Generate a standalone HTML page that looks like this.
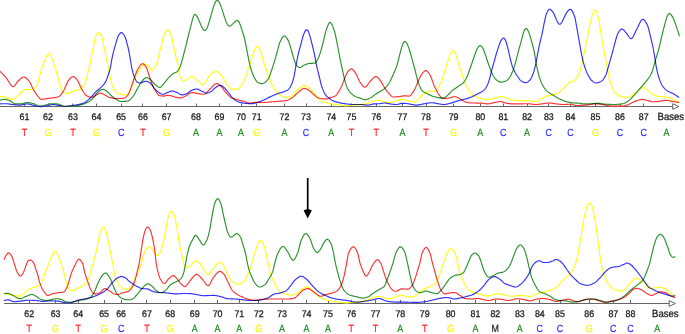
<!DOCTYPE html>
<html><head><meta charset="utf-8"><style>
html,body{margin:0;padding:0;background:#fff;overflow:hidden;}
svg{display:block;}
.c{filter:blur(0.35px);}
.c path{mix-blend-mode:multiply;fill:none;stroke-width:1.15;stroke-linejoin:round;stroke-linecap:round;}
.ax line,.ax path{stroke:#666;stroke-width:1;}
.ax .ah{fill:#fff;}
.t{filter:blur(0.2px);}
text{font-family:"Liberation Sans",sans-serif;text-anchor:middle;text-rendering:geometricPrecision;}
.num{font-size:9.6px;fill:#1c1c1c;stroke:#1c1c1c;stroke-width:0.3px;}
.base{font-size:10.4px;stroke-width:0.2px;}
.bl{font-size:10.4px;fill:#1c1c1c;stroke:#1c1c1c;stroke-width:0.3px;text-anchor:start;}
</style></head><body>
<svg width="685" height="334" viewBox="0 0 685 334">
<g class="ax">
<line x1="0" y1="106.5" x2="673" y2="106.5"/>
<path class="ah" d="M672.7,103.7 L679,106.5 L672.7,109.3 Z"/>
<line x1="24.5" y1="106.5" x2="24.5" y2="103.5"/>
<line x1="48.5" y1="106.5" x2="48.5" y2="103.5"/>
<line x1="72.5" y1="106.5" x2="72.5" y2="103.5"/>
<line x1="96.5" y1="106.5" x2="96.5" y2="103.5"/>
<line x1="121.5" y1="106.5" x2="121.5" y2="103.5"/>
<line x1="142.5" y1="106.5" x2="142.5" y2="103.5"/>
<line x1="166.5" y1="106.5" x2="166.5" y2="103.5"/>
<line x1="196.5" y1="106.5" x2="196.5" y2="103.5"/>
<line x1="219.5" y1="106.5" x2="219.5" y2="103.5"/>
<line x1="241.5" y1="106.5" x2="241.5" y2="103.5"/>
<line x1="256.5" y1="106.5" x2="256.5" y2="103.5"/>
<line x1="284.5" y1="106.5" x2="284.5" y2="103.5"/>
<line x1="306.5" y1="106.5" x2="306.5" y2="103.5"/>
<line x1="331.5" y1="106.5" x2="331.5" y2="103.5"/>
<line x1="351.5" y1="106.5" x2="351.5" y2="103.5"/>
<line x1="376.5" y1="106.5" x2="376.5" y2="103.5"/>
<line x1="402.5" y1="106.5" x2="402.5" y2="103.5"/>
<line x1="426.5" y1="106.5" x2="426.5" y2="103.5"/>
<line x1="453.5" y1="106.5" x2="453.5" y2="103.5"/>
<line x1="480.5" y1="106.5" x2="480.5" y2="103.5"/>
<line x1="503.5" y1="106.5" x2="503.5" y2="103.5"/>
<line x1="527.5" y1="106.5" x2="527.5" y2="103.5"/>
<line x1="548.5" y1="106.5" x2="548.5" y2="103.5"/>
<line x1="570.5" y1="106.5" x2="570.5" y2="103.5"/>
<line x1="595.5" y1="106.5" x2="595.5" y2="103.5"/>
<line x1="620.5" y1="106.5" x2="620.5" y2="103.5"/>
<line x1="643.5" y1="106.5" x2="643.5" y2="103.5"/>
<line x1="4" y1="303.5" x2="669.5" y2="303.5"/>
<path class="ah" d="M669.2,300.7 L675.5,303.5 L669.2,306.3 Z"/>
<line x1="29.5" y1="303.5" x2="29.5" y2="299.9"/>
<line x1="55.5" y1="303.5" x2="55.5" y2="299.9"/>
<line x1="78.5" y1="303.5" x2="78.5" y2="299.9"/>
<line x1="104.5" y1="303.5" x2="104.5" y2="299.9"/>
<line x1="121.5" y1="303.5" x2="121.5" y2="299.9"/>
<line x1="146.5" y1="303.5" x2="146.5" y2="299.9"/>
<line x1="170.5" y1="303.5" x2="170.5" y2="299.9"/>
<line x1="194.5" y1="303.5" x2="194.5" y2="299.9"/>
<line x1="217.5" y1="303.5" x2="217.5" y2="299.9"/>
<line x1="239.5" y1="303.5" x2="239.5" y2="299.9"/>
<line x1="258.5" y1="303.5" x2="258.5" y2="299.9"/>
<line x1="282.5" y1="303.5" x2="282.5" y2="299.9"/>
<line x1="306.5" y1="303.5" x2="306.5" y2="299.9"/>
<line x1="328.5" y1="303.5" x2="328.5" y2="299.9"/>
<line x1="351.5" y1="303.5" x2="351.5" y2="299.9"/>
<line x1="375.5" y1="303.5" x2="375.5" y2="299.9"/>
<line x1="400.5" y1="303.5" x2="400.5" y2="299.9"/>
<line x1="424.5" y1="303.5" x2="424.5" y2="299.9"/>
<line x1="450.5" y1="303.5" x2="450.5" y2="299.9"/>
<line x1="475.5" y1="303.5" x2="475.5" y2="299.9"/>
<line x1="495.5" y1="303.5" x2="495.5" y2="299.9"/>
<line x1="519.5" y1="303.5" x2="519.5" y2="299.9"/>
<line x1="539.5" y1="303.5" x2="539.5" y2="299.9"/>
<line x1="560.5" y1="303.5" x2="560.5" y2="299.9"/>
<line x1="589.5" y1="303.5" x2="589.5" y2="299.9"/>
<line x1="613.5" y1="303.5" x2="613.5" y2="299.9"/>
<line x1="630.5" y1="303.5" x2="630.5" y2="299.9"/>
</g>
<g class="c">
<path d="M0.0,96.40 0.5,96.43 1.0,96.47 1.5,96.52 2.0,96.58 2.5,96.65 3.0,96.73 3.5,96.81 4.0,96.90 4.5,97.00 5.0,97.09 5.5,97.20 6.0,97.30 6.5,97.43 7.0,97.60 7.5,97.81 8.0,98.03 8.5,98.27 9.0,98.51 9.5,98.74 10.0,98.95 10.5,99.13 11.0,99.27 11.5,99.37 12.0,99.40 12.5,99.35 13.0,99.22 13.5,99.00 14.0,98.73 14.5,98.41 15.0,98.06 15.5,97.68 16.0,97.30 16.5,96.92 17.0,96.55 17.5,96.13 18.0,95.65 18.5,95.12 19.0,94.58 19.5,94.02 20.0,93.48 20.5,92.96 21.0,92.49 21.5,92.07 22.0,91.70 22.5,91.32 23.0,90.92 23.5,90.55 24.0,90.19 24.5,89.88 25.0,89.62 25.5,89.43 26.0,89.32 26.5,89.30 27.0,89.32 27.5,89.35 28.0,89.39 28.5,89.43 29.0,89.48 29.5,89.52 30.0,89.56 30.5,89.59 31.0,89.60 31.5,89.58 32.0,89.51 32.5,89.39 33.0,89.22 33.5,89.02 34.0,88.78 34.5,88.51 35.0,88.17 35.5,87.57 36.0,86.73 36.5,85.71 37.0,84.54 37.5,83.28 38.0,81.98 38.5,80.65 39.0,79.01 39.5,77.11 40.0,75.05 40.5,72.97 41.0,70.97 41.5,69.19 42.0,67.73 42.5,66.38 43.0,65.00 43.5,63.62 44.0,62.25 44.5,60.92 45.0,59.65 45.5,58.45 46.0,57.34 46.5,56.35 47.0,55.48 47.5,54.77 48.0,54.22 48.5,53.86 49.0,53.70 49.5,53.81 50.0,54.25 50.5,54.97 51.0,55.93 51.5,57.11 52.0,58.45 52.5,59.92 53.0,61.47 53.5,63.07 54.0,64.67 54.5,66.23 55.0,67.72 55.5,69.18 56.0,70.77 56.5,72.46 57.0,74.20 57.5,75.96 58.0,77.69 58.5,79.36 59.0,80.98 59.5,82.73 60.0,84.52 60.5,86.28 61.0,87.90 61.5,89.29 62.0,90.36 62.5,91.04 63.0,91.58 63.5,92.07 64.0,92.47 64.5,92.79 65.0,93.02 65.5,93.14 66.0,93.24 66.5,93.32 67.0,93.37 67.5,93.40 68.0,93.37 68.5,93.27 69.0,93.11 69.5,92.90 70.0,92.64 70.5,92.36 71.0,92.07 71.5,91.78 72.0,91.49 72.5,91.23 73.0,91.01 73.5,90.83 74.0,90.70 74.5,90.59 75.0,90.50 75.5,90.42 76.0,90.34 76.5,90.27 77.0,90.20 77.5,90.12 78.0,90.03 78.5,89.92 79.0,89.79 79.5,89.63 80.0,89.42 80.5,89.09 81.0,88.65 81.5,88.14 82.0,87.56 82.5,86.93 83.0,86.27 83.5,85.58 84.0,84.80 84.5,83.92 85.0,82.93 85.5,81.81 86.0,80.55 86.5,79.05 87.0,77.06 87.5,74.75 88.0,72.34 88.5,70.06 89.0,67.86 89.5,65.65 90.0,63.42 90.5,61.15 91.0,58.84 91.5,56.46 92.0,53.97 92.5,51.44 93.0,48.92 93.5,46.47 94.0,43.99 94.5,41.29 95.0,38.71 95.5,36.57 96.0,35.20 96.5,34.36 97.0,33.63 97.5,33.05 98.0,32.70 98.5,32.60 99.0,32.73 99.5,33.01 100.0,33.44 100.5,33.98 101.0,34.63 101.5,35.37 102.0,36.86 102.5,39.12 103.0,41.79 103.5,44.50 104.0,46.96 104.5,49.45 105.0,52.00 105.5,54.54 106.0,56.97 106.5,59.22 107.0,61.27 107.5,63.25 108.0,65.29 108.5,67.52 109.0,70.17 109.5,73.22 110.0,76.13 110.5,78.46 111.0,80.54 111.5,82.46 112.0,84.20 112.5,85.72 113.0,86.98 113.5,88.03 114.0,89.00 114.5,89.90 115.0,90.71 115.5,91.41 116.0,92.00 116.5,92.45 117.0,92.80 117.5,93.11 118.0,93.40 118.5,93.66 119.0,93.89 119.5,94.10 120.0,94.28 120.5,94.42 121.0,94.53 121.5,94.60 122.0,94.65 122.5,94.70 123.0,94.75 123.5,94.79 124.0,94.82 124.5,94.85 125.0,94.87 125.5,94.89 126.0,94.90 126.5,94.88 127.0,94.67 127.5,94.26 128.0,93.72 128.5,93.08 129.0,92.41 129.5,91.71 130.0,90.86 130.5,89.83 131.0,88.70 131.5,87.50 132.0,86.14 132.5,84.58 133.0,82.94 133.5,81.37 134.0,80.00 134.5,78.79 135.0,77.63 135.5,76.51 136.0,75.43 136.5,74.41 137.0,73.43 137.5,72.52 138.0,71.65 138.5,70.85 139.0,70.11 139.5,69.46 140.0,68.87 140.5,68.31 141.0,67.74 141.5,67.11 142.0,66.35 142.5,65.56 143.0,64.82 143.5,64.25 144.0,63.93 144.5,63.92 145.0,64.03 145.5,64.23 146.0,64.51 146.5,64.83 147.0,65.20 147.5,65.59 148.0,65.99 148.5,66.38 149.0,66.92 149.5,67.62 150.0,68.39 150.5,69.14 151.0,69.78 151.5,70.23 152.0,70.40 152.5,70.28 153.0,69.94 153.5,69.42 154.0,68.76 154.5,68.00 155.0,67.16 155.5,66.30 156.0,65.24 156.5,63.86 157.0,62.22 157.5,60.41 158.0,58.49 158.5,56.55 159.0,54.66 159.5,52.78 160.0,50.71 160.5,48.53 161.0,46.31 161.5,44.11 162.0,42.02 162.5,40.11 163.0,38.45 163.5,37.07 164.0,35.72 164.5,34.38 165.0,33.10 165.5,31.95 166.0,30.99 166.5,30.28 167.0,29.87 167.5,29.82 168.0,30.05 168.5,30.51 169.0,31.16 169.5,31.96 170.0,32.89 170.5,33.91 171.0,34.98 171.5,36.29 172.0,38.16 172.5,40.48 173.0,43.07 173.5,45.80 174.0,48.51 174.5,51.06 175.0,53.34 175.5,55.50 176.0,57.60 176.5,59.69 177.0,61.83 177.5,64.08 178.0,66.47 178.5,69.19 179.0,72.70 179.5,75.20 180.0,76.40 180.5,77.47 181.0,78.42 181.5,79.22 182.0,79.88 182.5,80.38 183.0,80.72 183.5,80.89 184.0,80.88 184.5,80.77 185.0,80.57 185.5,80.32 186.0,80.01 186.5,79.69 187.0,79.35 187.5,79.03 188.0,78.74 188.5,78.41 189.0,78.03 189.5,77.63 190.0,77.23 190.5,76.87 191.0,76.57 191.5,76.37 192.0,76.30 192.5,76.38 193.0,76.60 193.5,76.92 194.0,77.34 194.5,77.81 195.0,78.32 195.5,78.83 196.0,79.32 196.5,79.77 197.0,80.15 197.5,80.55 198.0,80.98 198.5,81.42 199.0,81.88 199.5,82.33 200.0,82.76 200.5,83.18 201.0,83.55 201.5,83.88 202.0,84.15 202.5,84.35 203.0,84.47 203.5,84.49 204.0,84.32 204.5,83.94 205.0,83.37 205.5,82.65 206.0,81.81 206.5,80.90 207.0,79.95 207.5,78.98 208.0,78.04 208.5,77.15 209.0,76.36 209.5,75.70 210.0,75.20 210.5,74.79 211.0,74.38 211.5,73.97 212.0,73.57 212.5,73.19 213.0,72.83 213.5,72.50 214.0,72.20 214.5,71.94 215.0,71.72 215.5,71.56 216.0,71.45 216.5,71.40 217.0,71.45 217.5,71.62 218.0,71.92 218.5,72.31 219.0,72.79 219.5,73.33 220.0,73.92 220.5,74.54 221.0,75.17 221.5,75.80 222.0,76.40 222.5,77.05 223.0,77.81 223.5,78.66 224.0,79.56 224.5,80.50 225.0,81.46 225.5,82.40 226.0,83.31 226.5,84.16 227.0,84.92 227.5,85.57 228.0,86.10 228.5,86.58 229.0,87.06 229.5,87.53 230.0,87.98 230.5,88.38 231.0,88.72 231.5,89.00 232.0,89.19 232.5,89.29 233.0,89.30 233.5,89.30 234.0,89.30 234.5,89.30 235.0,89.30 235.5,89.30 236.0,89.30 236.5,89.30 237.0,89.30 237.5,89.30 238.0,89.20 238.5,88.91 239.0,88.46 239.5,87.89 240.0,87.21 240.5,86.46 241.0,85.67 241.5,84.86 242.0,84.06 242.5,83.29 243.0,82.47 243.5,81.58 244.0,80.62 244.5,79.59 245.0,78.51 245.5,77.36 246.0,76.15 246.5,74.76 247.0,73.21 247.5,71.58 248.0,69.98 248.5,68.50 249.0,67.06 249.5,65.53 250.0,63.94 250.5,62.31 251.0,60.65 251.5,58.99 252.0,57.35 252.5,55.74 253.0,54.20 253.5,52.74 254.0,51.38 254.5,50.14 255.0,49.04 255.5,48.10 256.0,47.35 256.5,46.80 257.0,46.48 257.5,46.41 258.0,46.62 258.5,47.12 259.0,47.88 259.5,48.86 260.0,50.04 260.5,51.39 261.0,52.88 261.5,54.48 262.0,56.16 262.5,57.89 263.0,59.65 263.5,61.39 264.0,63.10 264.5,64.75 265.0,66.30 265.5,67.73 266.0,69.07 266.5,70.43 267.0,71.80 267.5,73.16 268.0,74.51 268.5,75.83 269.0,77.11 269.5,78.34 270.0,79.60 270.5,80.86 271.0,82.12 271.5,83.34 272.0,84.52 272.5,85.63 273.0,86.66 273.5,87.59 274.0,88.40 274.5,89.13 275.0,89.83 275.5,90.50 276.0,91.14 276.5,91.75 277.0,92.32 277.5,92.86 278.0,93.35 278.5,93.81 279.0,94.22 279.5,94.58 280.0,94.90 280.5,95.19 281.0,95.48 281.5,95.77 282.0,96.04 282.5,96.30 283.0,96.54 283.5,96.75 284.0,96.94 284.5,97.09 285.0,97.20 285.5,97.28 286.0,97.30 286.5,97.29 287.0,97.27 287.5,97.23 288.0,97.17 288.5,97.11 289.0,97.03 289.5,96.94 290.0,96.85 290.5,96.74 291.0,96.61 291.5,96.37 292.0,96.02 292.5,95.59 293.0,95.09 293.5,94.53 294.0,93.94 294.5,93.32 295.0,92.71 295.5,92.10 296.0,91.52 296.5,91.00 297.0,90.51 297.5,90.00 298.0,89.49 298.5,88.98 299.0,88.49 299.5,88.03 300.0,87.63 300.5,87.30 301.0,87.00 301.5,86.71 302.0,86.42 302.5,86.16 303.0,85.93 303.5,85.76 304.0,85.64 304.5,85.60 305.0,85.64 305.5,85.75 306.0,85.91 306.5,86.14 307.0,86.40 307.5,86.71 308.0,87.04 308.5,87.39 309.0,87.75 309.5,88.11 310.0,88.47 310.5,88.87 311.0,89.33 311.5,89.83 312.0,90.37 312.5,90.95 313.0,91.55 313.5,92.18 314.0,92.81 314.5,93.45 315.0,94.10 315.5,94.83 316.0,95.59 316.5,96.33 317.0,97.00 317.5,97.62 318.0,98.23 318.5,98.82 319.0,99.36 319.5,99.84 320.0,100.23 320.5,100.55 321.0,100.84 321.5,101.10 322.0,101.35 322.5,101.57 323.0,101.77 323.5,101.96 324.0,102.13 324.5,102.30 325.0,102.46 325.5,102.61 326.0,102.76 326.5,102.90 327.0,103.03 327.5,103.16 328.0,103.28 328.5,103.40 329.0,103.50 329.5,103.60 330.0,103.70 330.5,103.78 331.0,103.86 331.5,103.94 332.0,104.00 332.5,104.07 333.0,104.13 333.5,104.19 334.0,104.24 334.5,104.29 335.0,104.35 335.5,104.40 336.0,104.45 336.5,104.50 337.0,104.55 337.5,104.60 338.0,104.66 338.5,104.71 339.0,104.77 339.5,104.84 340.0,104.92 340.5,105.00 341.0,105.09 341.5,105.18 342.0,105.28 342.5,105.37 343.0,105.46 343.5,105.54 344.0,105.62 344.5,105.68 345.0,105.74 345.5,105.77 346.0,105.80 346.5,105.80 347.0,105.78 347.5,105.75 348.0,105.71 348.5,105.66 349.0,105.59 349.5,105.53 350.0,105.45 350.5,105.38 351.0,105.30 351.5,105.23 352.0,105.16 352.5,105.10 353.0,105.04 353.5,105.00 354.0,104.96 354.5,104.93 355.0,104.90 355.5,104.88 356.0,104.85 356.5,104.83 357.0,104.81 357.5,104.79 358.0,104.76 358.5,104.74 359.0,104.71 359.5,104.68 360.0,104.64 360.5,104.60 361.0,104.55 361.5,104.50 362.0,104.44 362.5,104.38 363.0,104.30 363.5,104.23 364.0,104.14 364.5,104.05 365.0,103.96 365.5,103.86 366.0,103.75 366.5,103.64 367.0,103.52 367.5,103.40 368.0,103.27 368.5,103.11 369.0,102.91 369.5,102.69 370.0,102.44 370.5,102.19 371.0,101.95 371.5,101.72 372.0,101.52 372.5,101.35 373.0,101.23 373.5,101.11 374.0,100.99 374.5,100.87 375.0,100.76 375.5,100.66 376.0,100.56 376.5,100.48 377.0,100.41 377.5,100.36 378.0,100.32 378.5,100.30 379.0,100.31 379.5,100.36 380.0,100.46 380.5,100.58 381.0,100.73 381.5,100.89 382.0,101.05 382.5,101.22 383.0,101.37 383.5,101.50 384.0,101.63 384.5,101.77 385.0,101.92 385.5,102.07 386.0,102.22 386.5,102.35 387.0,102.47 387.5,102.58 388.0,102.65 388.5,102.69 389.0,102.70 389.5,102.67 390.0,102.61 390.5,102.52 391.0,102.41 391.5,102.28 392.0,102.14 392.5,101.98 393.0,101.82 393.5,101.65 394.0,101.49 394.5,101.33 395.0,101.17 395.5,101.03 396.0,100.90 396.5,100.77 397.0,100.64 397.5,100.49 398.0,100.34 398.5,100.19 399.0,100.04 399.5,99.90 400.0,99.77 400.5,99.65 401.0,99.55 401.5,99.47 402.0,99.42 402.5,99.40 403.0,99.42 403.5,99.48 404.0,99.59 404.5,99.72 405.0,99.89 405.5,100.06 406.0,100.25 406.5,100.43 407.0,100.61 407.5,100.77 408.0,100.90 408.5,101.02 409.0,101.15 409.5,101.29 410.0,101.43 410.5,101.56 411.0,101.69 411.5,101.80 412.0,101.90 412.5,101.99 413.0,102.05 413.5,102.09 414.0,102.10 414.5,102.02 415.0,101.85 415.5,101.59 416.0,101.27 416.5,100.91 417.0,100.50 417.5,100.08 418.0,99.66 418.5,99.26 419.0,98.86 419.5,98.40 420.0,97.88 420.5,97.33 421.0,96.74 421.5,96.15 422.0,95.56 422.5,94.99 423.0,94.46 423.5,93.97 424.0,93.55 424.5,93.21 425.0,92.95 425.5,92.69 426.0,92.44 426.5,92.20 427.0,91.98 427.5,91.79 428.0,91.63 428.5,91.51 429.0,91.43 429.5,91.40 430.0,91.40 430.5,91.40 431.0,91.40 431.5,91.40 432.0,91.40 432.5,91.40 433.0,91.40 433.5,91.40 434.0,91.40 434.5,91.40 435.0,91.40 435.5,91.40 436.0,91.26 436.5,90.86 437.0,90.25 437.5,89.46 438.0,88.53 438.5,87.50 439.0,86.42 439.5,85.31 440.0,84.23 440.5,83.18 441.0,82.05 441.5,80.82 442.0,79.50 442.5,78.12 443.0,76.67 443.5,75.20 444.0,73.69 444.5,72.03 445.0,70.27 445.5,68.60 446.0,67.12 446.5,65.61 447.0,64.04 447.5,62.44 448.0,60.85 448.5,59.28 449.0,57.76 449.5,56.32 450.0,54.98 450.5,53.76 451.0,52.70 451.5,51.82 452.0,51.15 452.5,50.70 453.0,50.51 453.5,50.61 454.0,51.03 454.5,51.74 455.0,52.69 455.5,53.86 456.0,55.21 456.5,56.69 457.0,58.28 457.5,59.94 458.0,61.63 458.5,63.32 459.0,64.97 459.5,66.54 460.0,68.00 460.5,69.43 461.0,70.93 461.5,72.45 462.0,73.99 462.5,75.50 463.0,77.06 463.5,78.65 464.0,80.20 464.5,81.63 465.0,82.88 465.5,84.04 466.0,85.15 466.5,86.19 467.0,87.17 467.5,88.10 468.0,88.96 468.5,89.76 469.0,90.53 469.5,91.30 470.0,92.05 470.5,92.76 471.0,93.43 471.5,94.04 472.0,94.59 472.5,95.06 473.0,95.44 473.5,95.74 474.0,96.02 474.5,96.27 475.0,96.51 475.5,96.72 476.0,96.92 476.5,97.10 477.0,97.27 477.5,97.43 478.0,97.59 478.5,97.73 479.0,97.87 479.5,98.01 480.0,98.16 480.5,98.30 481.0,98.44 481.5,98.58 482.0,98.72 482.5,98.85 483.0,98.97 483.5,99.08 484.0,99.18 484.5,99.26 485.0,99.32 485.5,99.37 486.0,99.40 486.5,99.40 487.0,99.39 487.5,99.36 488.0,99.32 488.5,99.28 489.0,99.22 489.5,99.15 490.0,99.08 490.5,99.00 491.0,98.92 491.5,98.84 492.0,98.75 492.5,98.67 493.0,98.58 493.5,98.50 494.0,98.41 494.5,98.30 495.0,98.17 495.5,98.03 496.0,97.87 496.5,97.72 497.0,97.55 497.5,97.39 498.0,97.24 498.5,97.08 499.0,96.94 499.5,96.82 500.0,96.71 500.5,96.62 501.0,96.55 501.5,96.51 502.0,96.50 502.5,96.54 503.0,96.62 503.5,96.75 504.0,96.90 504.5,97.09 505.0,97.29 505.5,97.51 506.0,97.73 506.5,97.95 507.0,98.16 507.5,98.36 508.0,98.53 508.5,98.71 509.0,98.91 509.5,99.11 510.0,99.31 510.5,99.50 511.0,99.68 511.5,99.84 512.0,99.97 512.5,100.07 513.0,100.14 513.5,100.20 514.0,100.26 514.5,100.32 515.0,100.37 515.5,100.42 516.0,100.46 516.5,100.50 517.0,100.53 517.5,100.56 518.0,100.58 518.5,100.59 519.0,100.60 519.5,100.60 520.0,100.60 520.5,100.60 521.0,100.60 521.5,100.60 522.0,100.60 522.5,100.60 523.0,100.60 523.5,100.60 524.0,100.60 524.5,100.60 525.0,100.60 525.5,100.60 526.0,100.60 526.5,100.60 527.0,100.61 527.5,100.63 528.0,100.67 528.5,100.71 529.0,100.76 529.5,100.82 530.0,100.88 530.5,100.95 531.0,101.02 531.5,101.09 532.0,101.16 532.5,101.23 533.0,101.29 533.5,101.35 534.0,101.40 534.5,101.44 535.0,101.47 535.5,101.49 536.0,101.50 536.5,101.45 537.0,101.30 537.5,101.09 538.0,100.81 538.5,100.50 539.0,100.16 539.5,99.83 540.0,99.50 540.5,99.21 541.0,98.95 541.5,98.68 542.0,98.40 542.5,98.11 543.0,97.83 543.5,97.55 544.0,97.27 544.5,97.01 545.0,96.76 545.5,96.53 546.0,96.33 546.5,96.16 547.0,96.02 547.5,95.89 548.0,95.79 548.5,95.69 549.0,95.60 549.5,95.52 550.0,95.43 550.5,95.35 551.0,95.27 551.5,95.17 552.0,95.07 552.5,94.95 553.0,94.82 553.5,94.68 554.0,94.53 554.5,94.38 555.0,94.21 555.5,94.03 556.0,93.84 556.5,93.64 557.0,93.43 557.5,93.20 558.0,92.96 558.5,92.71 559.0,92.43 559.5,92.09 560.0,91.71 560.5,91.28 561.0,90.83 561.5,90.35 562.0,89.86 562.5,89.37 563.0,88.88 563.5,88.40 564.0,87.91 564.5,87.38 565.0,86.83 565.5,86.26 566.0,85.68 566.5,85.10 567.0,84.55 567.5,84.02 568.0,83.53 568.5,83.09 569.0,82.71 569.5,82.40 570.0,82.16 570.5,81.96 571.0,81.80 571.5,81.65 572.0,81.52 572.5,81.37 573.0,81.21 573.5,81.01 574.0,80.77 574.5,80.46 575.0,80.01 575.5,79.41 576.0,78.70 576.5,77.91 577.0,77.07 577.5,76.20 578.0,75.33 578.5,74.43 579.0,73.44 579.5,72.32 580.0,71.02 580.5,69.41 581.0,67.50 581.5,65.38 582.0,63.17 582.5,60.94 583.0,58.71 583.5,56.37 584.0,53.94 584.5,51.46 585.0,48.96 585.5,46.48 586.0,44.03 586.5,41.59 587.0,39.13 587.5,36.67 588.0,34.20 588.5,31.64 589.0,28.92 589.5,26.19 590.0,23.62 590.5,21.35 591.0,19.49 591.5,17.67 592.0,15.87 592.5,14.15 593.0,12.60 593.5,11.30 594.0,10.34 594.5,9.80 595.0,9.74 595.5,10.13 596.0,10.90 596.5,12.00 597.0,13.38 597.5,14.99 598.0,16.76 598.5,18.64 599.0,20.62 599.5,23.47 600.0,27.12 600.5,30.93 601.0,34.33 601.5,37.41 602.0,40.40 602.5,43.28 603.0,46.04 603.5,48.65 604.0,51.15 604.5,53.59 605.0,56.01 605.5,58.47 606.0,61.02 606.5,63.71 607.0,66.49 607.5,69.27 608.0,71.95 608.5,74.43 609.0,76.74 609.5,78.96 610.0,81.03 610.5,82.86 611.0,84.42 611.5,85.90 612.0,87.32 612.5,88.63 613.0,89.81 613.5,90.81 614.0,91.62 614.5,92.22 615.0,92.74 615.5,93.22 616.0,93.66 616.5,94.07 617.0,94.44 617.5,94.78 618.0,95.09 618.5,95.36 619.0,95.60 619.5,95.82 620.0,96.00 620.5,96.16 621.0,96.31 621.5,96.46 622.0,96.60 622.5,96.74 623.0,96.86 623.5,96.98 624.0,97.07 624.5,97.16 625.0,97.22 625.5,97.27 626.0,97.30 626.5,97.30 627.0,97.27 627.5,97.20 628.0,97.11 628.5,96.99 629.0,96.85 629.5,96.69 630.0,96.52 630.5,96.33 631.0,96.14 631.5,95.90 632.0,95.56 632.5,95.14 633.0,94.68 633.5,94.20 634.0,93.73 634.5,93.30 635.0,92.91 635.5,92.52 636.0,92.13 636.5,91.75 637.0,91.37 637.5,91.00 638.0,90.63 638.5,90.27 639.0,89.89 639.5,89.46 640.0,89.01 640.5,88.56 641.0,88.15 641.5,87.80 642.0,87.55 642.5,87.41 643.0,87.42 643.5,87.53 644.0,87.72 644.5,87.98 645.0,88.29 645.5,88.63 646.0,88.98 646.5,89.33 647.0,89.67 647.5,90.03 648.0,90.45 648.5,90.90 649.0,91.37 649.5,91.85 650.0,92.33 650.5,92.78 651.0,93.20 651.5,93.57 652.0,93.89 652.5,94.21 653.0,94.52 653.5,94.83 654.0,95.12 654.5,95.39 655.0,95.63 655.5,95.83 656.0,95.99 656.5,96.10 657.0,96.18 657.5,96.25 658.0,96.31 658.5,96.36 659.0,96.40 659.5,96.44 660.0,96.48 660.5,96.52 661.0,96.56 661.5,96.60 662.0,96.65 662.5,96.70 663.0,96.75 663.5,96.81 664.0,96.86 664.5,96.91 665.0,96.97 665.5,97.03 666.0,97.09 666.5,97.16 667.0,97.25 667.5,97.34 668.0,97.46 668.5,97.61 669.0,97.79 669.5,97.98 670.0,98.19 670.5,98.41 671.0,98.65 671.5,98.88 672.0,99.12 672.5,99.35 673.0,99.57 673.5,99.78 674.0,100.00 674.5,100.21 675.0,100.43 675.5,100.65 676.0,100.87 676.5,101.09 677.0,101.32 677.5,101.55 678.0,101.78 678.5,102.01 678.7,102.10" stroke="#ffff10"/>
<path d="M0.0,71.40 0.5,71.87 1.0,72.35 1.5,72.84 2.0,73.34 2.5,73.84 3.0,74.36 3.5,74.88 4.0,75.41 4.5,75.94 5.0,76.49 5.5,77.04 6.0,77.60 6.5,78.21 7.0,78.91 7.5,79.67 8.0,80.47 8.5,81.30 9.0,82.14 9.5,82.96 10.0,83.74 10.5,84.47 11.0,85.12 11.5,85.68 12.0,86.12 12.5,86.43 13.0,86.59 13.5,86.55 14.0,86.30 14.5,85.85 15.0,85.26 15.5,84.57 16.0,83.82 16.5,83.07 17.0,82.35 17.5,81.71 18.0,81.20 18.5,80.75 19.0,80.28 19.5,79.81 20.0,79.34 20.5,78.88 21.0,78.45 21.5,78.05 22.0,77.70 22.5,77.41 23.0,77.19 23.5,77.05 24.0,77.00 24.5,77.06 25.0,77.24 25.5,77.51 26.0,77.87 26.5,78.30 27.0,78.78 27.5,79.29 28.0,79.83 28.5,80.38 29.0,80.96 29.5,81.69 30.0,82.55 30.5,83.51 31.0,84.55 31.5,85.62 32.0,86.69 32.5,87.73 33.0,88.71 33.5,89.60 34.0,90.43 34.5,91.25 35.0,92.07 35.5,92.86 36.0,93.64 36.5,94.38 37.0,95.08 37.5,95.75 38.0,96.36 38.5,96.93 39.0,97.52 39.5,98.12 40.0,98.67 40.5,99.10 41.0,99.35 41.5,99.40 42.0,99.38 42.5,99.35 43.0,99.30 43.5,99.23 44.0,99.16 44.5,99.08 45.0,98.99 45.5,98.90 46.0,98.81 46.5,98.72 47.0,98.64 47.5,98.56 48.0,98.49 48.5,98.42 49.0,98.36 49.5,98.29 50.0,98.23 50.5,98.17 51.0,98.11 51.5,98.05 52.0,97.98 52.5,97.91 53.0,97.84 53.5,97.76 54.0,97.68 54.5,97.61 55.0,97.53 55.5,97.45 56.0,97.37 56.5,97.28 57.0,97.18 57.5,97.06 58.0,96.93 58.5,96.77 59.0,96.57 59.5,96.23 60.0,95.78 60.5,95.23 61.0,94.59 61.5,93.89 62.0,93.14 62.5,92.36 63.0,91.57 63.5,90.80 64.0,89.95 64.5,88.95 65.0,87.85 65.5,86.67 66.0,85.47 66.5,84.28 67.0,83.13 67.5,82.07 68.0,81.14 68.5,80.37 69.0,79.78 69.5,79.24 70.0,78.70 70.5,78.19 71.0,77.73 71.5,77.33 72.0,77.00 72.5,76.76 73.0,76.62 73.5,76.61 74.0,76.77 74.5,77.06 75.0,77.47 75.5,77.98 76.0,78.54 76.5,79.15 77.0,79.76 77.5,80.40 78.0,81.20 78.5,82.16 79.0,83.22 79.5,84.35 80.0,85.50 80.5,86.65 81.0,87.74 81.5,88.74 82.0,89.60 82.5,90.39 83.0,91.19 83.5,91.99 84.0,92.75 84.5,93.48 85.0,94.14 85.5,94.73 86.0,95.23 86.5,95.62 87.0,95.90 87.5,96.15 88.0,96.38 88.5,96.60 89.0,96.80 89.5,96.97 90.0,97.11 90.5,97.21 91.0,97.28 91.5,97.30 92.0,97.25 92.5,97.11 93.0,96.89 93.5,96.62 94.0,96.31 94.5,95.98 95.0,95.65 95.5,95.33 96.0,95.05 96.5,94.80 97.0,94.54 97.5,94.26 98.0,93.98 98.5,93.71 99.0,93.47 99.5,93.27 100.0,93.15 100.5,93.10 101.0,93.15 101.5,93.27 102.0,93.47 102.5,93.71 103.0,93.98 103.5,94.26 104.0,94.54 104.5,94.80 105.0,95.04 105.5,95.30 106.0,95.58 106.5,95.86 107.0,96.15 107.5,96.42 108.0,96.69 108.5,96.92 109.0,97.13 109.5,97.30 110.0,97.45 110.5,97.59 111.0,97.73 111.5,97.87 112.0,98.00 112.5,98.12 113.0,98.23 113.5,98.32 114.0,98.39 114.5,98.45 115.0,98.49 115.5,98.50 116.0,98.50 116.5,98.50 117.0,98.50 117.5,98.50 118.0,98.50 118.5,98.50 119.0,98.50 119.5,98.50 120.0,98.50 120.5,98.50 121.0,98.50 121.5,98.50 122.0,98.47 122.5,98.40 123.0,98.28 123.5,98.11 124.0,97.92 124.5,97.69 125.0,97.44 125.5,97.17 126.0,96.88 126.5,96.57 127.0,96.13 127.5,95.57 128.0,94.90 128.5,94.07 129.0,93.03 129.5,91.82 130.0,90.49 130.5,89.09 131.0,87.67 131.5,86.27 132.0,84.87 132.5,83.36 133.0,81.78 133.5,80.18 134.0,78.61 134.5,77.10 135.0,75.71 135.5,74.45 136.0,73.22 136.5,72.01 137.0,70.86 137.5,69.79 138.0,68.81 138.5,67.95 139.0,67.21 139.5,66.48 140.0,65.76 140.5,65.09 141.0,64.51 141.5,64.06 142.0,63.77 142.5,63.70 143.0,63.82 143.5,64.09 144.0,64.49 144.5,65.00 145.0,65.58 145.5,66.23 146.0,66.90 146.5,67.80 147.0,69.04 147.5,70.52 148.0,72.11 148.5,73.71 149.0,75.20 149.5,76.62 150.0,78.09 150.5,79.55 151.0,80.98 151.5,82.34 152.0,83.60 152.5,84.78 153.0,85.92 153.5,87.01 154.0,88.06 154.5,89.04 155.0,89.96 155.5,90.80 156.0,91.63 156.5,92.47 157.0,93.30 157.5,94.05 158.0,94.70 158.5,95.19 159.0,95.47 159.5,95.59 160.0,95.70 160.5,95.79 161.0,95.87 161.5,95.94 162.0,96.00 162.5,96.05 163.0,96.08 163.5,96.10 164.0,96.10 164.5,96.04 165.0,95.92 165.5,95.77 166.0,95.60 166.5,95.45 167.0,95.34 167.5,95.30 168.0,95.31 168.5,95.36 169.0,95.42 169.5,95.50 170.0,95.59 170.5,95.68 171.0,95.78 171.5,95.89 172.0,96.03 172.5,96.19 173.0,96.37 173.5,96.56 174.0,96.74 174.5,96.92 175.0,97.08 175.5,97.22 176.0,97.32 176.5,97.41 177.0,97.50 177.5,97.58 178.0,97.66 178.5,97.73 179.0,97.80 179.5,97.85 180.0,97.88 180.5,97.90 181.0,97.89 181.5,97.82 182.0,97.70 182.5,97.53 183.0,97.33 183.5,97.10 184.0,96.85 184.5,96.60 185.0,96.34 185.5,96.10 186.0,95.84 186.5,95.53 187.0,95.19 187.5,94.84 188.0,94.47 188.5,94.12 189.0,93.78 189.5,93.48 190.0,93.23 190.5,93.02 191.0,92.82 191.5,92.67 192.0,92.60 192.5,92.62 193.0,92.67 193.5,92.74 194.0,92.83 194.5,92.93 195.0,93.05 195.5,93.16 196.0,93.26 196.5,93.35 197.0,93.43 197.5,93.51 198.0,93.59 198.5,93.67 199.0,93.75 199.5,93.84 200.0,93.92 200.5,93.99 201.0,94.07 201.5,94.13 202.0,94.19 202.5,94.23 203.0,94.27 203.5,94.29 204.0,94.30 204.5,94.23 205.0,94.03 205.5,93.71 206.0,93.30 206.5,92.82 207.0,92.29 207.5,91.72 208.0,91.13 208.5,90.55 209.0,89.98 209.5,89.46 210.0,89.00 210.5,88.55 211.0,88.05 211.5,87.53 212.0,86.99 212.5,86.44 213.0,85.91 213.5,85.40 214.0,84.93 214.5,84.50 215.0,84.15 215.5,83.87 216.0,83.68 216.5,83.60 217.0,83.64 217.5,83.77 218.0,84.00 218.5,84.30 219.0,84.64 219.5,85.03 220.0,85.43 220.5,85.84 221.0,86.26 221.5,86.76 222.0,87.34 222.5,87.99 223.0,88.67 223.5,89.37 224.0,90.08 224.5,90.76 225.0,91.41 225.5,92.00 226.0,92.56 226.5,93.14 227.0,93.73 227.5,94.31 228.0,94.88 228.5,95.43 229.0,95.96 229.5,96.45 230.0,96.90 230.5,97.30 231.0,97.63 231.5,97.90 232.0,98.12 232.5,98.31 233.0,98.49 233.5,98.65 234.0,98.80 234.5,98.93 235.0,99.06 235.5,99.19 236.0,99.31 236.5,99.43 237.0,99.56 237.5,99.70 238.0,99.84 238.5,99.98 239.0,100.11 239.5,100.24 240.0,100.38 240.5,100.51 241.0,100.64 241.5,100.77 242.0,100.90 242.5,101.03 243.0,101.16 243.5,101.30 244.0,101.45 244.5,101.62 245.0,101.80 245.5,101.98 246.0,102.17 246.5,102.36 247.0,102.53 247.5,102.68 248.0,102.81 248.5,102.91 249.0,102.98 249.5,103.00 250.0,102.99 250.5,102.96 251.0,102.91 251.5,102.84 252.0,102.77 252.5,102.69 253.0,102.61 253.5,102.53 254.0,102.46 254.5,102.39 255.0,102.34 255.5,102.31 256.0,102.30 256.5,102.30 257.0,102.31 257.5,102.32 258.0,102.34 258.5,102.36 259.0,102.38 259.5,102.40 260.0,102.42 260.5,102.44 261.0,102.46 261.5,102.47 262.0,102.49 262.5,102.49 263.0,102.50 263.5,102.50 264.0,102.49 264.5,102.47 265.0,102.44 265.5,102.41 266.0,102.37 266.5,102.32 267.0,102.27 267.5,102.22 268.0,102.16 268.5,102.11 269.0,102.05 269.5,102.00 270.0,101.95 270.5,101.90 271.0,101.85 271.5,101.81 272.0,101.77 272.5,101.73 273.0,101.70 273.5,101.67 274.0,101.63 274.5,101.60 275.0,101.57 275.5,101.54 276.0,101.50 276.5,101.47 277.0,101.43 277.5,101.40 278.0,101.36 278.5,101.32 279.0,101.28 279.5,101.25 280.0,101.21 280.5,101.17 281.0,101.13 281.5,101.10 282.0,101.06 282.5,101.02 283.0,100.97 283.5,100.92 284.0,100.87 284.5,100.81 285.0,100.75 285.5,100.68 286.0,100.60 286.5,100.50 287.0,100.37 287.5,100.20 288.0,100.01 288.5,99.79 289.0,99.55 289.5,99.29 290.0,99.02 290.5,98.73 291.0,98.44 291.5,98.14 292.0,97.84 292.5,97.50 293.0,97.11 293.5,96.68 294.0,96.23 294.5,95.75 295.0,95.26 295.5,94.76 296.0,94.27 296.5,93.79 297.0,93.34 297.5,92.91 298.0,92.53 298.5,92.13 299.0,91.72 299.5,91.30 300.0,90.87 300.5,90.45 301.0,90.04 301.5,89.66 302.0,89.32 302.5,89.01 303.0,88.76 303.5,88.56 304.0,88.44 304.5,88.40 305.0,88.44 305.5,88.55 306.0,88.73 306.5,88.95 307.0,89.21 307.5,89.50 308.0,89.79 308.5,90.09 309.0,90.38 309.5,90.73 310.0,91.13 310.5,91.56 311.0,92.02 311.5,92.49 312.0,92.97 312.5,93.43 313.0,93.88 313.5,94.30 314.0,94.71 314.5,95.15 315.0,95.60 315.5,96.05 316.0,96.48 316.5,96.88 317.0,97.24 317.5,97.55 318.0,97.79 318.5,97.96 319.0,98.11 319.5,98.25 320.0,98.38 320.5,98.49 321.0,98.59 321.5,98.68 322.0,98.74 322.5,98.78 323.0,98.81 323.5,98.83 324.0,98.84 324.5,98.86 325.0,98.87 325.5,98.88 326.0,98.89 326.5,98.90 327.0,98.90 327.5,98.87 328.0,98.72 328.5,98.48 329.0,98.20 329.5,97.93 330.0,97.70 330.5,97.53 331.0,97.38 331.5,97.24 332.0,97.12 332.5,96.99 333.0,96.86 333.5,96.71 334.0,96.54 334.5,96.34 335.0,96.10 335.5,95.77 336.0,95.33 336.5,94.78 337.0,94.14 337.5,93.42 338.0,92.65 338.5,91.84 339.0,91.01 339.5,90.17 340.0,89.33 340.5,88.43 341.0,87.44 341.5,86.38 342.0,85.27 342.5,84.05 343.0,82.74 343.5,81.40 344.0,80.10 344.5,78.85 345.0,77.56 345.5,76.25 346.0,75.00 346.5,73.87 347.0,72.94 347.5,72.24 348.0,71.60 348.5,70.98 349.0,70.40 349.5,69.89 350.0,69.46 350.5,69.14 351.0,68.95 351.5,68.90 352.0,69.04 352.5,69.34 353.0,69.78 353.5,70.33 354.0,70.95 354.5,71.63 355.0,72.32 355.5,73.00 356.0,73.77 356.5,74.72 357.0,75.79 357.5,76.93 358.0,78.11 358.5,79.26 359.0,80.35 359.5,81.31 360.0,82.10 360.5,82.81 361.0,83.53 361.5,84.24 362.0,84.92 362.5,85.56 363.0,86.12 363.5,86.58 364.0,86.93 364.5,87.14 365.0,87.20 365.5,87.05 366.0,86.72 366.5,86.24 367.0,85.65 367.5,84.97 368.0,84.25 368.5,83.50 369.0,82.78 369.5,82.10 370.0,81.50 370.5,81.01 371.0,80.50 371.5,79.97 372.0,79.43 372.5,78.90 373.0,78.38 373.5,77.90 374.0,77.48 374.5,77.12 375.0,76.84 375.5,76.66 376.0,76.60 376.5,76.69 377.0,76.94 377.5,77.31 378.0,77.79 378.5,78.34 379.0,78.93 379.5,79.53 380.0,80.12 380.5,80.79 381.0,81.58 381.5,82.45 382.0,83.37 382.5,84.28 383.0,85.18 383.5,86.00 384.0,86.79 384.5,87.59 385.0,88.39 385.5,89.17 386.0,89.92 386.5,90.64 387.0,91.30 387.5,91.89 388.0,92.44 388.5,93.01 389.0,93.58 389.5,94.15 390.0,94.69 390.5,95.21 391.0,95.69 391.5,96.11 392.0,96.46 392.5,96.74 393.0,96.92 393.5,97.00 394.0,97.00 394.5,96.98 395.0,96.96 395.5,96.93 396.0,96.89 396.5,96.84 397.0,96.79 397.5,96.74 398.0,96.68 398.5,96.62 399.0,96.57 399.5,96.51 400.0,96.45 400.5,96.37 401.0,96.28 401.5,96.18 402.0,96.09 402.5,95.99 403.0,95.91 403.5,95.85 404.0,95.81 404.5,95.80 405.0,95.81 405.5,95.84 406.0,95.88 406.5,95.93 407.0,95.97 407.5,96.02 408.0,96.06 408.5,96.09 409.0,96.10 409.5,96.04 410.0,95.81 410.5,95.44 411.0,94.94 411.5,94.34 412.0,93.66 412.5,92.93 413.0,92.17 413.5,91.40 414.0,90.65 414.5,89.79 415.0,88.78 415.5,87.66 416.0,86.46 416.5,85.22 417.0,83.95 417.5,82.71 418.0,81.52 418.5,80.41 419.0,79.39 419.5,78.35 420.0,77.30 420.5,76.29 421.0,75.34 421.5,74.48 422.0,73.76 422.5,73.18 423.0,72.63 423.5,72.09 424.0,71.60 424.5,71.18 425.0,70.85 425.5,70.65 426.0,70.60 426.5,70.74 427.0,71.05 427.5,71.51 428.0,72.09 428.5,72.76 429.0,73.50 429.5,74.27 430.0,75.05 430.5,75.90 431.0,77.00 431.5,78.28 432.0,79.69 432.5,81.16 433.0,82.62 433.5,84.03 434.0,85.31 434.5,86.43 435.0,87.51 435.5,88.56 436.0,89.59 436.5,90.59 437.0,91.55 437.5,92.45 438.0,93.29 438.5,94.07 439.0,94.77 439.5,95.43 440.0,96.11 440.5,96.78 441.0,97.39 441.5,97.91 442.0,98.29 442.5,98.48 443.0,98.50 443.5,98.49 444.0,98.48 444.5,98.45 445.0,98.43 445.5,98.40 446.0,98.36 446.5,98.33 447.0,98.28 447.5,98.24 448.0,98.20 448.5,98.14 449.0,98.06 449.5,97.95 450.0,97.83 450.5,97.69 451.0,97.55 451.5,97.40 452.0,97.26 452.5,97.12 453.0,96.99 453.5,96.88 454.0,96.80 454.5,96.73 455.0,96.70 455.5,96.72 456.0,96.81 456.5,96.97 457.0,97.19 457.5,97.45 458.0,97.74 458.5,98.04 459.0,98.35 459.5,98.64 460.0,98.90 460.5,99.16 461.0,99.45 461.5,99.75 462.0,100.06 462.5,100.38 463.0,100.69 463.5,101.00 464.0,101.28 464.5,101.54 465.0,101.77 465.5,101.96 466.0,102.10 466.5,102.22 467.0,102.33 467.5,102.43 468.0,102.53 468.5,102.62 469.0,102.71 469.5,102.78 470.0,102.85 470.5,102.91 471.0,102.95 471.5,102.98 472.0,103.00 472.5,103.01 473.0,103.02 473.5,103.03 474.0,103.03 474.5,103.04 475.0,103.04 475.5,103.05 476.0,103.05 476.5,103.05 477.0,103.06 477.5,103.06 478.0,103.07 478.5,103.07 479.0,103.08 479.5,103.08 480.0,103.09 480.5,103.11 481.0,103.13 481.5,103.18 482.0,103.23 482.5,103.30 483.0,103.38 483.5,103.46 484.0,103.54 484.5,103.62 485.0,103.69 485.5,103.76 486.0,103.82 486.5,103.86 487.0,103.89 487.5,103.90 488.0,103.89 488.5,103.85 489.0,103.79 489.5,103.71 490.0,103.61 490.5,103.50 491.0,103.39 491.5,103.26 492.0,103.13 492.5,103.00 493.0,102.87 493.5,102.75 494.0,102.64 494.5,102.54 495.0,102.44 495.5,102.34 496.0,102.24 496.5,102.13 497.0,102.02 497.5,101.91 498.0,101.81 498.5,101.71 499.0,101.63 499.5,101.57 500.0,101.52 500.5,101.50 501.0,101.51 501.5,101.57 502.0,101.68 502.5,101.83 503.0,102.01 503.5,102.21 504.0,102.41 504.5,102.62 505.0,102.82 505.5,103.00 506.0,103.15 506.5,103.27 507.0,103.34 507.5,103.42 508.0,103.49 508.5,103.56 509.0,103.63 509.5,103.69 510.0,103.75 510.5,103.79 511.0,103.83 511.5,103.87 512.0,103.89 512.5,103.90 513.0,103.90 513.5,103.90 514.0,103.90 514.5,103.90 515.0,103.90 515.5,103.90 516.0,103.90 516.5,103.90 517.0,103.90 517.5,103.90 518.0,103.90 518.5,103.90 519.0,103.90 519.5,103.90 520.0,103.89 520.5,103.89 521.0,103.88 521.5,103.86 522.0,103.85 522.5,103.83 523.0,103.81 523.5,103.80 524.0,103.78 524.5,103.76 525.0,103.75 525.5,103.73 526.0,103.72 526.5,103.71 527.0,103.70 527.5,103.70 528.0,103.71 528.5,103.73 529.0,103.76 529.5,103.80 530.0,103.86 530.5,103.92 531.0,103.99 531.5,104.06 532.0,104.13 532.5,104.20 533.0,104.27 533.5,104.33 534.0,104.39 534.5,104.43 535.0,104.47 535.5,104.49 536.0,104.50 536.5,104.49 537.0,104.47 537.5,104.44 538.0,104.39 538.5,104.34 539.0,104.28 539.5,104.21 540.0,104.14 540.5,104.06 541.0,103.99 541.5,103.91 542.0,103.84 542.5,103.77 543.0,103.71 543.5,103.65 544.0,103.58 544.5,103.51 545.0,103.43 545.5,103.35 546.0,103.28 546.5,103.21 547.0,103.14 547.5,103.09 548.0,103.04 548.5,103.01 549.0,103.00 549.5,103.01 550.0,103.03 550.5,103.07 551.0,103.12 551.5,103.18 552.0,103.25 552.5,103.33 553.0,103.41 553.5,103.49 554.0,103.58 554.5,103.66 555.0,103.74 555.5,103.81 556.0,103.87 556.5,103.92 557.0,103.97 557.5,104.03 558.0,104.08 558.5,104.14 559.0,104.20 559.5,104.25 560.0,104.30 560.5,104.35 561.0,104.39 561.5,104.43 562.0,104.46 562.5,104.48 563.0,104.49 563.5,104.50 564.0,104.50 564.5,104.48 565.0,104.47 565.5,104.44 566.0,104.42 566.5,104.39 567.0,104.36 567.5,104.33 568.0,104.29 568.5,104.27 569.0,104.24 569.5,104.22 570.0,104.21 570.5,104.20 571.0,104.21 571.5,104.28 572.0,104.40 572.5,104.55 573.0,104.72 573.5,104.91 574.0,105.08 574.5,105.25 575.0,105.38 575.5,105.47 576.0,105.50 576.5,105.50 577.0,105.49 577.5,105.49 578.0,105.48 578.5,105.46 579.0,105.45 579.5,105.43 580.0,105.41 580.5,105.39 581.0,105.37 581.5,105.34 582.0,105.31 582.5,105.29 583.0,105.26 583.5,105.23 584.0,105.20 584.5,105.17 585.0,105.14 585.5,105.11 586.0,105.07 586.5,105.02 587.0,104.97 587.5,104.90 588.0,104.83 588.5,104.75 589.0,104.67 589.5,104.58 590.0,104.49 590.5,104.41 591.0,104.32 591.5,104.24 592.0,104.17 592.5,104.10 593.0,104.04 593.5,103.98 594.0,103.94 594.5,103.92 595.0,103.90 595.5,103.90 596.0,103.91 596.5,103.93 597.0,103.96 597.5,103.99 598.0,104.03 598.5,104.08 599.0,104.13 599.5,104.18 600.0,104.24 600.5,104.29 601.0,104.35 601.5,104.41 602.0,104.47 602.5,104.52 603.0,104.59 603.5,104.67 604.0,104.76 604.5,104.86 605.0,104.96 605.5,105.07 606.0,105.18 606.5,105.30 607.0,105.41 607.5,105.52 608.0,105.63 608.5,105.73 609.0,105.82 609.5,105.90 610.0,105.97 610.5,106.03 611.0,106.07 611.5,106.09 612.0,106.10 612.5,106.10 613.0,106.10 613.5,106.10 614.0,106.10 614.5,106.10 615.0,106.10 615.5,106.10 616.0,106.10 616.5,106.10 617.0,106.10 617.5,106.10 618.0,106.10 618.5,106.10 619.0,106.10 619.5,106.10 620.0,106.10 620.5,106.10 621.0,106.10 621.5,106.10 622.0,106.09 622.5,106.06 623.0,106.01 623.5,105.96 624.0,105.90 624.5,105.82 625.0,105.72 625.5,105.58 626.0,105.43 626.5,105.26 627.0,105.08 627.5,104.89 628.0,104.69 628.5,104.50 629.0,104.30 629.5,104.07 630.0,103.82 630.5,103.56 631.0,103.29 631.5,103.02 632.0,102.75 632.5,102.48 633.0,102.23 633.5,102.00 634.0,101.78 634.5,101.55 635.0,101.32 635.5,101.10 636.0,100.89 636.5,100.69 637.0,100.51 637.5,100.34 638.0,100.20 638.5,100.07 639.0,99.93 639.5,99.80 640.0,99.68 640.5,99.57 641.0,99.49 641.5,99.43 642.0,99.40 642.5,99.41 643.0,99.45 643.5,99.51 644.0,99.59 644.5,99.69 645.0,99.81 645.5,99.93 646.0,100.06 646.5,100.20 647.0,100.33 647.5,100.46 648.0,100.58 648.5,100.70 649.0,100.84 649.5,101.00 650.0,101.17 650.5,101.33 651.0,101.49 651.5,101.62 652.0,101.72 652.5,101.78 653.0,101.80 653.5,101.79 654.0,101.77 654.5,101.74 655.0,101.71 655.5,101.67 656.0,101.62 656.5,101.57 657.0,101.51 657.5,101.45 658.0,101.40 658.5,101.34 659.0,101.29 659.5,101.23 660.0,101.16 660.5,101.07 661.0,100.99 661.5,100.89 662.0,100.80 662.5,100.71 663.0,100.62 663.5,100.54 664.0,100.46 664.5,100.40 665.0,100.35 665.5,100.31 666.0,100.30 666.5,100.31 667.0,100.34 667.5,100.39 668.0,100.47 668.5,100.55 669.0,100.65 669.5,100.75 670.0,100.86 670.5,100.98 671.0,101.08 671.5,101.19 672.0,101.28 672.5,101.37 673.0,101.46 673.5,101.55 674.0,101.63 674.5,101.72 675.0,101.81 675.5,101.91 676.0,102.00 676.5,102.09 677.0,102.18 677.5,102.27 678.0,102.37 678.5,102.46 678.7,102.50" stroke="#ff3030"/>
<path d="M0.0,100.30 0.5,100.11 1.0,99.94 1.5,99.80 2.0,99.68 2.5,99.59 3.0,99.51 3.5,99.46 4.0,99.42 4.5,99.40 5.0,99.40 5.5,99.44 6.0,99.51 6.5,99.61 7.0,99.74 7.5,99.89 8.0,100.05 8.5,100.22 9.0,100.39 9.5,100.57 10.0,100.76 10.5,101.02 11.0,101.33 11.5,101.68 12.0,102.05 12.5,102.43 13.0,102.79 13.5,103.13 14.0,103.43 14.5,103.66 15.0,103.83 15.5,103.90 16.0,103.90 16.5,103.89 17.0,103.89 17.5,103.88 18.0,103.86 18.5,103.85 19.0,103.83 19.5,103.81 20.0,103.78 20.5,103.76 21.0,103.73 21.5,103.71 22.0,103.66 22.5,103.59 23.0,103.48 23.5,103.36 24.0,103.22 24.5,103.07 25.0,102.93 25.5,102.79 26.0,102.68 26.5,102.58 27.0,102.52 27.5,102.50 28.0,102.51 28.5,102.55 29.0,102.61 29.5,102.69 30.0,102.79 30.5,102.90 31.0,103.02 31.5,103.15 32.0,103.29 32.5,103.43 33.0,103.56 33.5,103.70 34.0,103.86 34.5,104.06 35.0,104.30 35.5,104.56 36.0,104.83 36.5,105.10 37.0,105.36 37.5,105.60 38.0,105.80 38.5,105.96 39.0,106.06 39.5,106.10 40.0,106.09 40.5,106.06 41.0,106.00 41.5,105.94 42.0,105.85 42.5,105.76 43.0,105.66 43.5,105.55 44.0,105.44 44.5,105.32 45.0,105.21 45.5,105.10 46.0,104.97 46.5,104.81 47.0,104.62 47.5,104.43 48.0,104.23 48.5,104.05 49.0,103.90 49.5,103.78 50.0,103.71 50.5,103.70 51.0,103.70 51.5,103.70 52.0,103.70 52.5,103.70 53.0,103.70 53.5,103.70 54.0,103.70 54.5,103.70 55.0,103.70 55.5,103.71 56.0,103.75 56.5,103.81 57.0,103.90 57.5,104.00 58.0,104.13 58.5,104.27 59.0,104.41 59.5,104.57 60.0,104.74 60.5,104.90 61.0,105.07 61.5,105.27 62.0,105.56 62.5,105.89 63.0,106.19 63.5,106.41 64.0,106.50 64.5,106.50 65.0,106.49 65.5,106.49 66.0,106.48 66.5,106.47 67.0,106.45 67.5,106.44 68.0,106.42 68.5,106.40 69.0,106.37 69.5,106.35 70.0,106.32 70.5,106.30 71.0,106.27 71.5,106.24 72.0,106.21 72.5,106.17 73.0,106.14 73.5,106.11 74.0,106.07 74.5,106.02 75.0,105.97 75.5,105.90 76.0,105.83 76.5,105.75 77.0,105.66 77.5,105.56 78.0,105.46 78.5,105.36 79.0,105.25 79.5,105.13 80.0,105.01 80.5,104.89 81.0,104.76 81.5,104.63 82.0,104.50 82.5,104.36 83.0,104.21 83.5,104.05 84.0,103.88 84.5,103.70 85.0,103.51 85.5,103.30 86.0,103.08 86.5,102.85 87.0,102.61 87.5,102.36 88.0,102.10 88.5,101.82 89.0,101.50 89.5,101.16 90.0,100.79 90.5,100.40 91.0,99.99 91.5,99.56 92.0,99.11 92.5,98.65 93.0,98.18 93.5,97.69 94.0,97.20 94.5,96.64 95.0,96.00 95.5,95.32 96.0,94.61 96.5,93.90 97.0,93.21 97.5,92.58 98.0,92.01 98.5,91.55 99.0,91.19 99.5,90.83 100.0,90.48 100.5,90.16 101.0,89.87 101.5,89.63 102.0,89.44 102.5,89.33 103.0,89.30 103.5,89.37 104.0,89.52 104.5,89.73 105.0,90.00 105.5,90.31 106.0,90.65 106.5,90.99 107.0,91.33 107.5,91.69 108.0,92.11 108.5,92.58 109.0,93.10 109.5,93.63 110.0,94.18 110.5,94.73 111.0,95.25 111.5,95.74 112.0,96.19 112.5,96.61 113.0,97.04 113.5,97.46 114.0,97.87 114.5,98.27 115.0,98.64 115.5,98.99 116.0,99.31 116.5,99.60 117.0,99.85 117.5,100.11 118.0,100.37 118.5,100.62 119.0,100.86 119.5,101.07 120.0,101.24 120.5,101.38 121.0,101.47 121.5,101.50 122.0,101.50 122.5,101.49 123.0,101.48 123.5,101.46 124.0,101.44 124.5,101.42 125.0,101.39 125.5,101.36 126.0,101.32 126.5,101.28 127.0,101.19 127.5,101.06 128.0,100.90 128.5,100.69 129.0,100.41 129.5,100.06 130.0,99.65 130.5,99.20 131.0,98.70 131.5,98.17 132.0,97.62 132.5,97.05 133.0,96.46 133.5,95.77 134.0,95.00 134.5,94.14 135.0,93.23 135.5,92.29 136.0,91.33 136.5,90.38 137.0,89.45 137.5,88.57 138.0,87.71 138.5,86.82 139.0,85.90 139.5,84.99 140.0,84.09 140.5,83.22 141.0,82.41 141.5,81.67 142.0,81.03 142.5,80.50 143.0,80.00 143.5,79.50 144.0,79.02 144.5,78.58 145.0,78.20 145.5,77.90 146.0,77.69 146.5,77.60 147.0,77.64 147.5,77.77 148.0,78.00 148.5,78.29 149.0,78.63 149.5,79.00 150.0,79.39 150.5,79.78 151.0,80.15 151.5,80.59 152.0,81.09 152.5,81.63 153.0,82.20 153.5,82.78 154.0,83.35 154.5,83.89 155.0,84.38 155.5,84.80 156.0,85.20 156.5,85.62 157.0,86.03 157.5,86.43 158.0,86.78 158.5,87.07 159.0,87.28 159.5,87.39 160.0,87.37 160.5,87.17 161.0,86.82 161.5,86.37 162.0,85.83 162.5,85.24 163.0,84.63 163.5,84.04 164.0,83.49 164.5,82.93 165.0,82.32 165.5,81.67 166.0,81.00 166.5,80.32 167.0,79.65 167.5,79.00 168.0,78.38 168.5,77.81 169.0,77.29 169.5,76.79 170.0,76.29 170.5,75.81 171.0,75.35 171.5,74.91 172.0,74.49 172.5,74.09 173.0,73.73 173.5,73.40 174.0,73.12 174.5,72.89 175.0,72.69 175.5,72.49 176.0,72.27 176.5,72.00 177.0,71.68 177.5,71.23 178.0,70.61 178.5,69.84 179.0,68.96 179.5,68.00 180.0,66.89 180.5,65.56 181.0,64.06 181.5,62.41 182.0,60.64 182.5,58.79 183.0,56.90 183.5,54.99 184.0,53.11 184.5,51.26 185.0,49.36 185.5,47.39 186.0,45.36 186.5,43.32 187.0,41.26 187.5,39.21 188.0,37.20 188.5,35.14 189.0,33.06 189.5,31.02 190.0,29.08 190.5,27.28 191.0,25.37 191.5,23.36 192.0,21.35 192.5,19.42 193.0,17.68 193.5,16.22 194.0,15.13 194.5,14.51 195.0,14.42 195.5,14.63 196.0,15.04 196.5,15.64 197.0,16.39 197.5,17.29 198.0,18.29 198.5,19.38 199.0,20.53 199.5,21.73 200.0,22.93 200.5,24.13 201.0,25.29 201.5,26.40 202.0,27.42 202.5,28.34 203.0,29.12 203.5,29.75 204.0,30.21 204.5,30.46 205.0,30.48 205.5,30.22 206.0,29.71 206.5,28.96 207.0,27.99 207.5,26.84 208.0,25.52 208.5,24.06 209.0,22.48 209.5,20.81 210.0,19.06 210.5,17.27 211.0,15.45 211.5,13.63 212.0,11.84 212.5,10.09 213.0,8.42 213.5,6.84 214.0,5.38 214.5,4.06 215.0,2.91 215.5,1.94 216.0,1.19 216.5,0.68 217.0,0.42 217.5,0.45 218.0,0.72 218.5,1.23 219.0,1.94 219.5,2.83 220.0,3.89 220.5,5.09 221.0,6.41 221.5,7.83 222.0,9.32 222.5,10.87 223.0,12.45 223.5,14.05 224.0,15.63 224.5,17.18 225.0,18.67 225.5,20.09 226.0,21.41 226.5,22.61 227.0,23.67 227.5,24.56 228.0,25.27 228.5,25.78 229.0,26.05 229.5,26.09 230.0,25.98 230.5,25.76 231.0,25.45 231.5,25.06 232.0,24.62 232.5,24.13 233.0,23.61 233.5,23.09 234.0,22.57 234.5,22.08 235.0,21.62 235.5,21.22 236.0,20.90 236.5,20.66 237.0,20.52 237.5,20.53 238.0,20.80 238.5,21.34 239.0,22.12 239.5,23.11 240.0,24.28 240.5,25.59 241.0,27.02 241.5,28.52 242.0,30.07 242.5,31.64 243.0,33.19 243.5,34.72 244.0,36.48 244.5,38.48 245.0,40.68 245.5,43.06 246.0,45.56 246.5,48.16 247.0,50.80 247.5,53.45 248.0,56.07 248.5,58.62 249.0,61.06 249.5,63.35 250.0,65.45 250.5,67.32 251.0,68.97 251.5,70.55 252.0,72.05 252.5,73.47 253.0,74.79 253.5,75.98 254.0,77.04 254.5,77.95 255.0,78.83 255.5,79.66 256.0,80.44 256.5,81.12 257.0,81.70 257.5,82.15 258.0,82.45 258.5,82.68 259.0,82.90 259.5,83.10 260.0,83.27 260.5,83.41 261.0,83.51 261.5,83.58 262.0,83.60 262.5,83.56 263.0,83.45 263.5,83.27 264.0,83.03 264.5,82.73 265.0,82.38 265.5,81.97 266.0,81.53 266.5,81.04 267.0,80.52 267.5,79.97 268.0,79.40 268.5,78.63 269.0,77.54 269.5,76.24 270.0,74.80 270.5,73.32 271.0,71.90 271.5,70.51 272.0,69.07 272.5,67.58 273.0,66.06 273.5,64.49 274.0,62.90 274.5,61.25 275.0,59.55 275.5,57.80 276.0,56.03 276.5,54.26 277.0,52.50 277.5,50.66 278.0,48.69 278.5,46.72 279.0,44.87 279.5,43.26 280.0,42.00 280.5,40.96 281.0,39.94 281.5,38.96 282.0,38.07 282.5,37.30 283.0,36.68 283.5,36.24 284.0,36.02 284.5,36.04 285.0,36.25 285.5,36.64 286.0,37.17 286.5,37.81 287.0,38.54 287.5,39.34 288.0,40.17 288.5,41.07 289.0,42.30 289.5,43.78 290.0,45.42 290.5,47.14 291.0,48.85 291.5,50.50 292.0,52.27 292.5,54.11 293.0,55.95 293.5,57.71 294.0,59.32 294.5,60.76 295.0,62.19 295.5,63.52 296.0,64.60 296.5,65.31 297.0,65.87 297.5,66.37 298.0,66.81 298.5,67.16 299.0,67.39 299.5,67.50 300.0,67.46 300.5,67.33 301.0,67.12 301.5,66.85 302.0,66.53 302.5,66.19 303.0,65.85 303.5,65.52 304.0,65.23 304.5,65.00 305.0,64.80 305.5,64.59 306.0,64.38 306.5,64.18 307.0,64.00 307.5,63.83 308.0,63.69 308.5,63.58 309.0,63.50 309.5,63.45 310.0,63.41 310.5,63.38 311.0,63.36 311.5,63.34 312.0,63.32 312.5,63.31 313.0,63.28 313.5,63.25 314.0,63.22 314.5,63.17 315.0,63.10 315.5,62.82 316.0,62.22 316.5,61.41 317.0,60.52 317.5,59.65 318.0,58.67 318.5,57.56 319.0,56.35 319.5,55.04 320.0,53.65 320.5,52.09 321.0,50.40 321.5,48.61 322.0,46.76 322.5,44.88 323.0,43.00 323.5,41.01 324.0,38.86 324.5,36.63 325.0,34.46 325.5,32.44 326.0,30.68 326.5,29.26 327.0,27.87 327.5,26.50 328.0,25.22 328.5,24.09 329.0,23.20 329.5,22.61 330.0,22.40 330.5,22.57 331.0,23.04 331.5,23.77 332.0,24.73 332.5,25.86 333.0,27.14 333.5,28.52 334.0,29.95 334.5,31.40 335.0,33.11 335.5,35.25 336.0,37.70 336.5,40.31 337.0,42.95 337.5,45.50 338.0,48.10 338.5,50.80 339.0,53.52 339.5,56.17 340.0,58.69 340.5,61.08 341.0,63.39 341.5,65.65 342.0,67.90 342.5,70.16 343.0,72.50 343.5,74.87 344.0,77.16 344.5,79.27 345.0,81.11 345.5,82.83 346.0,84.44 346.5,85.90 347.0,87.16 347.5,88.19 348.0,89.11 348.5,89.96 349.0,90.74 349.5,91.45 350.0,92.10 350.5,92.69 351.0,93.22 351.5,93.69 352.0,94.13 352.5,94.54 353.0,94.93 353.5,95.29 354.0,95.63 354.5,95.94 355.0,96.23 355.5,96.49 356.0,96.73 356.5,96.94 357.0,97.13 357.5,97.29 358.0,97.43 358.5,97.57 359.0,97.71 359.5,97.85 360.0,98.00 360.5,98.18 361.0,98.39 361.5,98.61 362.0,98.85 362.5,99.07 363.0,99.28 363.5,99.46 364.0,99.59 364.5,99.68 365.0,99.70 365.5,99.66 366.0,99.59 366.5,99.47 367.0,99.32 367.5,99.14 368.0,98.94 368.5,98.73 369.0,98.50 369.5,98.27 370.0,98.04 370.5,97.81 371.0,97.54 371.5,97.24 372.0,96.91 372.5,96.55 373.0,96.17 373.5,95.78 374.0,95.39 374.5,95.00 375.0,94.61 375.5,94.24 376.0,93.90 376.5,93.57 377.0,93.27 377.5,92.97 378.0,92.69 378.5,92.40 379.0,92.13 379.5,91.85 380.0,91.57 380.5,91.29 381.0,91.00 381.5,90.70 382.0,90.39 382.5,90.07 383.0,89.74 383.5,89.39 384.0,89.00 384.5,88.57 385.0,88.11 385.5,87.62 386.0,87.11 386.5,86.56 387.0,85.98 387.5,85.37 388.0,84.72 388.5,84.03 389.0,83.30 389.5,82.46 390.0,81.53 390.5,80.52 391.0,79.46 391.5,78.37 392.0,77.27 392.5,76.18 393.0,75.10 393.5,73.99 394.0,72.85 394.5,71.69 395.0,70.50 395.5,69.27 396.0,68.00 396.5,66.60 397.0,65.02 397.5,63.29 398.0,61.43 398.5,59.49 399.0,57.49 399.5,55.48 400.0,53.48 400.5,51.52 401.0,49.65 401.5,47.89 402.0,46.27 402.5,44.84 403.0,43.62 403.5,42.64 404.0,41.95 404.5,41.56 405.0,41.52 405.5,41.74 406.0,42.17 406.5,42.82 407.0,43.66 407.5,44.68 408.0,45.85 408.5,47.16 409.0,48.60 409.5,50.15 410.0,51.79 410.5,53.51 411.0,55.29 411.5,57.11 412.0,58.95 412.5,60.81 413.0,62.66 413.5,64.48 414.0,66.27 414.5,68.00 415.0,69.87 415.5,71.94 416.0,74.03 416.5,75.96 417.0,77.87 417.5,79.75 418.0,81.50 418.5,83.06 419.0,84.37 419.5,85.63 420.0,86.83 420.5,87.94 421.0,88.94 421.5,89.79 422.0,90.48 422.5,90.99 423.0,91.41 423.5,91.80 424.0,92.15 424.5,92.46 425.0,92.74 425.5,93.01 426.0,93.25 426.5,93.48 427.0,93.71 427.5,93.93 428.0,94.16 428.5,94.39 429.0,94.63 429.5,94.86 430.0,95.09 430.5,95.31 431.0,95.53 431.5,95.74 432.0,95.94 432.5,96.13 433.0,96.30 433.5,96.47 434.0,96.62 434.5,96.75 435.0,96.89 435.5,97.03 436.0,97.17 436.5,97.30 437.0,97.43 437.5,97.55 438.0,97.65 438.5,97.74 439.0,97.81 439.5,97.87 440.0,97.90 440.5,97.90 441.0,97.90 441.5,97.90 442.0,97.90 442.5,97.90 443.0,97.90 443.5,97.90 444.0,97.90 444.5,97.79 445.0,97.55 445.5,97.20 446.0,96.78 446.5,96.31 447.0,95.83 447.5,95.34 448.0,94.90 448.5,94.46 449.0,93.99 449.5,93.48 450.0,92.96 450.5,92.44 451.0,91.91 451.5,91.40 452.0,90.91 452.5,90.45 453.0,90.04 453.5,89.65 454.0,89.27 454.5,88.91 455.0,88.57 455.5,88.23 456.0,87.90 456.5,87.57 457.0,87.24 457.5,86.90 458.0,86.56 458.5,86.22 459.0,85.86 459.5,85.51 460.0,85.19 460.5,84.86 461.0,84.53 461.5,84.19 462.0,83.82 462.5,83.43 463.0,82.99 463.5,82.50 464.0,81.94 464.5,81.28 465.0,80.53 465.5,79.70 466.0,78.80 466.5,77.83 467.0,76.82 467.5,75.72 468.0,74.42 468.5,72.97 469.0,71.45 469.5,69.94 470.0,68.52 470.5,67.22 471.0,65.87 471.5,64.46 472.0,63.01 472.5,61.53 473.0,60.03 473.5,58.53 474.0,57.05 474.5,55.59 475.0,54.18 475.5,52.82 476.0,51.54 476.5,50.34 477.0,49.24 477.5,48.27 478.0,47.42 478.5,46.71 479.0,46.17 479.5,45.80 480.0,45.62 480.5,45.64 481.0,45.89 481.5,46.33 482.0,46.97 482.5,47.77 483.0,48.73 483.5,49.82 484.0,51.03 484.5,52.33 485.0,53.72 485.5,55.18 486.0,56.67 486.5,58.20 487.0,59.74 487.5,61.28 488.0,62.79 488.5,64.25 489.0,65.66 489.5,67.00 490.0,68.25 490.5,69.54 491.0,70.89 491.5,72.20 492.0,73.38 492.5,74.38 493.0,75.31 493.5,76.19 494.0,77.02 494.5,77.78 495.0,78.45 495.5,79.03 496.0,79.48 496.5,79.90 497.0,80.31 497.5,80.69 498.0,81.05 498.5,81.38 499.0,81.65 499.5,81.87 500.0,82.02 500.5,82.09 501.0,82.10 501.5,82.07 502.0,82.02 502.5,81.95 503.0,81.86 503.5,81.75 504.0,81.63 504.5,81.50 505.0,81.35 505.5,81.20 506.0,81.00 506.5,80.70 507.0,80.33 507.5,79.88 508.0,79.37 508.5,78.80 509.0,78.18 509.5,77.52 510.0,76.83 510.5,76.09 511.0,75.11 511.5,73.97 512.0,72.80 512.5,71.64 513.0,70.42 513.5,69.12 514.0,67.71 514.5,66.13 515.0,64.41 515.5,62.58 516.0,60.66 516.5,58.69 517.0,56.70 517.5,54.71 518.0,52.77 518.5,50.89 519.0,49.11 519.5,47.43 520.0,45.66 520.5,43.79 521.0,41.85 521.5,39.90 522.0,37.96 522.5,36.10 523.0,34.34 523.5,32.74 524.0,31.33 524.5,30.15 525.0,29.26 525.5,28.70 526.0,28.50 526.5,28.64 527.0,29.05 527.5,29.70 528.0,30.57 528.5,31.64 529.0,32.88 529.5,34.29 530.0,35.82 530.5,37.47 531.0,39.21 531.5,41.02 532.0,42.87 532.5,44.74 533.0,46.61 533.5,48.48 534.0,50.68 534.5,53.29 535.0,56.16 535.5,59.16 536.0,62.15 536.5,64.99 537.0,67.54 537.5,69.81 538.0,72.00 538.5,74.07 539.0,75.96 539.5,77.60 540.0,79.05 540.5,80.41 541.0,81.67 541.5,82.84 542.0,83.93 542.5,84.92 543.0,85.83 543.5,86.66 544.0,87.45 544.5,88.19 545.0,88.88 545.5,89.51 546.0,90.09 546.5,90.61 547.0,91.07 547.5,91.50 548.0,91.90 548.5,92.27 549.0,92.61 549.5,92.95 550.0,93.26 550.5,93.57 551.0,93.87 551.5,94.17 552.0,94.47 552.5,94.77 553.0,95.09 553.5,95.41 554.0,95.72 554.5,96.04 555.0,96.36 555.5,96.67 556.0,96.97 556.5,97.28 557.0,97.57 557.5,97.86 558.0,98.14 558.5,98.41 559.0,98.67 559.5,98.91 560.0,99.15 560.5,99.37 561.0,99.60 561.5,99.82 562.0,100.04 562.5,100.25 563.0,100.45 563.5,100.65 564.0,100.84 564.5,101.03 565.0,101.20 565.5,101.36 566.0,101.51 566.5,101.65 567.0,101.78 567.5,101.89 568.0,102.00 568.5,102.11 569.0,102.22 569.5,102.32 570.0,102.41 570.5,102.50 571.0,102.59 571.5,102.67 572.0,102.74 572.5,102.81 573.0,102.87 573.5,102.93 574.0,102.98 574.5,103.02 575.0,103.05 575.5,103.08 576.0,103.10 576.5,103.12 577.0,103.14 577.5,103.16 578.0,103.18 578.5,103.20 579.0,103.23 579.5,103.26 580.0,103.30 580.5,103.37 581.0,103.48 581.5,103.61 582.0,103.73 582.5,103.84 583.0,103.89 583.5,103.90 584.0,103.90 584.5,103.89 585.0,103.89 585.5,103.88 586.0,103.87 586.5,103.86 587.0,103.85 587.5,103.84 588.0,103.82 588.5,103.81 589.0,103.79 589.5,103.77 590.0,103.76 590.5,103.74 591.0,103.72 591.5,103.70 592.0,103.68 592.5,103.65 593.0,103.62 593.5,103.57 594.0,103.53 594.5,103.48 595.0,103.44 595.5,103.40 596.0,103.36 596.5,103.33 597.0,103.31 597.5,103.30 598.0,103.31 598.5,103.32 599.0,103.36 599.5,103.40 600.0,103.46 600.5,103.52 601.0,103.59 601.5,103.66 602.0,103.73 602.5,103.81 603.0,103.88 603.5,103.95 604.0,104.02 604.5,104.08 605.0,104.13 605.5,104.17 606.0,104.21 606.5,104.23 607.0,104.26 607.5,104.28 608.0,104.31 608.5,104.34 609.0,104.36 609.5,104.38 610.0,104.40 610.5,104.42 611.0,104.44 611.5,104.46 612.0,104.47 612.5,104.48 613.0,104.49 613.5,104.50 614.0,104.50 614.5,104.50 615.0,104.49 615.5,104.48 616.0,104.47 616.5,104.44 617.0,104.41 617.5,104.38 618.0,104.34 618.5,104.30 619.0,104.26 619.5,104.20 620.0,104.15 620.5,104.09 621.0,104.03 621.5,103.97 622.0,103.90 622.5,103.81 623.0,103.69 623.5,103.54 624.0,103.35 624.5,103.14 625.0,102.91 625.5,102.66 626.0,102.39 626.5,102.10 627.0,101.81 627.5,101.51 628.0,101.20 628.5,100.86 629.0,100.48 629.5,100.05 630.0,99.59 630.5,99.10 631.0,98.58 631.5,98.04 632.0,97.49 632.5,96.94 633.0,96.38 633.5,95.83 634.0,95.30 634.5,94.77 635.0,94.22 635.5,93.67 636.0,93.11 636.5,92.54 637.0,91.97 637.5,91.39 638.0,90.81 638.5,90.23 639.0,89.65 639.5,89.07 640.0,88.50 640.5,87.93 641.0,87.36 641.5,86.79 642.0,86.22 642.5,85.65 643.0,85.07 643.5,84.49 644.0,83.90 644.5,83.30 645.0,82.70 645.5,82.11 646.0,81.51 646.5,80.91 647.0,80.28 647.5,79.63 648.0,78.94 648.5,78.23 649.0,77.51 649.5,76.78 650.0,76.00 650.5,75.16 651.0,74.25 651.5,73.24 652.0,72.08 652.5,70.67 653.0,69.06 653.5,67.30 654.0,65.45 654.5,63.58 655.0,61.74 655.5,60.00 656.0,58.35 656.5,56.74 657.0,55.14 657.5,53.50 658.0,51.80 658.5,50.00 659.0,48.06 659.5,45.99 660.0,43.84 660.5,41.66 661.0,39.50 661.5,37.40 662.0,35.34 662.5,33.26 663.0,31.20 663.5,29.19 664.0,27.25 664.5,25.40 665.0,23.55 665.5,21.66 666.0,19.83 666.5,18.15 667.0,16.74 667.5,15.70 668.0,14.88 668.5,14.14 669.0,13.64 669.5,13.51 670.0,13.68 670.5,14.08 671.0,14.64 671.5,15.33 672.0,16.09 672.5,16.89 673.0,17.71 673.5,18.76 674.0,19.98 674.5,21.33 675.0,22.74 675.5,24.15 676.0,25.53 676.5,26.94 677.0,28.39 677.5,29.88 678.0,31.41 678.5,32.98 679.0,34.59 679.4,35.90" stroke="#2a922a"/>
<path d="M0.0,103.90 0.5,103.85 1.0,103.82 1.5,103.78 2.0,103.76 2.5,103.74 3.0,103.72 3.5,103.71 4.0,103.71 4.5,103.70 5.0,103.70 5.5,103.70 6.0,103.70 6.5,103.71 7.0,103.74 7.5,103.80 8.0,103.86 8.5,103.94 9.0,104.02 9.5,104.11 10.0,104.20 10.5,104.29 11.0,104.37 11.5,104.44 12.0,104.50 12.5,104.55 13.0,104.61 13.5,104.66 14.0,104.72 14.5,104.78 15.0,104.83 15.5,104.88 16.0,104.93 16.5,104.98 17.0,105.01 17.5,105.05 18.0,105.07 18.5,105.09 19.0,105.10 19.5,105.10 20.0,105.07 20.5,105.02 21.0,104.96 21.5,104.87 22.0,104.78 22.5,104.68 23.0,104.58 23.5,104.47 24.0,104.36 24.5,104.26 25.0,104.16 25.5,104.08 26.0,104.00 26.5,103.95 27.0,103.91 27.5,103.90 28.0,103.92 28.5,103.98 29.0,104.08 29.5,104.20 30.0,104.34 30.5,104.50 31.0,104.66 31.5,104.83 32.0,105.00 32.5,105.15 33.0,105.29 33.5,105.40 34.0,105.50 34.5,105.61 35.0,105.72 35.5,105.84 36.0,105.95 36.5,106.06 37.0,106.16 37.5,106.26 38.0,106.35 38.5,106.43 39.0,106.49 39.5,106.54 40.0,106.58 40.5,106.60 41.0,106.60 41.5,106.58 42.0,106.56 42.5,106.52 43.0,106.47 43.5,106.41 44.0,106.35 44.5,106.27 45.0,106.20 45.5,106.12 46.0,106.03 46.5,105.94 47.0,105.86 47.5,105.77 48.0,105.68 48.5,105.57 49.0,105.43 49.5,105.27 50.0,105.10 50.5,104.93 51.0,104.78 51.5,104.65 52.0,104.55 52.5,104.50 53.0,104.50 53.5,104.53 54.0,104.57 54.5,104.64 55.0,104.71 55.5,104.80 56.0,104.90 56.5,105.00 57.0,105.11 57.5,105.22 58.0,105.33 58.5,105.44 59.0,105.54 59.5,105.63 60.0,105.72 60.5,105.80 61.0,105.90 61.5,105.99 62.0,106.09 62.5,106.17 63.0,106.24 63.5,106.28 64.0,106.30 64.5,106.30 65.0,106.28 65.5,106.26 66.0,106.23 66.5,106.20 67.0,106.16 67.5,106.11 68.0,106.06 68.5,106.01 69.0,105.95 69.5,105.89 70.0,105.84 70.5,105.78 71.0,105.72 71.5,105.67 72.0,105.61 72.5,105.54 73.0,105.47 73.5,105.40 74.0,105.32 74.5,105.24 75.0,105.16 75.5,105.07 76.0,104.98 76.5,104.89 77.0,104.79 77.5,104.69 78.0,104.59 78.5,104.48 79.0,104.37 79.5,104.25 80.0,104.14 80.5,104.01 81.0,103.88 81.5,103.74 82.0,103.59 82.5,103.43 83.0,103.26 83.5,103.07 84.0,102.87 84.5,102.66 85.0,102.40 85.5,102.10 86.0,101.75 86.5,101.37 87.0,100.96 87.5,100.53 88.0,100.07 88.5,99.61 89.0,99.13 89.5,98.65 90.0,98.18 90.5,97.71 91.0,97.22 91.5,96.70 92.0,96.16 92.5,95.60 93.0,95.03 93.5,94.46 94.0,93.89 94.5,93.32 95.0,92.76 95.5,92.22 96.0,91.70 96.5,91.21 97.0,90.74 97.5,90.29 98.0,89.86 98.5,89.44 99.0,89.03 99.5,88.62 100.0,88.19 100.5,87.76 101.0,87.31 101.5,86.83 102.0,86.32 102.5,85.78 103.0,85.23 103.5,84.66 104.0,84.06 104.5,83.41 105.0,82.69 105.5,81.90 106.0,81.01 106.5,79.90 107.0,78.57 107.5,77.09 108.0,75.55 108.5,74.00 109.0,72.49 109.5,70.93 110.0,69.19 110.5,67.09 111.0,64.30 111.5,61.22 112.0,58.39 112.5,56.06 113.0,53.90 113.5,51.86 114.0,49.94 114.5,48.10 115.0,46.34 115.5,44.60 116.0,42.82 116.5,41.05 117.0,39.37 117.5,37.84 118.0,36.54 118.5,35.51 119.0,34.77 119.5,34.09 120.0,33.47 120.5,32.99 121.0,32.68 121.5,32.61 122.0,32.78 122.5,33.17 123.0,33.73 123.5,34.43 124.0,35.22 124.5,36.06 125.0,36.98 125.5,38.20 126.0,39.71 126.5,41.42 127.0,43.28 127.5,45.22 128.0,47.23 128.5,49.51 129.0,52.01 129.5,54.65 130.0,57.36 130.5,60.27 131.0,63.48 131.5,66.50 132.0,68.88 132.5,70.96 133.0,72.88 133.5,74.60 134.0,76.10 134.5,77.38 135.0,78.47 135.5,79.52 136.0,80.49 136.5,81.31 137.0,81.95 137.5,82.35 138.0,82.56 138.5,82.74 139.0,82.88 139.5,82.97 140.0,83.00 140.5,82.96 141.0,82.87 141.5,82.72 142.0,82.53 142.5,82.32 143.0,82.10 143.5,81.88 144.0,81.67 144.5,81.48 145.0,81.33 145.5,81.24 146.0,81.20 146.5,81.24 147.0,81.34 147.5,81.50 148.0,81.71 148.5,81.96 149.0,82.25 149.5,82.55 150.0,82.87 150.5,83.23 151.0,83.74 151.5,84.38 152.0,85.11 152.5,85.88 153.0,86.66 153.5,87.40 154.0,88.06 154.5,88.61 155.0,89.13 155.5,89.63 156.0,90.12 156.5,90.59 157.0,91.04 157.5,91.46 158.0,91.85 158.5,92.21 159.0,92.54 159.5,92.85 160.0,93.17 160.5,93.49 161.0,93.78 161.5,94.02 162.0,94.20 162.5,94.29 163.0,94.29 163.5,94.21 164.0,94.08 164.5,93.91 165.0,93.70 165.5,93.47 166.0,93.24 166.5,93.01 167.0,92.79 167.5,92.60 168.0,92.41 168.5,92.21 169.0,91.99 169.5,91.76 170.0,91.55 170.5,91.36 171.0,91.20 171.5,91.08 172.0,91.01 172.5,91.00 173.0,91.06 173.5,91.16 174.0,91.31 174.5,91.49 175.0,91.69 175.5,91.91 176.0,92.13 176.5,92.35 177.0,92.56 177.5,92.78 178.0,93.05 178.5,93.35 179.0,93.67 179.5,93.99 180.0,94.28 180.5,94.54 181.0,94.74 181.5,94.87 182.0,94.90 182.5,94.87 183.0,94.81 183.5,94.72 184.0,94.60 184.5,94.46 185.0,94.30 185.5,94.14 186.0,93.96 186.5,93.77 187.0,93.57 187.5,93.29 188.0,92.95 188.5,92.56 189.0,92.14 189.5,91.72 190.0,91.32 190.5,90.95 191.0,90.64 191.5,90.40 192.0,90.21 192.5,90.02 193.0,89.83 193.5,89.65 194.0,89.49 194.5,89.34 195.0,89.22 195.5,89.12 196.0,89.05 196.5,89.01 197.0,89.01 197.5,89.08 198.0,89.22 198.5,89.41 199.0,89.64 199.5,89.90 200.0,90.18 200.5,90.45 201.0,90.72 201.5,90.96 202.0,91.18 202.5,91.45 203.0,91.73 203.5,92.02 204.0,92.31 204.5,92.57 205.0,92.79 205.5,92.96 206.0,93.07 206.5,93.10 207.0,93.06 207.5,92.97 208.0,92.84 208.5,92.67 209.0,92.47 209.5,92.25 210.0,92.01 210.5,91.76 211.0,91.50 211.5,91.23 212.0,90.87 212.5,90.44 213.0,89.96 213.5,89.45 214.0,88.93 214.5,88.42 215.0,87.95 215.5,87.54 216.0,87.20 216.5,86.90 217.0,86.60 217.5,86.30 218.0,86.03 218.5,85.79 219.0,85.59 219.5,85.46 220.0,85.40 220.5,85.43 221.0,85.57 221.5,85.78 222.0,86.06 222.5,86.40 223.0,86.77 223.5,87.17 224.0,87.56 224.5,87.96 225.0,88.44 225.5,88.98 226.0,89.59 226.5,90.22 227.0,90.87 227.5,91.51 228.0,92.12 228.5,92.74 229.0,93.39 229.5,94.05 230.0,94.71 230.5,95.37 231.0,96.01 231.5,96.62 232.0,97.19 232.5,97.71 233.0,98.18 233.5,98.64 234.0,99.09 234.5,99.53 235.0,99.95 235.5,100.33 236.0,100.69 236.5,101.01 237.0,101.28 237.5,101.50 238.0,101.69 238.5,101.87 239.0,102.04 239.5,102.21 240.0,102.36 240.5,102.51 241.0,102.64 241.5,102.77 242.0,102.88 242.5,102.98 243.0,103.08 243.5,103.16 244.0,103.22 244.5,103.28 245.0,103.33 245.5,103.37 246.0,103.41 246.5,103.45 247.0,103.49 247.5,103.53 248.0,103.56 248.5,103.59 249.0,103.62 249.5,103.64 250.0,103.66 250.5,103.68 251.0,103.69 251.5,103.70 252.0,103.70 252.5,103.67 253.0,103.61 253.5,103.52 254.0,103.40 254.5,103.27 255.0,103.13 255.5,102.98 256.0,102.84 256.5,102.70 257.0,102.56 257.5,102.42 258.0,102.26 258.5,102.10 259.0,101.93 259.5,101.75 260.0,101.57 260.5,101.38 261.0,101.19 261.5,100.99 262.0,100.79 262.5,100.59 263.0,100.38 263.5,100.17 264.0,99.95 264.5,99.71 265.0,99.47 265.5,99.22 266.0,98.96 266.5,98.69 267.0,98.43 267.5,98.16 268.0,97.90 268.5,97.63 269.0,97.38 269.5,97.13 270.0,96.89 270.5,96.65 271.0,96.43 271.5,96.20 272.0,95.98 272.5,95.76 273.0,95.55 273.5,95.33 274.0,95.12 274.5,94.91 275.0,94.71 275.5,94.50 276.0,94.31 276.5,94.11 277.0,93.92 277.5,93.74 278.0,93.56 278.5,93.39 279.0,93.23 279.5,93.07 280.0,92.92 280.5,92.77 281.0,92.63 281.5,92.48 282.0,92.33 282.5,92.18 283.0,92.02 283.5,91.85 284.0,91.67 284.5,91.48 285.0,91.28 285.5,91.08 286.0,90.88 286.5,90.67 287.0,90.42 287.5,90.14 288.0,89.82 288.5,89.43 289.0,88.91 289.5,88.25 290.0,87.47 290.5,86.57 291.0,85.58 291.5,84.51 292.0,83.36 292.5,82.01 293.0,80.40 293.5,78.56 294.0,76.52 294.5,74.21 295.0,71.22 295.5,68.15 296.0,65.47 296.5,62.83 297.0,60.24 297.5,57.75 298.0,55.37 298.5,53.15 299.0,51.12 299.5,49.28 300.0,47.43 300.5,45.55 301.0,43.66 301.5,41.79 302.0,39.96 302.5,38.20 303.0,36.53 303.5,34.99 304.0,33.59 304.5,32.37 305.0,31.34 305.5,30.54 306.0,30.00 306.5,29.72 307.0,29.77 307.5,30.16 308.0,30.87 308.5,31.87 309.0,33.12 309.5,34.59 310.0,36.24 310.5,38.04 311.0,39.95 311.5,41.94 312.0,43.98 312.5,46.02 313.0,48.04 313.5,50.00 314.0,52.11 314.5,54.52 315.0,57.13 315.5,59.84 316.0,62.56 316.5,65.16 317.0,67.56 317.5,69.69 318.0,71.67 318.5,73.58 319.0,75.50 319.5,77.50 320.0,79.70 320.5,81.97 321.0,84.00 321.5,85.75 322.0,87.31 322.5,88.65 323.0,89.87 323.5,91.04 324.0,92.14 324.5,93.15 325.0,94.06 325.5,94.85 326.0,95.50 326.5,96.04 327.0,96.51 327.5,96.92 328.0,97.30 328.5,97.65 329.0,98.00 329.5,98.37 330.0,98.76 330.5,99.19 331.0,99.61 331.5,100.00 332.0,100.30 332.5,100.54 333.0,100.77 333.5,100.98 334.0,101.19 334.5,101.37 335.0,101.55 335.5,101.72 336.0,101.87 336.5,102.02 337.0,102.16 337.5,102.29 338.0,102.42 338.5,102.54 339.0,102.65 339.5,102.77 340.0,102.87 340.5,102.98 341.0,103.08 341.5,103.18 342.0,103.27 342.5,103.36 343.0,103.44 343.5,103.52 344.0,103.60 344.5,103.67 345.0,103.74 345.5,103.81 346.0,103.87 346.5,103.92 347.0,103.98 347.5,104.04 348.0,104.10 348.5,104.15 349.0,104.21 349.5,104.26 350.0,104.31 350.5,104.36 351.0,104.40 351.5,104.43 352.0,104.46 352.5,104.48 353.0,104.50 353.5,104.50 354.0,104.50 354.5,104.50 355.0,104.50 355.5,104.50 356.0,104.50 356.5,104.50 357.0,104.50 357.5,104.50 358.0,104.50 358.5,104.50 359.0,104.50 359.5,104.50 360.0,104.50 360.5,104.50 361.0,104.50 361.5,104.52 362.0,104.55 362.5,104.59 363.0,104.64 363.5,104.70 364.0,104.76 364.5,104.82 365.0,104.89 365.5,104.94 366.0,105.00 366.5,105.04 367.0,105.07 367.5,105.09 368.0,105.10 368.5,105.07 369.0,105.00 369.5,104.91 370.0,104.79 370.5,104.66 371.0,104.51 371.5,104.37 372.0,104.24 372.5,104.11 373.0,104.01 373.5,103.94 374.0,103.89 374.5,103.87 375.0,103.85 375.5,103.83 376.0,103.82 376.5,103.81 377.0,103.80 377.5,103.79 378.0,103.78 378.5,103.76 379.0,103.74 379.5,103.72 380.0,103.69 380.5,103.63 381.0,103.54 381.5,103.43 382.0,103.31 382.5,103.19 383.0,103.09 383.5,103.03 384.0,103.00 384.5,103.01 385.0,103.05 385.5,103.11 386.0,103.18 386.5,103.27 387.0,103.36 387.5,103.46 388.0,103.56 388.5,103.66 389.0,103.75 389.5,103.83 390.0,103.90 390.5,103.96 391.0,104.03 391.5,104.09 392.0,104.16 392.5,104.23 393.0,104.29 393.5,104.35 394.0,104.40 394.5,104.44 395.0,104.47 395.5,104.49 396.0,104.50 396.5,104.48 397.0,104.43 397.5,104.34 398.0,104.24 398.5,104.11 399.0,103.98 399.5,103.85 400.0,103.71 400.5,103.59 401.0,103.48 401.5,103.39 402.0,103.33 402.5,103.30 403.0,103.30 403.5,103.32 404.0,103.34 404.5,103.38 405.0,103.42 405.5,103.47 406.0,103.52 406.5,103.58 407.0,103.64 407.5,103.70 408.0,103.76 408.5,103.83 409.0,103.89 409.5,103.95 410.0,104.03 410.5,104.13 411.0,104.23 411.5,104.34 412.0,104.45 412.5,104.56 413.0,104.67 413.5,104.78 414.0,104.87 414.5,104.95 415.0,105.02 415.5,105.07 416.0,105.10 416.5,105.10 417.0,105.08 417.5,105.04 418.0,104.98 418.5,104.90 419.0,104.82 419.5,104.72 420.0,104.62 420.5,104.51 421.0,104.40 421.5,104.29 422.0,104.18 422.5,104.08 423.0,103.98 423.5,103.90 424.0,103.82 424.5,103.73 425.0,103.64 425.5,103.55 426.0,103.45 426.5,103.36 427.0,103.27 427.5,103.17 428.0,103.09 428.5,103.00 429.0,102.93 429.5,102.86 430.0,102.81 430.5,102.76 431.0,102.73 431.5,102.71 432.0,102.70 432.5,102.72 433.0,102.76 433.5,102.81 434.0,102.89 434.5,102.97 435.0,103.07 435.5,103.17 436.0,103.28 436.5,103.39 437.0,103.50 437.5,103.61 438.0,103.71 438.5,103.81 439.0,103.89 439.5,103.96 440.0,104.04 440.5,104.12 441.0,104.21 441.5,104.28 442.0,104.36 442.5,104.42 443.0,104.46 443.5,104.49 444.0,104.50 444.5,104.48 445.0,104.44 445.5,104.37 446.0,104.29 446.5,104.20 447.0,104.10 447.5,104.00 448.0,103.90 448.5,103.80 449.0,103.67 449.5,103.54 450.0,103.40 450.5,103.24 451.0,103.08 451.5,102.92 452.0,102.75 452.5,102.58 453.0,102.41 453.5,102.25 454.0,102.10 454.5,101.95 455.0,101.79 455.5,101.64 456.0,101.48 456.5,101.33 457.0,101.17 457.5,101.02 458.0,100.87 458.5,100.72 459.0,100.57 459.5,100.43 460.0,100.30 460.5,100.17 461.0,100.05 461.5,99.94 462.0,99.83 462.5,99.72 463.0,99.62 463.5,99.51 464.0,99.40 464.5,99.29 465.0,99.17 465.5,99.04 466.0,98.90 466.5,98.75 467.0,98.60 467.5,98.44 468.0,98.27 468.5,98.09 469.0,97.91 469.5,97.72 470.0,97.52 470.5,97.32 471.0,97.12 471.5,96.91 472.0,96.70 472.5,96.48 473.0,96.25 473.5,96.02 474.0,95.77 474.5,95.52 475.0,95.26 475.5,95.00 476.0,94.73 476.5,94.46 477.0,94.19 477.5,93.92 478.0,93.65 478.5,93.39 479.0,93.14 479.5,92.89 480.0,92.65 480.5,92.40 481.0,92.14 481.5,91.87 482.0,91.58 482.5,91.26 483.0,90.92 483.5,90.53 484.0,90.11 484.5,89.61 485.0,89.01 485.5,88.33 486.0,87.56 486.5,86.71 487.0,85.79 487.5,84.80 488.0,83.63 488.5,82.23 489.0,80.65 489.5,78.97 490.0,77.25 490.5,75.32 491.0,73.20 491.5,71.06 492.0,69.06 492.5,67.33 493.0,65.63 493.5,63.89 494.0,62.12 494.5,60.33 495.0,58.54 495.5,56.76 496.0,54.99 496.5,53.26 497.0,51.56 497.5,49.91 498.0,48.32 498.5,46.81 499.0,45.38 499.5,44.04 500.0,42.81 500.5,41.70 501.0,40.72 501.5,39.87 502.0,39.18 502.5,38.65 503.0,38.29 503.5,38.12 504.0,38.17 504.5,38.58 505.0,39.33 505.5,40.38 506.0,41.70 506.5,43.24 507.0,44.98 507.5,46.88 508.0,48.91 508.5,51.01 509.0,53.17 509.5,55.35 510.0,57.51 510.5,59.60 511.0,61.61 511.5,63.49 512.0,65.20 512.5,66.72 513.0,68.00 513.5,69.12 514.0,70.19 514.5,71.20 515.0,72.16 515.5,73.07 516.0,73.93 516.5,74.74 517.0,75.51 517.5,76.28 518.0,77.05 518.5,77.80 519.0,78.52 519.5,79.20 520.0,79.81 520.5,80.35 521.0,80.80 521.5,81.15 522.0,81.41 522.5,81.65 523.0,81.89 523.5,82.10 524.0,82.28 524.5,82.43 525.0,82.53 525.5,82.59 526.0,82.59 526.5,82.50 527.0,82.32 527.5,82.07 528.0,81.74 528.5,81.36 529.0,80.94 529.5,80.48 530.0,80.00 530.5,79.39 531.0,78.58 531.5,77.59 532.0,76.47 532.5,75.26 533.0,74.00 533.5,72.59 534.0,70.96 534.5,69.15 535.0,67.20 535.5,65.02 536.0,62.62 536.5,60.06 537.0,57.40 537.5,54.70 538.0,52.01 538.5,49.38 539.0,46.88 539.5,44.55 540.0,42.41 540.5,40.36 541.0,38.36 541.5,36.31 542.0,34.15 542.5,31.79 543.0,29.22 543.5,26.57 544.0,23.97 544.5,21.53 545.0,19.35 545.5,17.19 546.0,15.17 546.5,13.52 547.0,12.40 547.5,11.43 548.0,10.56 548.5,9.85 549.0,9.37 549.5,9.20 550.0,9.30 550.5,9.57 551.0,9.97 551.5,10.45 552.0,10.98 552.5,11.50 553.0,12.12 553.5,12.94 554.0,13.92 554.5,15.03 555.0,16.21 555.5,17.45 556.0,18.68 556.5,19.89 557.0,21.02 557.5,22.05 558.0,22.93 558.5,23.62 559.0,24.09 559.5,24.29 560.0,24.23 560.5,23.94 561.0,23.45 561.5,22.80 562.0,22.01 562.5,21.11 563.0,20.11 563.5,19.06 564.0,17.96 564.5,16.86 565.0,15.78 565.5,14.73 566.0,13.76 566.5,12.87 567.0,12.11 567.5,11.50 568.0,10.94 568.5,10.37 569.0,9.84 569.5,9.44 570.0,9.22 570.5,9.25 571.0,9.52 571.5,10.02 572.0,10.71 572.5,11.58 573.0,12.58 573.5,13.71 574.0,14.92 574.5,16.20 575.0,17.97 575.5,20.45 576.0,23.25 576.5,26.00 577.0,28.68 577.5,31.46 578.0,34.31 578.5,37.17 579.0,40.00 579.5,42.87 580.0,45.81 580.5,48.73 581.0,51.54 581.5,54.14 582.0,56.48 582.5,58.71 583.0,60.82 583.5,62.79 584.0,64.59 584.5,66.21 585.0,67.70 585.5,69.11 586.0,70.44 586.5,71.68 587.0,72.83 587.5,73.91 588.0,74.90 588.5,75.85 589.0,76.76 589.5,77.64 590.0,78.44 590.5,79.17 591.0,79.79 591.5,80.30 592.0,80.74 592.5,81.17 593.0,81.59 593.5,81.97 594.0,82.31 594.5,82.59 595.0,82.81 595.5,82.95 596.0,83.00 596.5,82.98 597.0,82.92 597.5,82.83 598.0,82.70 598.5,82.54 599.0,82.36 599.5,82.15 600.0,81.92 600.5,81.68 601.0,81.42 601.5,81.14 602.0,80.79 602.5,80.32 603.0,79.76 603.5,79.10 604.0,78.36 604.5,77.54 605.0,76.65 605.5,75.70 606.0,74.69 606.5,73.38 607.0,71.75 607.5,69.94 608.0,68.06 608.5,66.25 609.0,64.53 609.5,62.82 610.0,61.09 610.5,59.36 611.0,57.60 611.5,55.82 612.0,54.03 612.5,52.19 613.0,50.28 613.5,48.35 614.0,46.45 614.5,44.64 615.0,42.79 615.5,40.88 616.0,39.00 616.5,37.22 617.0,35.62 617.5,34.31 618.0,33.33 618.5,32.49 619.0,31.69 619.5,30.94 620.0,30.28 620.5,29.73 621.0,29.31 621.5,29.06 622.0,29.00 622.5,29.14 623.0,29.44 623.5,29.86 624.0,30.38 624.5,30.95 625.0,31.53 625.5,32.09 626.0,32.61 626.5,33.22 627.0,33.91 627.5,34.67 628.0,35.45 628.5,36.22 629.0,36.94 629.5,37.58 630.0,38.11 630.5,38.49 631.0,38.68 631.5,38.64 632.0,38.32 632.5,37.74 633.0,36.97 633.5,36.03 634.0,34.99 634.5,33.88 635.0,32.75 635.5,31.64 636.0,30.61 636.5,29.70 637.0,28.80 637.5,27.81 638.0,26.75 638.5,25.66 639.0,24.56 639.5,23.49 640.0,22.48 640.5,21.55 641.0,20.75 641.5,20.09 642.0,19.61 642.5,19.35 643.0,19.32 643.5,19.49 644.0,19.85 644.5,20.36 645.0,21.00 645.5,21.76 646.0,22.61 646.5,23.53 647.0,24.50 647.5,25.50 648.0,26.73 648.5,28.35 649.0,30.24 649.5,32.30 650.0,34.42 650.5,36.50 651.0,38.55 651.5,40.65 652.0,42.84 652.5,45.11 653.0,47.50 653.5,50.00 654.0,52.73 654.5,55.69 655.0,58.75 655.5,62.10 656.0,65.33 656.5,68.00 657.0,70.37 657.5,72.55 658.0,74.54 658.5,76.33 659.0,77.90 659.5,79.36 660.0,80.74 660.5,82.03 661.0,83.21 661.5,84.28 662.0,85.21 662.5,86.00 663.0,86.69 663.5,87.32 664.0,87.91 664.5,88.46 665.0,88.96 665.5,89.42 666.0,89.84 666.5,90.24 667.0,90.60 667.5,90.93 668.0,91.23 668.5,91.50 669.0,91.75 669.5,91.98 670.0,92.20 670.5,92.41 671.0,92.62 671.5,92.83 672.0,93.05 672.5,93.28 673.0,93.54 673.5,93.81 674.0,94.10 674.5,94.41 675.0,94.72 675.5,95.04 676.0,95.37 676.5,95.71 677.0,96.06 677.5,96.42 678.0,96.78 678.5,97.15 678.7,97.30" stroke="#3030ff"/>
<path d="M4.2,294.00 4.7,294.00 5.2,294.01 5.7,294.03 6.2,294.05 6.7,294.08 7.2,294.11 7.7,294.15 8.2,294.18 8.7,294.23 9.2,294.31 9.7,294.43 10.2,294.57 10.7,294.72 11.2,294.88 11.7,295.03 12.2,295.18 12.7,295.30 13.2,295.40 13.7,295.48 14.2,295.56 14.7,295.65 15.2,295.72 15.7,295.80 16.2,295.87 16.7,295.93 17.2,295.99 17.7,296.04 18.2,296.07 18.7,296.09 19.2,296.10 19.7,296.05 20.2,295.90 20.7,295.67 21.2,295.37 21.7,295.03 22.2,294.66 22.7,294.27 23.2,293.88 23.7,293.51 24.2,293.16 24.7,292.78 25.2,292.37 25.7,291.93 26.2,291.47 26.7,291.01 27.2,290.55 27.7,290.11 28.2,289.69 28.7,289.31 29.2,288.97 29.7,288.69 30.2,288.47 30.7,288.28 31.2,288.10 31.7,287.95 32.2,287.80 32.7,287.66 33.2,287.53 33.7,287.41 34.2,287.28 34.7,287.15 35.2,287.01 35.7,286.86 36.2,286.71 36.7,286.57 37.2,286.45 37.7,286.31 38.2,286.16 38.7,285.98 39.2,285.76 39.7,285.46 40.2,284.88 40.7,284.04 41.2,283.01 41.7,281.84 42.2,280.60 42.7,279.35 43.2,278.17 43.7,276.91 44.2,275.56 44.7,274.17 45.2,272.79 45.7,271.49 46.2,270.23 46.7,268.98 47.2,267.75 47.7,266.50 48.2,265.23 48.7,263.89 49.2,262.51 49.7,261.14 50.2,259.81 50.7,258.56 51.2,257.42 51.7,256.40 52.2,255.34 52.7,254.27 53.2,253.27 53.7,252.41 54.2,251.77 54.7,251.43 55.2,251.45 55.7,251.76 56.2,252.29 56.7,253.01 57.2,253.86 57.7,254.81 58.2,255.80 58.7,256.80 59.2,257.95 59.7,259.37 60.2,260.96 60.7,262.60 61.2,264.20 61.7,265.68 62.2,267.14 62.7,268.62 63.2,270.19 63.7,271.91 64.2,273.87 64.7,275.97 65.2,278.07 65.7,280.07 66.2,281.89 66.7,283.67 67.2,285.25 67.7,286.43 68.2,287.42 68.7,288.25 69.2,288.90 69.7,289.37 70.2,289.81 70.7,290.20 71.2,290.53 71.7,290.77 72.2,290.89 72.7,290.88 73.2,290.74 73.7,290.51 74.2,290.22 74.7,289.89 75.2,289.56 75.7,289.26 76.2,289.00 76.7,288.76 77.2,288.53 77.7,288.30 78.2,288.07 78.7,287.84 79.2,287.61 79.7,287.37 80.2,287.12 80.7,286.85 81.2,286.59 81.7,286.33 82.2,286.08 82.7,285.82 83.2,285.55 83.7,285.26 84.2,284.94 84.7,284.58 85.2,284.17 85.7,283.70 86.2,283.10 86.7,282.35 87.2,281.46 87.7,280.46 88.2,279.36 88.7,278.18 89.2,276.94 89.7,275.42 90.2,273.63 90.7,271.72 91.2,269.84 91.7,268.15 92.2,266.57 92.7,265.00 93.2,263.31 93.7,261.58 94.2,259.79 94.7,257.93 95.2,255.97 95.7,253.90 96.2,251.61 96.7,249.12 97.2,246.52 97.7,243.95 98.2,241.52 98.7,238.98 99.2,236.37 99.7,233.97 100.2,232.03 100.7,230.75 101.2,229.65 101.7,228.65 102.2,227.84 102.7,227.27 103.2,227.01 103.7,227.14 104.2,227.67 104.7,228.51 105.2,229.56 105.7,230.72 106.2,232.06 106.7,234.01 107.2,236.40 107.7,238.99 108.2,241.52 108.7,243.92 109.2,246.39 109.7,248.91 110.2,251.43 110.7,253.90 111.2,256.29 111.7,258.63 112.2,261.00 112.7,263.48 113.2,266.25 113.7,269.24 114.2,271.94 114.7,274.11 115.2,276.11 115.7,277.92 116.2,279.50 116.7,280.80 117.2,281.93 117.7,282.98 118.2,283.96 118.7,284.83 119.2,285.60 119.7,286.23 120.2,286.72 120.7,287.10 121.2,287.47 121.7,287.81 122.2,288.13 122.7,288.41 123.2,288.65 123.7,288.85 124.2,288.99 124.7,289.08 125.2,289.10 125.7,289.09 126.2,289.07 126.7,289.03 127.2,288.98 127.7,288.92 128.2,288.85 128.7,288.76 129.2,288.54 129.7,288.20 130.2,287.76 130.7,287.24 131.2,286.67 131.7,286.08 132.2,285.31 132.7,284.35 133.2,283.24 133.7,282.04 134.2,280.80 134.7,279.57 135.2,278.40 135.7,277.27 136.2,276.13 136.7,274.98 137.2,273.81 137.7,272.63 138.2,271.44 138.7,270.24 139.2,269.05 139.7,267.88 140.2,266.69 140.7,265.41 141.2,264.00 141.7,262.31 142.2,260.36 142.7,258.34 143.2,256.42 143.7,254.80 144.2,253.30 144.7,251.87 145.2,250.59 145.7,249.56 146.2,248.84 146.7,248.20 147.2,247.62 147.7,247.12 148.2,246.75 148.7,246.54 149.2,246.52 149.7,246.72 150.2,247.09 150.7,247.59 151.2,248.16 151.7,248.75 152.2,249.35 152.7,250.11 153.2,250.98 153.7,251.84 154.2,252.58 154.7,253.18 155.2,253.79 155.7,254.38 156.2,254.87 156.7,255.23 157.2,255.39 157.7,255.32 158.2,255.00 158.7,254.50 159.2,253.84 159.7,253.08 160.2,252.27 160.7,251.27 161.2,249.86 161.7,248.15 162.2,246.29 162.7,244.40 163.2,242.43 163.7,240.27 164.2,238.00 164.7,235.60 165.2,233.07 165.7,230.47 166.2,227.65 166.7,224.68 167.2,221.80 167.7,219.26 168.2,217.23 168.7,215.37 169.2,213.78 169.7,212.73 170.2,212.18 170.7,211.75 171.2,211.48 171.7,211.41 172.2,211.64 172.7,212.17 173.2,212.91 173.7,213.81 174.2,214.89 174.7,216.74 175.2,219.14 175.7,221.60 176.2,224.03 176.7,226.62 177.2,229.37 177.7,232.33 178.2,235.73 178.7,239.30 179.2,242.65 179.7,245.44 180.2,247.81 180.7,249.95 181.2,252.03 181.7,254.18 182.2,256.64 182.7,259.47 183.2,261.97 183.7,263.52 184.2,264.75 184.7,265.86 185.2,266.77 185.7,267.43 186.2,267.77 186.7,267.78 187.2,267.69 187.7,267.52 188.2,267.28 188.7,267.00 189.2,266.68 189.7,266.34 190.2,265.98 190.7,265.63 191.2,265.17 191.7,264.60 192.2,263.97 192.7,263.35 193.2,262.79 193.7,262.32 194.2,261.83 194.7,261.35 195.2,260.99 195.7,260.81 196.2,260.85 196.7,261.03 197.2,261.32 197.7,261.68 198.2,262.08 198.7,262.50 199.2,262.90 199.7,263.31 200.2,263.78 200.7,264.37 201.2,265.12 201.7,265.99 202.2,266.92 202.7,267.86 203.2,268.76 203.7,269.58 204.2,270.27 204.7,270.97 205.2,271.70 205.7,272.40 206.2,273.06 206.7,273.64 207.2,274.09 207.7,274.39 208.2,274.50 208.7,274.38 209.2,274.07 209.7,273.59 210.2,272.99 210.7,272.32 211.2,271.60 211.7,270.90 212.2,270.24 212.7,269.64 213.2,268.99 213.7,268.30 214.2,267.58 214.7,266.87 215.2,266.17 215.7,265.50 216.2,264.90 216.7,264.36 217.2,263.92 217.7,263.49 218.2,263.07 218.7,262.70 219.2,262.43 219.7,262.30 220.2,262.35 220.7,262.56 221.2,262.87 221.7,263.28 222.2,263.72 222.7,264.21 223.2,264.89 223.7,265.77 224.2,266.80 224.7,267.93 225.2,269.11 225.7,270.28 226.2,271.39 226.7,272.40 227.2,273.37 227.7,274.39 228.2,275.43 228.7,276.46 229.2,277.46 229.7,278.40 230.2,279.24 230.7,279.97 231.2,280.54 231.7,280.95 232.2,281.32 232.7,281.67 233.2,282.01 233.7,282.34 234.2,282.64 234.7,282.92 235.2,283.18 235.7,283.41 236.2,283.61 236.7,283.78 237.2,283.92 237.7,284.02 238.2,284.08 238.7,284.10 239.2,284.07 239.7,283.98 240.2,283.84 240.7,283.66 241.2,283.43 241.7,283.17 242.2,282.87 242.7,282.55 243.2,282.21 243.7,281.84 244.2,281.30 244.7,280.58 245.2,279.74 245.7,278.80 246.2,277.80 246.7,276.79 247.2,275.81 247.7,274.83 248.2,273.82 248.7,272.77 249.2,271.64 249.7,270.42 250.2,269.08 250.7,267.60 251.2,265.67 251.7,263.61 252.2,261.64 252.7,259.68 253.2,257.76 253.7,255.93 254.2,254.22 254.7,252.70 255.2,251.33 255.7,249.97 256.2,248.45 256.7,246.58 257.2,244.74 257.7,243.38 258.2,242.59 258.7,241.90 259.2,241.31 259.7,240.85 260.2,240.57 260.7,240.51 261.2,240.69 261.7,241.11 262.2,241.70 262.7,242.41 263.2,243.20 263.7,244.31 264.2,245.91 264.7,247.83 265.2,249.88 265.7,251.90 266.2,254.02 266.7,256.30 267.2,258.69 267.7,261.12 268.2,263.53 268.7,265.99 269.2,268.56 269.7,270.82 270.2,272.59 270.7,274.18 271.2,275.61 271.7,276.94 272.2,278.18 272.7,279.37 273.2,280.53 273.7,281.65 274.2,282.74 274.7,283.77 275.2,284.74 275.7,285.65 276.2,286.49 276.7,287.26 277.2,288.02 277.7,288.77 278.2,289.49 278.7,290.17 279.2,290.80 279.7,291.36 280.2,291.85 280.7,292.25 281.2,292.55 281.7,292.81 282.2,293.04 282.7,293.26 283.2,293.45 283.7,293.63 284.2,293.80 284.7,293.95 285.2,294.09 285.7,294.21 286.2,294.32 286.7,294.43 287.2,294.52 287.7,294.61 288.2,294.70 288.7,294.78 289.2,294.86 289.7,294.94 290.2,295.00 290.7,295.05 291.2,295.08 291.7,295.10 292.2,295.09 292.7,295.03 293.2,294.93 293.7,294.79 294.2,294.61 294.7,294.40 295.2,294.17 295.7,293.92 296.2,293.65 296.7,293.37 297.2,293.09 297.7,292.81 298.2,292.52 298.7,292.15 299.2,291.72 299.7,291.25 300.2,290.76 300.7,290.26 301.2,289.77 301.7,289.32 302.2,288.93 302.7,288.60 303.2,288.31 303.7,288.01 304.2,287.72 304.7,287.45 305.2,287.21 305.7,287.02 306.2,286.88 306.7,286.81 307.2,286.82 307.7,286.93 308.2,287.13 308.7,287.41 309.2,287.74 309.7,288.13 310.2,288.54 310.7,288.97 311.2,289.40 311.7,289.83 312.2,290.22 312.7,290.61 313.2,291.01 313.7,291.43 314.2,291.87 314.7,292.32 315.2,292.78 315.7,293.24 316.2,293.69 316.7,294.14 317.2,294.59 317.7,295.05 318.2,295.54 318.7,296.02 319.2,296.49 319.7,296.93 320.2,297.31 320.7,297.62 321.2,297.91 321.7,298.18 322.2,298.43 322.7,298.67 323.2,298.90 323.7,299.11 324.2,299.31 324.7,299.49 325.2,299.66 325.7,299.81 326.2,299.95 326.7,300.08 327.2,300.20 327.7,300.32 328.2,300.42 328.7,300.53 329.2,300.62 329.7,300.71 330.2,300.80 330.7,300.88 331.2,300.97 331.7,301.05 332.2,301.13 332.7,301.21 333.2,301.29 333.7,301.37 334.2,301.44 334.7,301.51 335.2,301.58 335.7,301.65 336.2,301.72 336.7,301.78 337.2,301.85 337.7,301.91 338.2,301.97 338.7,302.04 339.2,302.10 339.7,302.17 340.2,302.23 340.7,302.31 341.2,302.38 341.7,302.46 342.2,302.53 342.7,302.60 343.2,302.67 343.7,302.73 344.2,302.79 344.7,302.83 345.2,302.87 345.7,302.89 346.2,302.90 346.7,302.90 347.2,302.88 347.7,302.86 348.2,302.83 348.7,302.79 349.2,302.74 349.7,302.70 350.2,302.64 350.7,302.59 351.2,302.53 351.7,302.48 352.2,302.42 352.7,302.37 353.2,302.33 353.7,302.28 354.2,302.24 354.7,302.21 355.2,302.17 355.7,302.14 356.2,302.10 356.7,302.07 357.2,302.03 357.7,302.00 358.2,301.96 358.7,301.91 359.2,301.87 359.7,301.82 360.2,301.76 360.7,301.70 361.2,301.63 361.7,301.54 362.2,301.43 362.7,301.32 363.2,301.19 363.7,301.05 364.2,300.90 364.7,300.75 365.2,300.59 365.7,300.42 366.2,300.26 366.7,300.09 367.2,299.93 367.7,299.76 368.2,299.60 368.7,299.43 369.2,299.25 369.7,299.06 370.2,298.86 370.7,298.66 371.2,298.46 371.7,298.27 372.2,298.08 372.7,297.89 373.2,297.72 373.7,297.56 374.2,297.41 374.7,297.25 375.2,297.08 375.7,296.91 376.2,296.75 376.7,296.61 377.2,296.48 377.7,296.39 378.2,296.32 378.7,296.30 379.2,296.32 379.7,296.38 380.2,296.48 380.7,296.60 381.2,296.74 381.7,296.90 382.2,297.07 382.7,297.24 383.2,297.40 383.7,297.57 384.2,297.79 384.7,298.04 385.2,298.28 385.7,298.45 386.2,298.52 386.7,298.56 387.2,298.60 387.7,298.63 388.2,298.66 388.7,298.68 389.2,298.69 389.7,298.70 390.2,298.69 390.7,298.64 391.2,298.53 391.7,298.38 392.2,298.19 392.7,297.98 393.2,297.75 393.7,297.51 394.2,297.28 394.7,297.06 395.2,296.85 395.7,296.68 396.2,296.55 396.7,296.42 397.2,296.28 397.7,296.14 398.2,296.01 398.7,295.88 399.2,295.76 399.7,295.66 400.2,295.56 400.7,295.49 401.2,295.43 401.7,295.41 402.2,295.40 402.7,295.46 403.2,295.56 403.7,295.69 404.2,295.86 404.7,296.04 405.2,296.22 405.7,296.41 406.2,296.58 406.7,296.72 407.2,296.83 407.7,296.89 408.2,296.90 408.7,296.90 409.2,296.90 409.7,296.90 410.2,296.90 410.7,296.90 411.2,296.90 411.7,296.90 412.2,296.90 412.7,296.90 413.2,296.84 413.7,296.68 414.2,296.43 414.7,296.11 415.2,295.74 415.7,295.34 416.2,294.92 416.7,294.51 417.2,294.12 417.7,293.76 418.2,293.38 418.7,292.96 419.2,292.53 419.7,292.09 420.2,291.63 420.7,291.19 421.2,290.75 421.7,290.33 422.2,289.94 422.7,289.58 423.2,289.27 423.7,289.00 424.2,288.76 424.7,288.55 425.2,288.36 425.7,288.18 426.2,288.01 426.7,287.85 427.2,287.68 427.7,287.51 428.2,287.34 428.7,287.14 429.2,286.94 429.7,286.71 430.2,286.48 430.7,286.25 431.2,286.02 431.7,285.78 432.2,285.53 432.7,285.26 433.2,284.97 433.7,284.65 434.2,284.30 434.7,283.91 435.2,283.48 435.7,282.99 436.2,282.31 436.7,281.46 437.2,280.46 437.7,279.35 438.2,278.18 438.7,276.97 439.2,275.76 439.7,274.42 440.2,272.94 440.7,271.40 441.2,269.87 441.7,268.44 442.2,267.11 442.7,265.78 443.2,264.32 443.7,262.52 444.2,260.56 444.7,259.02 445.2,257.60 445.7,256.27 446.2,255.03 446.7,253.91 447.2,252.90 447.7,252.04 448.2,251.32 448.7,250.62 449.2,249.95 449.7,249.36 450.2,248.91 450.7,248.65 451.2,248.62 451.7,248.78 452.2,249.11 452.7,249.57 453.2,250.15 453.7,250.83 454.2,251.57 454.7,252.37 455.2,253.58 455.7,255.23 456.2,257.14 456.7,259.12 457.2,261.12 457.7,263.37 458.2,265.59 458.7,267.61 459.2,269.57 459.7,271.40 460.2,273.03 460.7,274.57 461.2,276.05 461.7,277.45 462.2,278.77 462.7,280.01 463.2,281.16 463.7,282.20 464.2,283.21 464.7,284.18 465.2,285.13 465.7,286.03 466.2,286.88 466.7,287.66 467.2,288.37 467.7,288.99 468.2,289.52 468.7,289.95 469.2,290.35 469.7,290.73 470.2,291.07 470.7,291.38 471.2,291.66 471.7,291.92 472.2,292.15 472.7,292.36 473.2,292.53 473.7,292.69 474.2,292.83 474.7,292.96 475.2,293.07 475.7,293.18 476.2,293.28 476.7,293.38 477.2,293.47 477.7,293.58 478.2,293.68 478.7,293.80 479.2,293.93 479.7,294.08 480.2,294.25 480.7,294.43 481.2,294.63 481.7,294.83 482.2,295.04 482.7,295.24 483.2,295.43 483.7,295.60 484.2,295.76 484.7,295.90 485.2,296.00 485.7,296.07 486.2,296.10 486.7,296.09 487.2,296.05 487.7,295.99 488.2,295.90 488.7,295.80 489.2,295.68 489.7,295.55 490.2,295.42 490.7,295.29 491.2,295.16 491.7,295.03 492.2,294.92 492.7,294.81 493.2,294.69 493.7,294.55 494.2,294.41 494.7,294.28 495.2,294.15 495.7,294.05 496.2,293.96 496.7,293.91 497.2,293.90 497.7,293.91 498.2,293.93 498.7,293.96 499.2,294.00 499.7,294.05 500.2,294.10 500.7,294.16 501.2,294.23 501.7,294.30 502.2,294.37 502.7,294.44 503.2,294.52 503.7,294.61 504.2,294.73 504.7,294.87 505.2,295.03 505.7,295.20 506.2,295.37 506.7,295.53 507.2,295.69 507.7,295.83 508.2,295.95 508.7,296.05 509.2,296.11 509.7,296.16 510.2,296.21 510.7,296.25 511.2,296.28 511.7,296.30 512.2,296.30 512.7,296.27 513.2,296.22 513.7,296.16 514.2,296.08 514.7,295.99 515.2,295.91 515.7,295.83 516.2,295.76 516.7,295.71 517.2,295.67 517.7,295.63 518.2,295.60 518.7,295.56 519.2,295.53 519.7,295.50 520.2,295.47 520.7,295.45 521.2,295.43 521.7,295.41 522.2,295.40 522.7,295.40 523.2,295.41 523.7,295.45 524.2,295.52 524.7,295.61 525.2,295.71 525.7,295.83 526.2,295.95 526.7,296.07 527.2,296.20 527.7,296.31 528.2,296.41 528.7,296.50 529.2,296.56 529.7,296.59 530.2,296.59 530.7,296.52 531.2,296.38 531.7,296.19 532.2,295.94 532.7,295.67 533.2,295.38 533.7,295.07 534.2,294.77 534.7,294.49 535.2,294.23 535.7,294.01 536.2,293.84 536.7,293.68 537.2,293.53 537.7,293.40 538.2,293.26 538.7,293.14 539.2,293.02 539.7,292.90 540.2,292.78 540.7,292.67 541.2,292.55 541.7,292.44 542.2,292.32 542.7,292.20 543.2,292.07 543.7,291.95 544.2,291.84 544.7,291.72 545.2,291.61 545.7,291.50 546.2,291.39 546.7,291.27 547.2,291.16 547.7,291.04 548.2,290.91 548.7,290.78 549.2,290.64 549.7,290.49 550.2,290.33 550.7,290.16 551.2,289.98 551.7,289.79 552.2,289.59 552.7,289.38 553.2,289.15 553.7,288.91 554.2,288.65 554.7,288.38 555.2,288.09 555.7,287.79 556.2,287.47 556.7,287.11 557.2,286.68 557.7,286.18 558.2,285.64 558.7,285.07 559.2,284.46 559.7,283.84 560.2,283.22 560.7,282.60 561.2,282.00 561.7,281.43 562.2,280.90 562.7,280.41 563.2,279.94 563.7,279.49 564.2,279.04 564.7,278.61 565.2,278.18 565.7,277.75 566.2,277.32 566.7,276.88 567.2,276.44 567.7,275.98 568.2,275.50 568.7,275.01 569.2,274.54 569.7,274.05 570.2,273.55 570.7,273.00 571.2,272.40 571.7,271.72 572.2,270.97 572.7,270.16 573.2,269.26 573.7,268.28 574.2,267.20 574.7,266.04 575.2,264.77 575.7,263.32 576.2,261.57 576.7,259.58 577.2,257.41 577.7,255.13 578.2,252.54 578.7,249.66 579.2,246.66 579.7,243.69 580.2,240.94 580.7,238.45 581.2,235.83 581.7,232.50 582.2,228.16 582.7,224.88 583.2,222.10 583.7,219.60 584.2,217.32 584.7,215.20 585.2,213.19 585.7,211.19 586.2,209.14 586.7,207.21 587.2,205.63 587.7,204.60 588.2,203.94 588.7,203.40 589.2,203.06 589.7,203.03 590.2,203.31 590.7,203.85 591.2,204.58 591.7,205.44 592.2,206.49 592.7,208.21 593.2,210.42 593.7,212.93 594.2,215.50 594.7,218.08 595.2,220.90 595.7,224.01 596.2,227.42 596.7,231.50 597.2,235.63 597.7,239.74 598.2,243.74 598.7,247.44 599.2,250.91 599.7,254.21 600.2,257.38 600.7,260.47 601.2,263.40 601.7,266.00 602.2,268.37 602.7,270.46 603.2,272.24 603.7,273.88 604.2,275.40 604.7,276.80 605.2,278.06 605.7,279.19 606.2,280.19 606.7,281.15 607.2,282.06 607.7,282.92 608.2,283.73 608.7,284.48 609.2,285.17 609.7,285.79 610.2,286.33 610.7,286.80 611.2,287.22 611.7,287.62 612.2,288.01 612.7,288.38 613.2,288.72 613.7,289.04 614.2,289.33 614.7,289.59 615.2,289.82 615.7,290.02 616.2,290.18 616.7,290.30 617.2,290.40 617.7,290.49 618.2,290.58 618.7,290.66 619.2,290.73 619.7,290.79 620.2,290.84 620.7,290.88 621.2,290.90 621.7,290.89 622.2,290.80 622.7,290.63 623.2,290.38 623.7,290.08 624.2,289.72 624.7,289.33 625.2,288.92 625.7,288.50 626.2,288.08 626.7,287.64 627.2,287.11 627.7,286.50 628.2,285.85 628.7,285.15 629.2,284.45 629.7,283.75 630.2,283.08 630.7,282.45 631.2,281.89 631.7,281.34 632.2,280.80 632.7,280.30 633.2,279.87 633.7,279.54 634.2,279.25 634.7,278.97 635.2,278.72 635.7,278.53 636.2,278.42 636.7,278.41 637.2,278.47 637.7,278.61 638.2,278.79 638.7,279.02 639.2,279.28 639.7,279.56 640.2,279.85 640.7,280.14 641.2,280.44 641.7,280.80 642.2,281.20 642.7,281.63 643.2,282.09 643.7,282.55 644.2,283.02 644.7,283.49 645.2,284.06 645.7,284.69 646.2,285.36 646.7,286.01 647.2,286.63 647.7,287.18 648.2,287.61 648.7,287.90 649.2,288.00 649.7,288.00 650.2,288.00 650.7,288.00 651.2,288.00 651.7,288.00 652.2,288.00 652.7,288.00 653.2,288.00 653.7,288.00 654.2,288.00 654.7,287.98 655.2,287.94 655.7,287.88 656.2,287.82 656.7,287.74 657.2,287.67 657.7,287.60 658.2,287.53 658.7,287.47 659.2,287.43 659.7,287.40 660.2,287.40 660.7,287.44 661.2,287.50 661.7,287.60 662.2,287.72 662.7,287.86 663.2,288.02 663.7,288.19 664.2,288.37 664.7,288.56 665.2,288.78 665.7,289.07 666.2,289.42 666.7,289.82 667.2,290.25 667.7,290.69 668.2,291.14 668.7,291.57 669.2,291.98 669.7,292.34 670.2,292.71 670.7,293.09 671.2,293.46 671.7,293.81 672.2,294.13 672.7,294.41 673.2,294.64 673.7,294.84 674.2,295.01 674.7,295.15 674.9,295.20" stroke="#ffff10"/>
<path d="M4.2,259.40 4.7,258.17 5.2,257.05 5.7,256.09 6.2,255.30 6.7,254.52 7.2,253.80 7.7,253.24 8.2,252.93 8.7,252.94 9.2,253.16 9.7,253.55 10.2,254.06 10.7,254.67 11.2,255.33 11.7,256.08 12.2,257.19 12.7,258.57 13.2,260.12 13.7,261.73 14.2,263.31 14.7,264.82 15.2,266.49 15.7,268.18 16.2,269.74 16.7,271.00 17.2,271.97 17.7,272.91 18.2,273.81 18.7,274.61 19.2,275.26 19.7,275.73 20.2,275.98 20.7,275.95 21.2,275.65 21.7,275.14 22.2,274.45 22.7,273.62 23.2,272.72 23.7,271.77 24.2,270.78 24.7,269.43 25.2,267.86 25.7,266.31 26.2,264.99 26.7,263.63 27.2,262.34 27.7,261.34 28.2,260.84 28.7,260.58 29.2,260.36 29.7,260.20 30.2,260.12 30.7,260.12 31.2,260.29 31.7,260.63 32.2,261.09 32.7,261.66 33.2,262.30 33.7,263.02 34.2,264.17 34.7,265.67 35.2,267.31 35.7,268.92 36.2,270.32 36.7,271.62 37.2,272.97 37.7,274.50 38.2,276.48 38.7,278.77 39.2,280.94 39.7,282.61 40.2,284.05 40.7,285.39 41.2,286.63 41.7,287.76 42.2,288.77 42.7,289.67 43.2,290.45 43.7,291.20 44.2,291.95 44.7,292.68 45.2,293.36 45.7,293.98 46.2,294.51 46.7,294.94 47.2,295.24 47.7,295.39 48.2,295.38 48.7,295.30 49.2,295.15 49.7,294.96 50.2,294.73 50.7,294.50 51.2,294.26 51.7,294.03 52.2,293.84 52.7,293.70 53.2,293.59 53.7,293.49 54.2,293.39 54.7,293.30 55.2,293.21 55.7,293.13 56.2,293.06 56.7,292.98 57.2,292.91 57.7,292.84 58.2,292.77 58.7,292.70 59.2,292.64 59.7,292.58 60.2,292.54 60.7,292.49 61.2,292.45 61.7,292.40 62.2,292.34 62.7,292.26 63.2,292.17 63.7,292.03 64.2,291.70 64.7,291.17 65.2,290.47 65.7,289.64 66.2,288.71 66.7,287.72 67.2,286.70 67.7,285.56 68.2,284.10 68.7,282.40 69.2,280.55 69.7,278.65 70.2,276.80 70.7,275.08 71.2,273.60 71.7,272.31 72.2,271.11 72.7,269.97 73.2,268.88 73.7,267.82 74.2,266.77 74.7,265.71 75.2,264.61 75.7,263.49 76.2,262.49 76.7,261.71 77.2,260.96 77.7,260.26 78.2,259.70 78.7,259.36 79.2,259.32 79.7,259.54 80.2,259.96 80.7,260.50 81.2,261.12 81.7,261.77 82.2,262.61 82.7,263.70 83.2,265.19 83.7,267.67 84.2,270.33 84.7,272.33 85.2,274.09 85.7,275.72 86.2,277.24 86.7,278.69 87.2,280.08 87.7,281.45 88.2,282.84 88.7,284.28 89.2,285.73 89.7,287.13 90.2,288.42 90.7,289.55 91.2,290.47 91.7,291.15 92.2,291.76 92.7,292.34 93.2,292.87 93.7,293.31 94.2,293.64 94.7,293.85 95.2,293.90 95.7,293.87 96.2,293.81 96.7,293.73 97.2,293.61 97.7,293.47 98.2,293.32 98.7,293.15 99.2,292.97 99.7,292.78 100.2,292.55 100.7,292.18 101.2,291.69 101.7,291.13 102.2,290.54 102.7,289.95 103.2,289.43 103.7,289.00 104.2,288.71 104.7,288.60 105.2,288.64 105.7,288.77 106.2,288.96 106.7,289.20 107.2,289.48 107.7,289.79 108.2,290.11 108.7,290.43 109.2,290.73 109.7,291.01 110.2,291.33 110.7,291.68 111.2,292.05 111.7,292.42 112.2,292.79 112.7,293.13 113.2,293.44 113.7,293.69 114.2,293.87 114.7,294.00 115.2,294.12 115.7,294.24 116.2,294.33 116.7,294.41 117.2,294.47 117.7,294.50 118.2,294.48 118.7,294.40 119.2,294.25 119.7,294.05 120.2,293.82 120.7,293.57 121.2,293.32 121.7,293.08 122.2,292.87 122.7,292.70 123.2,292.57 123.7,292.46 124.2,292.36 124.7,292.28 125.2,292.19 125.7,292.10 126.2,292.01 126.7,291.90 127.2,291.77 127.7,291.61 128.2,291.41 128.7,291.13 129.2,290.75 129.7,290.30 130.2,289.77 130.7,289.18 131.2,288.54 131.7,287.86 132.2,287.06 132.7,286.10 133.2,285.00 133.7,283.79 134.2,282.47 134.7,281.07 135.2,279.60 135.7,277.91 136.2,275.93 136.7,273.80 137.2,271.64 137.7,269.61 138.2,267.76 138.7,265.84 139.2,263.48 139.7,260.48 140.2,257.09 140.7,253.60 141.2,250.30 141.7,247.08 142.2,243.78 142.7,240.62 143.2,237.82 143.7,235.60 144.2,233.69 144.7,231.96 145.2,230.48 145.7,229.31 146.2,228.51 146.7,227.81 147.2,227.27 147.7,227.01 148.2,227.12 148.7,227.56 149.2,228.24 149.7,229.09 150.2,230.00 150.7,231.16 151.2,232.73 151.7,234.60 152.2,236.67 152.7,238.84 153.2,241.18 153.7,243.81 154.2,246.75 154.7,250.06 155.2,254.17 155.7,259.43 156.2,263.33 156.7,266.24 157.2,268.69 157.7,270.81 158.2,272.80 158.7,274.67 159.2,276.34 159.7,277.74 160.2,278.80 160.7,279.65 161.2,280.48 161.7,281.24 162.2,281.93 162.7,282.52 163.2,282.99 163.7,283.32 164.2,283.48 164.7,283.45 165.2,283.16 165.7,282.66 166.2,282.03 166.7,281.30 167.2,280.55 167.7,279.83 168.2,279.20 168.7,278.71 169.2,278.27 169.7,277.81 170.2,277.35 170.7,276.91 171.2,276.50 171.7,276.15 172.2,275.88 172.7,275.69 173.2,275.60 173.7,275.66 174.2,275.91 174.7,276.29 175.2,276.78 175.7,277.34 176.2,277.92 176.7,278.48 177.2,279.01 177.7,279.59 178.2,280.23 178.7,280.91 179.2,281.59 179.7,282.27 180.2,282.91 180.7,283.50 181.2,284.00 181.7,284.47 182.2,284.96 182.7,285.44 183.2,285.87 183.7,286.23 184.2,286.48 184.7,286.60 185.2,286.52 185.7,286.24 186.2,285.78 186.7,285.21 187.2,284.57 187.7,283.90 188.2,283.25 188.7,282.67 189.2,282.04 189.7,281.37 190.2,280.67 190.7,279.97 191.2,279.28 191.7,278.62 192.2,278.02 192.7,277.49 193.2,276.93 193.7,276.36 194.2,275.80 194.7,275.29 195.2,274.85 195.7,274.52 196.2,274.33 196.7,274.31 197.2,274.43 197.7,274.68 198.2,275.02 198.7,275.43 199.2,275.91 199.7,276.43 200.2,276.97 200.7,277.50 201.2,278.02 201.7,278.49 202.2,279.02 202.7,279.64 203.2,280.31 203.7,281.02 204.2,281.75 204.7,282.47 205.2,283.17 205.7,283.82 206.2,284.41 206.7,284.90 207.2,285.27 207.7,285.51 208.2,285.60 208.7,285.45 209.2,285.02 209.7,284.36 210.2,283.53 210.7,282.58 211.2,281.55 211.7,280.50 212.2,279.48 212.7,278.54 213.2,277.72 213.7,277.09 214.2,276.50 214.7,275.89 215.2,275.28 215.7,274.67 216.2,274.09 216.7,273.53 217.2,273.01 217.7,272.55 218.2,272.15 218.7,271.82 219.2,271.58 219.7,271.44 220.2,271.40 220.7,271.50 221.2,271.73 221.7,272.06 222.2,272.49 222.7,272.98 223.2,273.52 223.7,274.10 224.2,274.68 224.7,275.34 225.2,276.19 225.7,277.19 226.2,278.28 226.7,279.42 227.2,280.54 227.7,281.60 228.2,282.59 228.7,283.61 229.2,284.66 229.7,285.72 230.2,286.76 230.7,287.76 231.2,288.70 231.7,289.55 232.2,290.29 232.7,290.90 233.2,291.41 233.7,291.87 234.2,292.30 234.7,292.69 235.2,293.05 235.7,293.39 236.2,293.71 236.7,294.02 237.2,294.32 237.7,294.62 238.2,294.91 238.7,295.18 239.2,295.44 239.7,295.69 240.2,295.94 240.7,296.17 241.2,296.40 241.7,296.63 242.2,296.86 242.7,297.08 243.2,297.31 243.7,297.54 244.2,297.78 244.7,298.00 245.2,298.23 245.7,298.44 246.2,298.64 246.7,298.83 247.2,299.00 247.7,299.15 248.2,299.28 248.7,299.39 249.2,299.50 249.7,299.60 250.2,299.71 250.7,299.81 251.2,299.90 251.7,299.98 252.2,300.05 252.7,300.11 253.2,300.16 253.7,300.19 254.2,300.20 254.7,300.19 255.2,300.17 255.7,300.13 256.2,300.09 256.7,300.03 257.2,299.96 257.7,299.89 258.2,299.82 258.7,299.76 259.2,299.69 259.7,299.63 260.2,299.58 260.7,299.53 261.2,299.48 261.7,299.42 262.2,299.38 262.7,299.33 263.2,299.30 263.7,299.27 264.2,299.24 264.7,299.21 265.2,299.18 265.7,299.15 266.2,299.13 266.7,299.10 267.2,299.08 267.7,299.06 268.2,299.04 268.7,299.02 269.2,299.01 269.7,299.00 270.2,299.00 270.7,299.00 271.2,299.00 271.7,299.00 272.2,299.00 272.7,299.00 273.2,299.00 273.7,299.00 274.2,299.00 274.7,299.00 275.2,299.00 275.7,299.00 276.2,299.00 276.7,299.00 277.2,299.00 277.7,299.00 278.2,299.00 278.7,299.00 279.2,299.00 279.7,299.00 280.2,299.00 280.7,299.00 281.2,299.00 281.7,299.00 282.2,299.00 282.7,299.00 283.2,299.00 283.7,299.00 284.2,299.00 284.7,299.00 285.2,299.00 285.7,299.00 286.2,299.00 286.7,299.00 287.2,299.00 287.7,299.00 288.2,299.00 288.7,299.00 289.2,298.98 289.7,298.94 290.2,298.89 290.7,298.83 291.2,298.76 291.7,298.68 292.2,298.59 292.7,298.48 293.2,298.37 293.7,298.25 294.2,298.13 294.7,297.96 295.2,297.68 295.7,297.30 296.2,296.86 296.7,296.37 297.2,295.84 297.7,295.30 298.2,294.77 298.7,294.27 299.2,293.81 299.7,293.34 300.2,292.84 300.7,292.33 301.2,291.82 301.7,291.32 302.2,290.85 302.7,290.43 303.2,290.07 303.7,289.79 304.2,289.58 304.7,289.39 305.2,289.20 305.7,289.03 306.2,288.88 306.7,288.76 307.2,288.67 307.7,288.61 308.2,288.60 308.7,288.68 309.2,288.86 309.7,289.11 310.2,289.42 310.7,289.77 311.2,290.13 311.7,290.49 312.2,290.84 312.7,291.16 313.2,291.52 313.7,291.91 314.2,292.30 314.7,292.71 315.2,293.11 315.7,293.51 316.2,293.89 316.7,294.24 317.2,294.56 317.7,294.90 318.2,295.25 318.7,295.60 319.2,295.90 319.7,296.14 320.2,296.28 320.7,296.30 321.2,296.24 321.7,296.14 322.2,295.99 322.7,295.82 323.2,295.62 323.7,295.40 324.2,295.18 324.7,294.97 325.2,294.77 325.7,294.59 326.2,294.44 326.7,294.31 327.2,294.19 327.7,294.07 328.2,293.95 328.7,293.84 329.2,293.73 329.7,293.61 330.2,293.49 330.7,293.37 331.2,293.24 331.7,293.09 332.2,292.94 332.7,292.78 333.2,292.62 333.7,292.45 334.2,292.26 334.7,292.07 335.2,291.85 335.7,291.62 336.2,291.35 336.7,291.06 337.2,290.72 337.7,290.30 338.2,289.80 338.7,289.23 339.2,288.59 339.7,287.89 340.2,287.12 340.7,286.27 341.2,285.22 341.7,283.99 342.2,282.61 342.7,281.11 343.2,279.44 343.7,277.49 344.2,275.34 344.7,273.06 345.2,270.73 345.7,268.21 346.2,265.57 346.7,262.92 347.2,259.96 347.7,256.96 348.2,254.39 348.7,252.70 349.2,251.63 349.7,250.63 350.2,249.72 350.7,248.91 351.2,248.22 351.7,247.64 352.2,247.21 352.7,246.92 353.2,246.80 353.7,246.87 354.2,247.16 354.7,247.62 355.2,248.24 355.7,248.99 356.2,249.83 356.7,250.74 357.2,251.71 357.7,253.13 358.2,255.05 358.7,257.28 359.2,259.60 359.7,261.80 360.2,263.68 360.7,265.21 361.2,266.63 361.7,267.97 362.2,269.21 362.7,270.36 363.2,271.41 363.7,272.50 364.2,273.62 364.7,274.66 365.2,275.50 365.7,276.05 366.2,276.19 366.7,275.95 367.2,275.44 367.7,274.73 368.2,273.91 368.7,273.05 369.2,272.24 369.7,271.32 370.2,270.26 370.7,269.12 371.2,267.96 371.7,266.84 372.2,265.84 372.7,265.00 373.2,264.25 373.7,263.49 374.2,262.74 374.7,262.01 375.2,261.35 375.7,260.76 376.2,260.28 376.7,259.93 377.2,259.73 377.7,259.72 378.2,259.93 378.7,260.35 379.2,260.93 379.7,261.64 380.2,262.44 380.7,263.30 381.2,264.19 381.7,265.38 382.2,266.90 382.7,268.58 383.2,270.26 383.7,271.81 384.2,273.36 384.7,274.92 385.2,276.45 385.7,277.87 386.2,279.16 386.7,280.38 387.2,281.53 387.7,282.60 388.2,283.59 388.7,284.59 389.2,285.56 389.7,286.48 390.2,287.32 390.7,288.04 391.2,288.60 391.7,289.07 392.2,289.54 392.7,289.98 393.2,290.38 393.7,290.72 394.2,291.00 394.7,291.19 395.2,291.29 395.7,291.29 396.2,291.20 396.7,291.06 397.2,290.86 397.7,290.63 398.2,290.37 398.7,290.10 399.2,289.83 399.7,289.57 400.2,289.34 400.7,289.14 401.2,289.00 401.7,288.91 402.2,288.90 402.7,288.91 403.2,288.92 403.7,288.94 404.2,288.96 404.7,288.99 405.2,289.01 405.7,289.03 406.2,289.06 406.7,289.08 407.2,289.09 407.7,289.10 408.2,289.09 408.7,288.96 409.2,288.70 409.7,288.33 410.2,287.86 410.7,287.33 411.2,286.74 411.7,286.11 412.2,285.46 412.7,284.62 413.2,283.54 413.7,282.28 414.2,280.92 414.7,279.51 415.2,278.12 415.7,276.66 416.2,275.08 416.7,273.44 417.2,271.77 417.7,270.10 418.2,268.48 418.7,266.93 419.2,265.36 419.7,263.63 420.2,261.49 420.7,259.08 421.2,256.67 421.7,254.52 422.2,252.93 422.7,251.86 423.2,250.86 423.7,249.92 424.2,249.09 424.7,248.40 425.2,247.86 425.7,247.52 426.2,247.40 426.7,247.54 427.2,247.95 427.7,248.57 428.2,249.39 428.7,250.35 429.2,251.42 429.7,252.56 430.2,253.75 430.7,255.43 431.2,257.58 431.7,259.88 432.2,262.00 432.7,263.91 433.2,265.79 433.7,267.63 434.2,269.43 434.7,271.21 435.2,273.00 435.7,274.78 436.2,276.54 436.7,278.25 437.2,279.88 437.7,281.42 438.2,282.87 438.7,284.34 439.2,285.79 439.7,287.18 440.2,288.45 440.7,289.57 441.2,290.48 441.7,291.15 442.2,291.76 442.7,292.34 443.2,292.87 443.7,293.31 444.2,293.64 444.7,293.85 445.2,293.90 445.7,293.86 446.2,293.77 446.7,293.64 447.2,293.51 447.7,293.37 448.2,293.26 448.7,293.17 449.2,293.08 449.7,293.00 450.2,292.91 450.7,292.83 451.2,292.75 451.7,292.68 452.2,292.61 452.7,292.56 453.2,292.52 453.7,292.50 454.2,292.51 454.7,292.57 455.2,292.69 455.7,292.87 456.2,293.10 456.7,293.36 457.2,293.65 457.7,293.96 458.2,294.28 458.7,294.61 459.2,294.93 459.7,295.23 460.2,295.52 460.7,295.85 461.2,296.23 461.7,296.63 462.2,297.04 462.7,297.44 463.2,297.80 463.7,298.11 464.2,298.34 464.7,298.48 465.2,298.55 465.7,298.61 466.2,298.67 466.7,298.72 467.2,298.77 467.7,298.82 468.2,298.85 468.7,298.89 469.2,298.92 469.7,298.95 470.2,298.97 470.7,298.98 471.2,298.99 471.7,299.00 472.2,299.00 472.7,298.98 473.2,298.95 473.7,298.90 474.2,298.84 474.7,298.78 475.2,298.72 475.7,298.66 476.2,298.60 476.7,298.55 477.2,298.52 477.7,298.50 478.2,298.51 478.7,298.54 479.2,298.60 479.7,298.69 480.2,298.80 480.7,298.91 481.2,299.04 481.7,299.17 482.2,299.31 482.7,299.44 483.2,299.56 483.7,299.66 484.2,299.76 484.7,299.86 485.2,299.97 485.7,300.08 486.2,300.19 486.7,300.29 487.2,300.37 487.7,300.44 488.2,300.48 488.7,300.50 489.2,300.48 489.7,300.42 490.2,300.33 490.7,300.22 491.2,300.08 491.7,299.94 492.2,299.78 492.7,299.63 493.2,299.47 493.7,299.33 494.2,299.21 494.7,299.11 495.2,299.04 495.7,299.00 496.2,299.00 496.7,299.01 497.2,299.02 497.7,299.03 498.2,299.05 498.7,299.08 499.2,299.11 499.7,299.14 500.2,299.17 500.7,299.21 501.2,299.25 501.7,299.28 502.2,299.33 502.7,299.41 503.2,299.51 503.7,299.63 504.2,299.76 504.7,299.90 505.2,300.04 505.7,300.18 506.2,300.29 506.7,300.39 507.2,300.46 507.7,300.50 508.2,300.49 508.7,300.46 509.2,300.41 509.7,300.34 510.2,300.25 510.7,300.15 511.2,300.05 511.7,299.96 512.2,299.86 512.7,299.74 513.2,299.59 513.7,299.43 514.2,299.26 514.7,299.09 515.2,298.95 515.7,298.82 516.2,298.74 516.7,298.70 517.2,298.70 517.7,298.72 518.2,298.75 518.7,298.79 519.2,298.83 519.7,298.89 520.2,298.95 520.7,299.01 521.2,299.08 521.7,299.15 522.2,299.22 522.7,299.29 523.2,299.36 523.7,299.46 524.2,299.58 524.7,299.72 525.2,299.86 525.7,300.01 526.2,300.16 526.7,300.31 527.2,300.45 527.7,300.58 528.2,300.70 528.7,300.79 529.2,300.86 529.7,300.89 530.2,300.90 530.7,300.85 531.2,300.76 531.7,300.64 532.2,300.49 532.7,300.33 533.2,300.15 533.7,299.97 534.2,299.79 534.7,299.62 535.2,299.47 535.7,299.35 536.2,299.27 536.7,299.19 537.2,299.11 537.7,299.03 538.2,298.95 538.7,298.87 539.2,298.80 539.7,298.74 540.2,298.68 540.7,298.63 541.2,298.58 541.7,298.55 542.2,298.52 542.7,298.50 543.2,298.50 543.7,298.51 544.2,298.55 544.7,298.59 545.2,298.65 545.7,298.73 546.2,298.82 546.7,298.91 547.2,299.01 547.7,299.12 548.2,299.23 548.7,299.34 549.2,299.46 549.7,299.57 550.2,299.68 550.7,299.80 551.2,299.94 551.7,300.11 552.2,300.29 552.7,300.48 553.2,300.67 553.7,300.85 554.2,301.02 554.7,301.17 555.2,301.28 555.7,301.36 556.2,301.40 556.7,301.39 557.2,301.35 557.7,301.28 558.2,301.19 558.7,301.08 559.2,300.95 559.7,300.82 560.2,300.69 560.7,300.56 561.2,300.43 561.7,300.32 562.2,300.22 562.7,300.13 563.2,300.03 563.7,299.93 564.2,299.83 564.7,299.74 565.2,299.64 565.7,299.55 566.2,299.47 566.7,299.40 567.2,299.35 567.7,299.32 568.2,299.30 568.7,299.32 569.2,299.38 569.7,299.49 570.2,299.63 570.7,299.80 571.2,299.99 571.7,300.19 572.2,300.39 572.7,300.59 573.2,300.77 573.7,300.94 574.2,301.08 574.7,301.20 575.2,301.32 575.7,301.45 576.2,301.57 576.7,301.67 577.2,301.75 577.7,301.79 578.2,301.79 578.7,301.72 579.2,301.59 579.7,301.41 580.2,301.21 580.7,300.99 581.2,300.78 581.7,300.59 582.2,300.44 582.7,300.29 583.2,300.13 583.7,299.96 584.2,299.79 584.7,299.63 585.2,299.48 585.7,299.34 586.2,299.22 586.7,299.12 587.2,299.05 587.7,299.01 588.2,299.00 588.7,299.01 589.2,299.01 589.7,299.03 590.2,299.05 590.7,299.07 591.2,299.10 591.7,299.13 592.2,299.16 592.7,299.20 593.2,299.23 593.7,299.27 594.2,299.32 594.7,299.40 595.2,299.51 595.7,299.64 596.2,299.80 596.7,299.97 597.2,300.16 597.7,300.34 598.2,300.53 598.7,300.71 599.2,300.87 599.7,301.02 600.2,301.15 600.7,301.28 601.2,301.41 601.7,301.55 602.2,301.69 602.7,301.82 603.2,301.94 603.7,302.05 604.2,302.14 604.7,302.22 605.2,302.27 605.7,302.30 606.2,302.29 606.7,302.26 607.2,302.20 607.7,302.12 608.2,302.02 608.7,301.91 609.2,301.79 609.7,301.66 610.2,301.52 610.7,301.39 611.2,301.26 611.7,301.14 612.2,301.04 612.7,300.93 613.2,300.82 613.7,300.72 614.2,300.61 614.7,300.50 615.2,300.38 615.7,300.27 616.2,300.15 616.7,300.02 617.2,299.89 617.7,299.76 618.2,299.61 618.7,299.47 619.2,299.32 619.7,299.16 620.2,299.00 620.7,298.83 621.2,298.66 621.7,298.47 622.2,298.27 622.7,298.06 623.2,297.84 623.7,297.60 624.2,297.34 624.7,297.05 625.2,296.71 625.7,296.35 626.2,295.96 626.7,295.55 627.2,295.12 627.7,294.68 628.2,294.23 628.7,293.77 629.2,293.32 629.7,292.88 630.2,292.42 630.7,291.91 631.2,291.37 631.7,290.81 632.2,290.28 632.7,289.81 633.2,289.43 633.7,289.15 634.2,288.93 634.7,288.72 635.2,288.53 635.7,288.39 636.2,288.31 636.7,288.30 637.2,288.35 637.7,288.43 638.2,288.55 638.7,288.69 639.2,288.86 639.7,289.05 640.2,289.25 640.7,289.45 641.2,289.66 641.7,289.88 642.2,290.16 642.7,290.47 643.2,290.83 643.7,291.20 644.2,291.59 644.7,291.98 645.2,292.36 645.7,292.73 646.2,293.06 646.7,293.35 647.2,293.61 647.7,293.89 648.2,294.17 648.7,294.45 649.2,294.71 649.7,294.94 650.2,295.14 650.7,295.29 651.2,295.38 651.7,295.40 652.2,295.34 652.7,295.22 653.2,295.03 653.7,294.81 654.2,294.55 654.7,294.28 655.2,294.00 655.7,293.74 656.2,293.49 656.7,293.26 657.2,292.99 657.7,292.70 658.2,292.41 658.7,292.15 659.2,291.94 659.7,291.82 660.2,291.80 660.7,291.82 661.2,291.86 661.7,291.91 662.2,291.98 662.7,292.06 663.2,292.15 663.7,292.25 664.2,292.36 664.7,292.48 665.2,292.62 665.7,292.83 666.2,293.09 666.7,293.39 667.2,293.73 667.7,294.07 668.2,294.41 668.7,294.74 669.2,295.04 669.7,295.30 670.2,295.55 670.7,295.79 671.2,296.03 671.7,296.26 672.2,296.49 672.7,296.71 673.2,296.92 673.7,297.13 674.2,297.33 674.7,297.52 674.9,297.60" stroke="#ff3030"/>
<path d="M4.2,293.70 4.7,293.56 5.2,293.46 5.7,293.38 6.2,293.33 6.7,293.31 7.2,293.30 7.7,293.33 8.2,293.41 8.7,293.54 9.2,293.70 9.7,293.89 10.2,294.10 10.7,294.32 11.2,294.55 11.7,294.77 12.2,294.99 12.7,295.24 13.2,295.52 13.7,295.82 14.2,296.13 14.7,296.43 15.2,296.71 15.7,296.95 16.2,297.18 16.7,297.44 17.2,297.69 17.7,297.93 18.2,298.16 18.7,298.36 19.2,298.52 19.7,298.64 20.2,298.69 20.7,298.69 21.2,298.61 21.7,298.48 22.2,298.31 22.7,298.09 23.2,297.85 23.7,297.59 24.2,297.31 24.7,297.04 25.2,296.79 25.7,296.55 26.2,296.34 26.7,296.15 27.2,295.94 27.7,295.72 28.2,295.50 28.7,295.28 29.2,295.07 29.7,294.89 30.2,294.73 30.7,294.61 31.2,294.53 31.7,294.50 32.2,294.54 32.7,294.64 33.2,294.80 33.7,295.00 34.2,295.24 34.7,295.49 35.2,295.75 35.7,296.00 36.2,296.26 36.7,296.57 37.2,296.93 37.7,297.32 38.2,297.72 38.7,298.12 39.2,298.49 39.7,298.82 40.2,299.10 40.7,299.30 41.2,299.46 41.7,299.61 42.2,299.75 42.7,299.89 43.2,300.02 43.7,300.14 44.2,300.24 44.7,300.33 45.2,300.40 45.7,300.45 46.2,300.49 46.7,300.50 47.2,300.48 47.7,300.43 48.2,300.36 48.7,300.26 49.2,300.14 49.7,300.01 50.2,299.88 50.7,299.75 51.2,299.62 51.7,299.49 52.2,299.39 52.7,299.30 53.2,299.22 53.7,299.14 54.2,299.05 54.7,298.97 55.2,298.89 55.7,298.83 56.2,298.77 56.7,298.73 57.2,298.70 57.7,298.70 58.2,298.74 58.7,298.81 59.2,298.91 59.7,299.04 60.2,299.19 60.7,299.35 61.2,299.52 61.7,299.69 62.2,299.87 62.7,300.06 63.2,300.33 63.7,300.64 64.2,300.96 64.7,301.27 65.2,301.54 65.7,301.73 66.2,301.83 66.7,301.91 67.2,301.99 67.7,302.06 68.2,302.12 68.7,302.17 69.2,302.21 69.7,302.25 70.2,302.28 70.7,302.29 71.2,302.30 71.7,302.28 72.2,302.23 72.7,302.15 73.2,302.04 73.7,301.91 74.2,301.77 74.7,301.61 75.2,301.45 75.7,301.28 76.2,301.11 76.7,300.95 77.2,300.80 77.7,300.66 78.2,300.54 78.7,300.44 79.2,300.35 79.7,300.27 80.2,300.19 80.7,300.12 81.2,300.05 81.7,299.98 82.2,299.91 82.7,299.83 83.2,299.76 83.7,299.68 84.2,299.59 84.7,299.50 85.2,299.39 85.7,299.28 86.2,299.15 86.7,299.02 87.2,298.87 87.7,298.71 88.2,298.52 88.7,298.32 89.2,298.10 89.7,297.84 90.2,297.56 90.7,297.21 91.2,296.73 91.7,296.13 92.2,295.44 92.7,294.68 93.2,293.87 93.7,293.04 94.2,292.16 94.7,291.13 95.2,289.98 95.7,288.75 96.2,287.50 96.7,286.25 97.2,285.06 97.7,283.97 98.2,282.86 98.7,281.75 99.2,280.66 99.7,279.61 100.2,278.64 100.7,277.79 101.2,277.06 101.7,276.37 102.2,275.68 102.7,275.01 103.2,274.39 103.7,273.86 104.2,273.43 104.7,273.13 105.2,273.00 105.7,273.06 106.2,273.28 106.7,273.65 107.2,274.14 107.7,274.72 108.2,275.37 108.7,276.06 109.2,276.77 109.7,277.50 110.2,278.43 110.7,279.54 111.2,280.77 111.7,282.08 112.2,283.40 112.7,284.66 113.2,285.82 113.7,286.98 114.2,288.18 114.7,289.37 115.2,290.51 115.7,291.57 116.2,292.51 116.7,293.30 117.2,293.98 117.7,294.62 118.2,295.24 118.7,295.81 119.2,296.33 119.7,296.81 120.2,297.24 120.7,297.62 121.2,297.94 121.7,298.20 122.2,298.44 122.7,298.68 123.2,298.90 123.7,299.10 124.2,299.28 124.7,299.43 125.2,299.55 125.7,299.64 126.2,299.69 126.7,299.72 127.2,299.74 127.7,299.76 128.2,299.77 128.7,299.79 129.2,299.79 129.7,299.80 130.2,299.79 130.7,299.70 131.2,299.53 131.7,299.30 132.2,299.03 132.7,298.75 133.2,298.46 133.7,298.09 134.2,297.65 134.7,297.16 135.2,296.64 135.7,296.08 136.2,295.50 136.7,294.92 137.2,294.35 137.7,293.79 138.2,293.20 138.7,292.58 139.2,291.93 139.7,291.26 140.2,290.60 140.7,289.95 141.2,289.32 141.7,288.73 142.2,288.20 142.7,287.71 143.2,287.20 143.7,286.67 144.2,286.15 144.7,285.64 145.2,285.16 145.7,284.73 146.2,284.37 146.7,284.08 147.2,283.89 147.7,283.80 148.2,283.84 148.7,283.97 149.2,284.19 149.7,284.49 150.2,284.83 150.7,285.20 151.2,285.59 151.7,285.98 152.2,286.35 152.7,286.80 153.2,287.32 153.7,287.88 154.2,288.47 154.7,289.06 155.2,289.62 155.7,290.13 156.2,290.58 156.7,290.94 157.2,291.29 157.7,291.64 158.2,291.98 158.7,292.27 159.2,292.52 159.7,292.70 160.2,292.79 160.7,292.79 161.2,292.71 161.7,292.56 162.2,292.37 162.7,292.12 163.2,291.84 163.7,291.53 164.2,291.20 164.7,290.85 165.2,290.51 165.7,290.15 166.2,289.71 166.7,289.18 167.2,288.58 167.7,287.94 168.2,287.27 168.7,286.61 169.2,285.98 169.7,285.41 170.2,284.90 170.7,284.50 171.2,284.17 171.7,283.88 172.2,283.61 172.7,283.36 173.2,283.12 173.7,282.90 174.2,282.68 174.7,282.46 175.2,282.23 175.7,282.00 176.2,281.76 176.7,281.53 177.2,281.31 177.7,281.09 178.2,280.84 178.7,280.56 179.2,280.23 179.7,279.84 180.2,279.38 180.7,278.84 181.2,278.22 181.7,277.51 182.2,276.70 182.7,275.66 183.2,274.30 183.7,272.66 184.2,270.80 184.7,268.44 185.2,265.55 185.7,262.83 186.2,260.08 186.7,257.42 187.2,255.00 187.7,252.76 188.2,250.59 188.7,248.60 189.2,246.88 189.7,245.48 190.2,244.29 190.7,243.23 191.2,242.28 191.7,241.39 192.2,240.52 192.7,239.63 193.2,238.63 193.7,237.59 194.2,236.62 194.7,235.85 195.2,235.38 195.7,235.32 196.2,235.57 196.7,236.04 197.2,236.66 197.7,237.39 198.2,238.16 198.7,238.92 199.2,239.60 199.7,240.31 200.2,241.15 200.7,242.04 201.2,242.92 201.7,243.73 202.2,244.39 202.7,244.84 203.2,245.00 203.7,244.86 204.2,244.48 204.7,243.89 205.2,243.13 205.7,242.24 206.2,241.26 206.7,240.23 207.2,239.15 207.7,237.77 208.2,236.08 208.7,234.15 209.2,232.06 209.7,229.79 210.2,227.03 210.7,223.99 211.2,220.91 211.7,218.03 212.2,215.35 212.7,212.56 213.2,209.82 213.7,207.27 214.2,205.10 214.7,203.45 215.2,202.26 215.7,201.13 216.2,200.13 216.7,199.33 217.2,198.79 217.7,198.60 218.2,198.78 218.7,199.29 219.2,200.05 219.7,201.00 220.2,202.07 220.7,203.20 221.2,204.66 221.7,206.65 222.2,208.98 222.7,211.49 223.2,213.99 223.7,216.30 224.2,218.46 224.7,220.62 225.2,222.75 225.7,224.85 226.2,227.09 226.7,229.23 227.2,230.94 227.7,232.19 228.2,233.39 228.7,234.51 229.2,235.49 229.7,236.30 230.2,236.88 230.7,237.17 231.2,237.17 231.7,237.03 232.2,236.77 232.7,236.42 233.2,236.02 233.7,235.58 234.2,235.13 234.7,234.70 235.2,234.30 235.7,233.97 236.2,233.74 236.7,233.61 237.2,233.64 237.7,233.84 238.2,234.20 238.7,234.70 239.2,235.31 239.7,235.99 240.2,236.74 240.7,237.55 241.2,238.76 241.7,240.29 242.2,242.00 242.7,243.74 243.2,245.37 243.7,247.00 244.2,248.66 244.7,250.40 245.2,252.25 245.7,254.25 246.2,256.52 246.7,259.25 247.2,262.03 247.7,264.44 248.2,266.55 248.7,268.49 249.2,270.25 249.7,271.80 250.2,273.19 250.7,274.47 251.2,275.65 251.7,276.77 252.2,277.84 252.7,278.91 253.2,279.96 253.7,280.96 254.2,281.89 254.7,282.73 255.2,283.44 255.7,284.02 256.2,284.58 256.7,285.12 257.2,285.64 257.7,286.10 258.2,286.48 258.7,286.78 259.2,286.95 259.7,287.00 260.2,286.96 260.7,286.86 261.2,286.71 261.7,286.52 262.2,286.29 262.7,286.03 263.2,285.74 263.7,285.44 264.2,285.13 264.7,284.79 265.2,284.34 265.7,283.79 266.2,283.16 266.7,282.45 267.2,281.69 267.7,280.89 268.2,280.06 268.7,279.23 269.2,278.40 269.7,277.58 270.2,276.74 270.7,275.86 271.2,274.92 271.7,273.89 272.2,272.75 272.7,271.47 273.2,269.88 273.7,267.81 274.2,265.61 274.7,263.63 275.2,261.73 275.7,259.82 276.2,257.98 276.7,256.29 277.2,254.84 277.7,253.69 278.2,252.67 278.7,251.66 279.2,250.68 279.7,249.76 280.2,248.92 280.7,248.17 281.2,247.54 281.7,247.03 282.2,246.69 282.7,246.52 283.2,246.54 283.7,246.77 284.2,247.16 284.7,247.69 285.2,248.31 285.7,248.99 286.2,249.69 286.7,250.38 287.2,251.03 287.7,251.76 288.2,252.63 288.7,253.59 289.2,254.62 289.7,255.66 290.2,256.68 290.7,257.64 291.2,258.50 291.7,259.23 292.2,259.78 292.7,260.11 293.2,260.19 293.7,260.00 294.2,259.57 294.7,258.94 295.2,258.14 295.7,257.22 296.2,256.22 296.7,255.17 297.2,254.11 297.7,252.92 298.2,251.36 298.7,249.52 299.2,247.53 299.7,245.49 300.2,243.53 300.7,241.76 301.2,240.29 301.7,239.20 302.2,238.18 302.7,237.18 303.2,236.23 303.7,235.38 304.2,234.66 304.7,234.09 305.2,233.73 305.7,233.60 306.2,233.70 306.7,233.99 307.2,234.44 307.7,235.02 308.2,235.70 308.7,236.46 309.2,237.26 309.7,238.08 310.2,238.96 310.7,240.16 311.2,241.60 311.7,243.16 312.2,244.73 312.7,246.19 313.2,247.42 313.7,248.34 314.2,249.22 314.7,250.07 315.2,250.87 315.7,251.55 316.2,252.08 316.7,252.41 317.2,252.50 317.7,252.34 318.2,251.99 318.7,251.50 319.2,250.91 319.7,250.27 320.2,249.63 320.7,248.92 321.2,248.00 321.7,246.95 322.2,245.85 322.7,244.79 323.2,243.83 323.7,243.06 324.2,242.33 324.7,241.59 325.2,240.89 325.7,240.26 326.2,239.76 326.7,239.42 327.2,239.30 327.7,239.40 328.2,239.69 328.7,240.14 329.2,240.73 329.7,241.42 330.2,242.20 330.7,243.03 331.2,244.06 331.7,245.55 332.2,247.38 332.7,249.41 333.2,251.50 333.7,253.83 334.2,256.52 334.7,259.33 335.2,262.05 335.7,264.45 336.2,266.61 336.7,268.64 337.2,270.59 337.7,272.48 338.2,274.35 338.7,276.23 339.2,278.07 339.7,279.82 340.2,281.42 340.7,282.85 341.2,284.24 341.7,285.59 342.2,286.86 342.7,288.02 343.2,289.04 343.7,289.89 344.2,290.55 344.7,291.14 345.2,291.69 345.7,292.21 346.2,292.69 346.7,293.13 347.2,293.54 347.7,293.91 348.2,294.24 348.7,294.54 349.2,294.80 349.7,295.02 350.2,295.21 350.7,295.38 351.2,295.54 351.7,295.68 352.2,295.80 352.7,295.92 353.2,296.03 353.7,296.14 354.2,296.24 354.7,296.34 355.2,296.45 355.7,296.55 356.2,296.67 356.7,296.80 357.2,296.93 357.7,297.07 358.2,297.20 358.7,297.34 359.2,297.48 359.7,297.61 360.2,297.72 360.7,297.83 361.2,297.93 361.7,298.00 362.2,298.06 362.7,298.09 363.2,298.10 363.7,298.07 364.2,298.01 364.7,297.92 365.2,297.80 365.7,297.66 366.2,297.50 366.7,297.33 367.2,297.15 367.7,296.97 368.2,296.78 368.7,296.54 369.2,296.25 369.7,295.92 370.2,295.56 370.7,295.17 371.2,294.77 371.7,294.37 372.2,293.96 372.7,293.56 373.2,293.18 373.7,292.83 374.2,292.51 374.7,292.20 375.2,291.89 375.7,291.59 376.2,291.30 376.7,291.00 377.2,290.71 377.7,290.42 378.2,290.13 378.7,289.83 379.2,289.53 379.7,289.23 380.2,288.92 380.7,288.64 381.2,288.37 381.7,288.11 382.2,287.83 382.7,287.52 383.2,287.18 383.7,286.78 384.2,286.30 384.7,285.67 385.2,284.73 385.7,283.57 386.2,282.25 386.7,280.86 387.2,279.46 387.7,278.14 388.2,276.81 388.7,275.43 389.2,274.01 389.7,272.58 390.2,271.14 390.7,269.72 391.2,268.32 391.7,266.93 392.2,265.50 392.7,264.00 393.2,262.31 393.7,260.43 394.2,258.47 394.7,256.56 395.2,254.82 395.7,253.37 396.2,252.31 396.7,251.33 397.2,250.37 397.7,249.48 398.2,248.67 398.7,247.97 399.2,247.41 399.7,247.02 400.2,246.82 400.7,246.84 401.2,247.06 401.7,247.45 402.2,247.99 402.7,248.65 403.2,249.41 403.7,250.25 404.2,251.14 404.7,252.14 405.2,253.56 405.7,255.34 406.2,257.37 406.7,259.56 407.2,261.80 407.7,264.00 408.2,266.29 408.7,268.77 409.2,271.27 409.7,273.60 410.2,275.86 410.7,278.17 411.2,280.42 411.7,282.48 412.2,284.25 412.7,285.60 413.2,286.66 413.7,287.63 414.2,288.50 414.7,289.27 415.2,289.93 415.7,290.49 416.2,290.93 416.7,291.29 417.2,291.63 417.7,291.95 418.2,292.23 418.7,292.45 419.2,292.61 419.7,292.69 420.2,292.69 420.7,292.62 421.2,292.50 421.7,292.33 422.2,292.14 422.7,291.93 423.2,291.72 423.7,291.52 424.2,291.33 424.7,291.18 425.2,291.06 425.7,291.01 426.2,291.01 426.7,291.06 427.2,291.15 427.7,291.28 428.2,291.43 428.7,291.60 429.2,291.78 429.7,291.97 430.2,292.16 430.7,292.34 431.2,292.51 431.7,292.65 432.2,292.77 432.7,292.91 433.2,293.05 433.7,293.18 434.2,293.32 434.7,293.44 435.2,293.55 435.7,293.63 436.2,293.68 436.7,293.70 437.2,293.63 437.7,293.42 438.2,293.10 438.7,292.70 439.2,292.22 439.7,291.69 440.2,291.13 440.7,290.57 441.2,290.02 441.7,289.49 442.2,288.92 442.7,288.29 443.2,287.62 443.7,286.92 444.2,286.20 444.7,285.47 445.2,284.75 445.7,284.03 446.2,283.34 446.7,282.64 447.2,281.91 447.7,281.16 448.2,280.42 448.7,279.72 449.2,279.10 449.7,278.57 450.2,278.16 450.7,277.77 451.2,277.41 451.7,277.07 452.2,276.75 452.7,276.46 453.2,276.19 453.7,275.95 454.2,275.74 454.7,275.55 455.2,275.40 455.7,275.27 456.2,275.17 456.7,275.09 457.2,275.01 457.7,274.94 458.2,274.87 458.7,274.79 459.2,274.70 459.7,274.58 460.2,274.44 460.7,274.26 461.2,274.05 461.7,273.79 462.2,273.49 462.7,273.15 463.2,272.75 463.7,272.30 464.2,271.60 464.7,270.66 465.2,269.62 465.7,268.59 466.2,267.50 466.7,266.33 467.2,265.13 467.7,263.91 468.2,262.73 468.7,261.53 469.2,260.24 469.7,258.92 470.2,257.69 470.7,256.63 471.2,255.82 471.7,255.25 472.2,254.70 472.7,254.19 473.2,253.75 473.7,253.39 474.2,253.14 474.7,253.01 475.2,253.03 475.7,253.18 476.2,253.45 476.7,253.83 477.2,254.28 477.7,254.80 478.2,255.35 478.7,255.96 479.2,256.84 479.7,257.98 480.2,259.30 480.7,260.72 481.2,262.16 481.7,263.58 482.2,265.22 482.7,266.97 483.2,268.65 483.7,270.06 484.2,271.11 484.7,272.12 485.2,273.10 485.7,274.04 486.2,274.90 486.7,275.66 487.2,276.30 487.7,276.78 488.2,277.09 488.7,277.20 489.2,277.17 489.7,277.07 490.2,276.92 490.7,276.73 491.2,276.51 491.7,276.27 492.2,276.02 492.7,275.77 493.2,275.53 493.7,275.31 494.2,275.07 494.7,274.80 495.2,274.51 495.7,274.22 496.2,273.94 496.7,273.66 497.2,273.42 497.7,273.20 498.2,273.03 498.7,272.90 499.2,272.80 499.7,272.71 500.2,272.64 500.7,272.57 501.2,272.50 501.7,272.42 502.2,272.33 502.7,272.21 503.2,272.07 503.7,271.86 504.2,271.58 504.7,271.24 505.2,270.85 505.7,270.42 506.2,269.97 506.7,269.50 507.2,268.99 507.7,268.42 508.2,267.79 508.7,267.09 509.2,266.33 509.7,265.52 510.2,264.63 510.7,263.58 511.2,262.37 511.7,261.07 512.2,259.70 512.7,258.33 513.2,257.00 513.7,255.76 514.2,254.48 514.7,253.15 515.2,251.81 515.7,250.53 516.2,249.37 516.7,248.37 517.2,247.60 517.7,246.95 518.2,246.33 518.7,245.77 519.2,245.32 519.7,245.01 520.2,244.90 520.7,244.99 521.2,245.26 521.7,245.67 522.2,246.19 522.7,246.81 523.2,247.48 523.7,248.20 524.2,249.11 524.7,250.36 525.2,251.85 525.7,253.52 526.2,255.30 526.7,257.10 527.2,259.09 527.7,261.33 528.2,263.57 528.7,265.68 529.2,267.76 529.7,269.85 530.2,272.06 530.7,274.20 531.2,276.00 531.7,277.47 532.2,278.82 532.7,280.06 533.2,281.20 533.7,282.26 534.2,283.26 534.7,284.21 535.2,285.15 535.7,286.08 536.2,287.00 536.7,287.89 537.2,288.74 537.7,289.52 538.2,290.21 538.7,290.81 539.2,291.28 539.7,291.63 540.2,291.91 540.7,292.16 541.2,292.38 541.7,292.57 542.2,292.75 542.7,292.92 543.2,293.07 543.7,293.23 544.2,293.40 544.7,293.58 545.2,293.77 545.7,293.99 546.2,294.22 546.7,294.45 547.2,294.69 547.7,294.93 548.2,295.19 548.7,295.44 549.2,295.70 549.7,295.97 550.2,296.24 550.7,296.53 551.2,296.86 551.7,297.20 552.2,297.56 552.7,297.92 553.2,298.27 553.7,298.59 554.2,298.89 554.7,299.14 555.2,299.34 555.7,299.51 556.2,299.67 556.7,299.83 557.2,299.97 557.7,300.10 558.2,300.22 558.7,300.32 559.2,300.41 559.7,300.48 560.2,300.53 560.7,300.57 561.2,300.61 561.7,300.64 562.2,300.67 562.7,300.70 563.2,300.72 563.7,300.74 564.2,300.77 564.7,300.80 565.2,300.84 565.7,300.88 566.2,300.94 566.7,301.02 567.2,301.12 567.7,301.25 568.2,301.38 568.7,301.52 569.2,301.66 569.7,301.79 570.2,301.90 570.7,301.99 571.2,302.06 571.7,302.10 572.2,302.10 572.7,302.09 573.2,302.07 573.7,302.05 574.2,302.03 574.7,301.99 575.2,301.96 575.7,301.92 576.2,301.88 576.7,301.82 577.2,301.74 577.7,301.63 578.2,301.52 578.7,301.39 579.2,301.25 579.7,301.11 580.2,300.96 580.7,300.82 581.2,300.69 581.7,300.57 582.2,300.46 582.7,300.34 583.2,300.23 583.7,300.11 584.2,299.99 584.7,299.87 585.2,299.75 585.7,299.65 586.2,299.55 586.7,299.46 587.2,299.39 587.7,299.33 588.2,299.28 588.7,299.25 589.2,299.21 589.7,299.17 590.2,299.14 590.7,299.11 591.2,299.08 591.7,299.05 592.2,299.03 592.7,299.02 593.2,299.01 593.7,299.00 594.2,299.00 594.7,299.04 595.2,299.11 595.7,299.20 596.2,299.32 596.7,299.46 597.2,299.62 597.7,299.78 598.2,299.95 598.7,300.11 599.2,300.27 599.7,300.42 600.2,300.55 600.7,300.70 601.2,300.87 601.7,301.05 602.2,301.23 602.7,301.41 603.2,301.58 603.7,301.73 604.2,301.87 604.7,301.98 605.2,302.06 605.7,302.10 606.2,302.10 606.7,302.08 607.2,302.05 607.7,302.01 608.2,301.96 608.7,301.90 609.2,301.83 609.7,301.75 610.2,301.68 610.7,301.59 611.2,301.51 611.7,301.43 612.2,301.35 612.7,301.26 613.2,301.17 613.7,301.07 614.2,300.96 614.7,300.84 615.2,300.72 615.7,300.59 616.2,300.45 616.7,300.30 617.2,300.14 617.7,299.97 618.2,299.79 618.7,299.58 619.2,299.34 619.7,299.09 620.2,298.80 620.7,298.50 621.2,298.19 621.7,297.86 622.2,297.51 622.7,297.16 623.2,296.81 623.7,296.45 624.2,296.08 624.7,295.68 625.2,295.25 625.7,294.80 626.2,294.33 626.7,293.85 627.2,293.36 627.7,292.87 628.2,292.38 628.7,291.89 629.2,291.43 629.7,290.97 630.2,290.54 630.7,290.12 631.2,289.70 631.7,289.28 632.2,288.87 632.7,288.47 633.2,288.06 633.7,287.67 634.2,287.27 634.7,286.88 635.2,286.49 635.7,286.12 636.2,285.76 636.7,285.40 637.2,285.05 637.7,284.69 638.2,284.32 638.7,283.94 639.2,283.54 639.7,283.11 640.2,282.69 640.7,282.27 641.2,281.83 641.7,281.35 642.2,280.84 642.7,280.26 643.2,279.60 643.7,278.79 644.2,277.79 644.7,276.64 645.2,275.38 645.7,274.07 646.2,272.75 646.7,271.45 647.2,270.21 647.7,268.99 648.2,267.74 648.7,266.41 649.2,264.95 649.7,263.31 650.2,261.33 650.7,259.14 651.2,256.91 651.7,254.79 652.2,252.69 652.7,250.58 653.2,248.54 653.7,246.64 654.2,244.93 654.7,243.25 655.2,241.62 655.7,240.10 656.2,238.76 656.7,237.69 657.2,236.92 657.7,236.23 658.2,235.59 658.7,235.03 659.2,234.59 659.7,234.30 660.2,234.20 660.7,234.29 661.2,234.56 661.7,234.96 662.2,235.47 662.7,236.05 663.2,236.68 663.7,237.33 664.2,238.17 664.7,239.23 665.2,240.47 665.7,241.80 666.2,243.19 666.7,244.56 667.2,245.86 667.7,247.26 668.2,248.78 668.7,250.35 669.2,251.86 669.7,253.23 670.2,254.37 670.7,255.20 671.2,255.83 671.7,256.42 672.2,256.90 672.7,257.22 673.2,257.30 673.7,257.24 674.2,257.08 674.7,256.77 674.9,256.60" stroke="#2a922a"/>
<path d="M4.2,300.50 4.7,300.35 5.2,300.23 5.7,300.12 6.2,300.04 6.7,299.98 7.2,299.94 7.7,299.91 8.2,299.90 8.7,299.91 9.2,299.99 9.7,300.12 10.2,300.29 10.7,300.49 11.2,300.71 11.7,300.93 12.2,301.15 12.7,301.35 13.2,301.51 13.7,301.63 14.2,301.69 14.7,301.70 15.2,301.68 15.7,301.65 16.2,301.61 16.7,301.56 17.2,301.50 17.7,301.44 18.2,301.37 18.7,301.31 19.2,301.24 19.7,301.18 20.2,301.12 20.7,301.07 21.2,301.01 21.7,300.94 22.2,300.88 22.7,300.81 23.2,300.73 23.7,300.66 24.2,300.59 24.7,300.52 25.2,300.46 25.7,300.40 26.2,300.34 26.7,300.29 27.2,300.25 27.7,300.23 28.2,300.21 28.7,300.20 29.2,300.20 29.7,300.21 30.2,300.22 30.7,300.23 31.2,300.25 31.7,300.27 32.2,300.29 32.7,300.31 33.2,300.34 33.7,300.37 34.2,300.40 34.7,300.43 35.2,300.46 35.7,300.49 36.2,300.52 36.7,300.57 37.2,300.63 37.7,300.70 38.2,300.78 38.7,300.87 39.2,300.95 39.7,301.04 40.2,301.12 40.7,301.20 41.2,301.27 41.7,301.32 42.2,301.37 42.7,301.39 43.2,301.40 43.7,301.39 44.2,301.37 44.7,301.34 45.2,301.30 45.7,301.25 46.2,301.20 46.7,301.15 47.2,301.10 47.7,301.05 48.2,301.00 48.7,300.96 49.2,300.93 49.7,300.91 50.2,300.90 50.7,300.90 51.2,300.90 51.7,300.91 52.2,300.92 52.7,300.93 53.2,300.94 53.7,300.95 54.2,300.97 54.7,300.98 55.2,301.00 55.7,301.02 56.2,301.04 56.7,301.06 57.2,301.09 57.7,301.11 58.2,301.16 58.7,301.23 59.2,301.32 59.7,301.43 60.2,301.54 60.7,301.67 61.2,301.81 61.7,301.94 62.2,302.07 62.7,302.20 63.2,302.32 63.7,302.43 64.2,302.53 64.7,302.60 65.2,302.67 65.7,302.73 66.2,302.80 66.7,302.86 67.2,302.91 67.7,302.96 68.2,302.99 68.7,303.00 69.2,302.98 69.7,302.92 70.2,302.81 70.7,302.68 71.2,302.52 71.7,302.35 72.2,302.17 72.7,301.99 73.2,301.82 73.7,301.67 74.2,301.52 74.7,301.37 75.2,301.21 75.7,301.06 76.2,300.89 76.7,300.74 77.2,300.58 77.7,300.42 78.2,300.27 78.7,300.13 79.2,300.00 79.7,299.88 80.2,299.76 80.7,299.65 81.2,299.55 81.7,299.45 82.2,299.36 82.7,299.26 83.2,299.17 83.7,299.08 84.2,298.98 84.7,298.89 85.2,298.78 85.7,298.68 86.2,298.57 86.7,298.46 87.2,298.35 87.7,298.24 88.2,298.13 88.7,298.02 89.2,297.90 89.7,297.78 90.2,297.65 90.7,297.52 91.2,297.39 91.7,297.24 92.2,297.09 92.7,296.93 93.2,296.77 93.7,296.59 94.2,296.41 94.7,296.23 95.2,296.04 95.7,295.84 96.2,295.64 96.7,295.44 97.2,295.23 97.7,295.01 98.2,294.80 98.7,294.57 99.2,294.34 99.7,294.10 100.2,293.85 100.7,293.60 101.2,293.33 101.7,293.05 102.2,292.76 102.7,292.46 103.2,292.14 103.7,291.81 104.2,291.46 104.7,291.10 105.2,290.72 105.7,290.32 106.2,289.90 106.7,289.47 107.2,289.01 107.7,288.49 108.2,287.92 108.7,287.30 109.2,286.65 109.7,285.99 110.2,285.32 110.7,284.66 111.2,284.02 111.7,283.42 112.2,282.86 112.7,282.29 113.2,281.71 113.7,281.14 114.2,280.57 114.7,280.04 115.2,279.54 115.7,279.10 116.2,278.71 116.7,278.40 117.2,278.13 117.7,277.86 118.2,277.60 118.7,277.35 119.2,277.13 119.7,276.94 120.2,276.78 120.7,276.67 121.2,276.61 121.7,276.60 122.2,276.65 122.7,276.75 123.2,276.88 123.7,277.06 124.2,277.27 124.7,277.51 125.2,277.77 125.7,278.05 126.2,278.34 126.7,278.73 127.2,279.30 127.7,279.89 128.2,280.38 128.7,280.81 129.2,281.22 129.7,281.61 130.2,281.99 130.7,282.35 131.2,282.70 131.7,283.05 132.2,283.39 132.7,283.73 133.2,284.07 133.7,284.42 134.2,284.76 134.7,285.10 135.2,285.43 135.7,285.75 136.2,286.05 136.7,286.34 137.2,286.60 137.7,286.85 138.2,287.09 138.7,287.33 139.2,287.56 139.7,287.79 140.2,288.00 140.7,288.19 141.2,288.35 141.7,288.48 142.2,288.57 142.7,288.63 143.2,288.67 143.7,288.70 144.2,288.72 144.7,288.74 145.2,288.76 145.7,288.79 146.2,288.82 146.7,288.85 147.2,288.90 147.7,288.99 148.2,289.15 148.7,289.36 149.2,289.60 149.7,289.87 150.2,290.14 150.7,290.42 151.2,290.67 151.7,290.89 152.2,291.07 152.7,291.24 153.2,291.42 153.7,291.59 154.2,291.75 154.7,291.91 155.2,292.04 155.7,292.16 156.2,292.24 156.7,292.30 157.2,292.34 157.7,292.37 158.2,292.39 158.7,292.42 159.2,292.44 159.7,292.45 160.2,292.47 160.7,292.48 161.2,292.50 161.7,292.52 162.2,292.54 162.7,292.56 163.2,292.59 163.7,292.62 164.2,292.66 164.7,292.70 165.2,292.75 165.7,292.81 166.2,292.86 166.7,292.92 167.2,292.98 167.7,293.05 168.2,293.11 168.7,293.17 169.2,293.23 169.7,293.29 170.2,293.35 170.7,293.40 171.2,293.45 171.7,293.51 172.2,293.58 172.7,293.64 173.2,293.70 173.7,293.76 174.2,293.81 174.7,293.85 175.2,293.88 175.7,293.90 176.2,293.90 176.7,293.89 177.2,293.87 177.7,293.84 178.2,293.80 178.7,293.77 179.2,293.72 179.7,293.68 180.2,293.64 180.7,293.60 181.2,293.57 181.7,293.54 182.2,293.52 182.7,293.50 183.2,293.50 183.7,293.50 184.2,293.50 184.7,293.51 185.2,293.51 185.7,293.51 186.2,293.52 186.7,293.53 187.2,293.53 187.7,293.54 188.2,293.55 188.7,293.56 189.2,293.57 189.7,293.58 190.2,293.60 190.7,293.62 191.2,293.66 191.7,293.72 192.2,293.79 192.7,293.88 193.2,293.97 193.7,294.07 194.2,294.17 194.7,294.27 195.2,294.36 195.7,294.45 196.2,294.53 196.7,294.62 197.2,294.71 197.7,294.80 198.2,294.90 198.7,295.00 199.2,295.10 199.7,295.20 200.2,295.29 200.7,295.38 201.2,295.46 201.7,295.53 202.2,295.59 202.7,295.64 203.2,295.68 203.7,295.70 204.2,295.70 204.7,295.70 205.2,295.69 205.7,295.68 206.2,295.66 206.7,295.64 207.2,295.62 207.7,295.60 208.2,295.58 208.7,295.55 209.2,295.53 209.7,295.51 210.2,295.49 210.7,295.47 211.2,295.45 211.7,295.43 212.2,295.42 212.7,295.41 213.2,295.40 213.7,295.40 214.2,295.41 214.7,295.45 215.2,295.50 215.7,295.56 216.2,295.64 216.7,295.72 217.2,295.82 217.7,295.92 218.2,296.03 218.7,296.15 219.2,296.26 219.7,296.38 220.2,296.49 220.7,296.60 221.2,296.72 221.7,296.86 222.2,297.02 222.7,297.19 223.2,297.37 223.7,297.56 224.2,297.74 224.7,297.92 225.2,298.09 225.7,298.25 226.2,298.40 226.7,298.52 227.2,298.62 227.7,298.68 228.2,298.72 228.7,298.75 229.2,298.78 229.7,298.80 230.2,298.82 230.7,298.84 231.2,298.85 231.7,298.87 232.2,298.88 232.7,298.90 233.2,298.92 233.7,298.93 234.2,298.95 234.7,298.98 235.2,299.01 235.7,299.04 236.2,299.08 236.7,299.12 237.2,299.16 237.7,299.21 238.2,299.26 238.7,299.31 239.2,299.36 239.7,299.42 240.2,299.47 240.7,299.53 241.2,299.58 241.7,299.64 242.2,299.69 242.7,299.74 243.2,299.81 243.7,299.87 244.2,299.94 244.7,300.02 245.2,300.09 245.7,300.16 246.2,300.23 246.7,300.30 247.2,300.36 247.7,300.41 248.2,300.45 248.7,300.48 249.2,300.50 249.7,300.50 250.2,300.50 250.7,300.50 251.2,300.50 251.7,300.50 252.2,300.50 252.7,300.50 253.2,300.50 253.7,300.50 254.2,300.50 254.7,300.50 255.2,300.50 255.7,300.50 256.2,300.50 256.7,300.48 257.2,300.45 257.7,300.41 258.2,300.35 258.7,300.29 259.2,300.21 259.7,300.13 260.2,300.04 260.7,299.95 261.2,299.85 261.7,299.76 262.2,299.66 262.7,299.56 263.2,299.44 263.7,299.31 264.2,299.17 264.7,299.02 265.2,298.85 265.7,298.68 266.2,298.51 266.7,298.32 267.2,298.12 267.7,297.92 268.2,297.71 268.7,297.46 269.2,297.16 269.7,296.84 270.2,296.49 270.7,296.13 271.2,295.77 271.7,295.42 272.2,295.09 272.7,294.78 273.2,294.52 273.7,294.30 274.2,294.14 274.7,294.01 275.2,293.89 275.7,293.79 276.2,293.70 276.7,293.62 277.2,293.54 277.7,293.45 278.2,293.37 278.7,293.28 279.2,293.18 279.7,293.07 280.2,292.95 280.7,292.82 281.2,292.69 281.7,292.55 282.2,292.40 282.7,292.25 283.2,292.08 283.7,291.90 284.2,291.71 284.7,291.49 285.2,291.26 285.7,291.01 286.2,290.72 286.7,290.33 287.2,289.87 287.7,289.33 288.2,288.75 288.7,288.13 289.2,287.48 289.7,286.84 290.2,286.21 290.7,285.60 291.2,284.99 291.7,284.33 292.2,283.64 292.7,282.94 293.2,282.24 293.7,281.57 294.2,280.94 294.7,280.36 295.2,279.86 295.7,279.44 296.2,279.03 296.7,278.61 297.2,278.21 297.7,277.82 298.2,277.45 298.7,277.12 299.2,276.82 299.7,276.58 300.2,276.38 300.7,276.26 301.2,276.20 301.7,276.23 302.2,276.34 302.7,276.53 303.2,276.78 303.7,277.08 304.2,277.41 304.7,277.78 305.2,278.16 305.7,278.55 306.2,278.93 306.7,279.31 307.2,279.76 307.7,280.26 308.2,280.79 308.7,281.36 309.2,281.95 309.7,282.56 310.2,283.17 310.7,283.78 311.2,284.38 311.7,284.95 312.2,285.50 312.7,286.02 313.2,286.55 313.7,287.08 314.2,287.61 314.7,288.14 315.2,288.66 315.7,289.17 316.2,289.67 316.7,290.15 317.2,290.60 317.7,291.03 318.2,291.42 318.7,291.79 319.2,292.14 319.7,292.47 320.2,292.78 320.7,293.08 321.2,293.37 321.7,293.64 322.2,293.90 322.7,294.15 323.2,294.39 323.7,294.61 324.2,294.84 324.7,295.06 325.2,295.28 325.7,295.51 326.2,295.74 326.7,295.97 327.2,296.21 327.7,296.44 328.2,296.67 328.7,296.89 329.2,297.11 329.7,297.32 330.2,297.51 330.7,297.70 331.2,297.87 331.7,298.02 332.2,298.15 332.7,298.28 333.2,298.40 333.7,298.52 334.2,298.63 334.7,298.74 335.2,298.84 335.7,298.94 336.2,299.03 336.7,299.12 337.2,299.21 337.7,299.29 338.2,299.37 338.7,299.45 339.2,299.53 339.7,299.60 340.2,299.67 340.7,299.74 341.2,299.80 341.7,299.86 342.2,299.91 342.7,299.97 343.2,300.01 343.7,300.06 344.2,300.11 344.7,300.16 345.2,300.21 345.7,300.26 346.2,300.32 346.7,300.38 347.2,300.45 347.7,300.53 348.2,300.64 348.7,300.77 349.2,300.92 349.7,301.07 350.2,301.22 350.7,301.37 351.2,301.50 351.7,301.61 352.2,301.69 352.7,301.74 353.2,301.79 353.7,301.84 354.2,301.89 354.7,301.93 355.2,301.97 355.7,302.01 356.2,302.04 356.7,302.06 357.2,302.08 357.7,302.09 358.2,302.10 358.7,302.09 359.2,302.07 359.7,302.03 360.2,301.98 360.7,301.92 361.2,301.85 361.7,301.77 362.2,301.68 362.7,301.59 363.2,301.50 363.7,301.41 364.2,301.32 364.7,301.23 365.2,301.15 365.7,301.07 366.2,300.99 366.7,300.92 367.2,300.84 367.7,300.76 368.2,300.68 368.7,300.60 369.2,300.52 369.7,300.44 370.2,300.36 370.7,300.27 371.2,300.18 371.7,300.09 372.2,300.00 372.7,299.90 373.2,299.79 373.7,299.66 374.2,299.52 374.7,299.36 375.2,299.21 375.7,299.05 376.2,298.91 376.7,298.78 377.2,298.66 377.7,298.58 378.2,298.52 378.7,298.50 379.2,298.53 379.7,298.60 380.2,298.71 380.7,298.85 381.2,299.02 381.7,299.21 382.2,299.40 382.7,299.60 383.2,299.79 383.7,299.98 384.2,300.20 384.7,300.46 385.2,300.70 385.7,300.91 386.2,301.05 386.7,301.17 387.2,301.28 387.7,301.38 388.2,301.47 388.7,301.55 389.2,301.61 389.7,301.67 390.2,301.72 390.7,301.76 391.2,301.80 391.7,301.84 392.2,301.88 392.7,301.92 393.2,301.95 393.7,301.99 394.2,302.01 394.7,302.04 395.2,302.06 395.7,302.08 396.2,302.09 396.7,302.10 397.2,302.10 397.7,302.10 398.2,302.10 398.7,302.10 399.2,302.10 399.7,302.10 400.2,302.10 400.7,302.10 401.2,302.10 401.7,302.10 402.2,302.10 402.7,302.10 403.2,302.10 403.7,302.10 404.2,302.10 404.7,302.10 405.2,302.11 405.7,302.12 406.2,302.13 406.7,302.15 407.2,302.17 407.7,302.19 408.2,302.21 408.7,302.23 409.2,302.25 409.7,302.27 410.2,302.28 410.7,302.29 411.2,302.30 411.7,302.30 412.2,302.30 412.7,302.30 413.2,302.30 413.7,302.30 414.2,302.30 414.7,302.30 415.2,302.30 415.7,302.30 416.2,302.30 416.7,302.30 417.2,302.30 417.7,302.30 418.2,302.30 418.7,302.30 419.2,302.29 419.7,302.27 420.2,302.24 420.7,302.20 421.2,302.16 421.7,302.10 422.2,302.04 422.7,301.97 423.2,301.91 423.7,301.84 424.2,301.77 424.7,301.70 425.2,301.63 425.7,301.55 426.2,301.46 426.7,301.37 427.2,301.27 427.7,301.17 428.2,301.06 428.7,300.95 429.2,300.84 429.7,300.72 430.2,300.61 430.7,300.50 431.2,300.39 431.7,300.26 432.2,300.14 432.7,300.01 433.2,299.88 433.7,299.74 434.2,299.61 434.7,299.48 435.2,299.35 435.7,299.23 436.2,299.11 436.7,299.00 437.2,298.89 437.7,298.79 438.2,298.69 438.7,298.59 439.2,298.49 439.7,298.40 440.2,298.31 440.7,298.23 441.2,298.15 441.7,298.07 442.2,297.99 442.7,297.91 443.2,297.82 443.7,297.74 444.2,297.67 444.7,297.60 445.2,297.55 445.7,297.52 446.2,297.50 446.7,297.51 447.2,297.55 447.7,297.60 448.2,297.68 448.7,297.76 449.2,297.85 449.7,297.95 450.2,298.04 450.7,298.16 451.2,298.32 451.7,298.49 452.2,298.65 452.7,298.80 453.2,298.92 453.7,298.99 454.2,299.00 454.7,298.98 455.2,298.94 455.7,298.89 456.2,298.82 456.7,298.74 457.2,298.65 457.7,298.56 458.2,298.46 458.7,298.36 459.2,298.26 459.7,298.16 460.2,298.06 460.7,297.96 461.2,297.85 461.7,297.73 462.2,297.61 462.7,297.49 463.2,297.36 463.7,297.22 464.2,297.09 464.7,296.95 465.2,296.82 465.7,296.68 466.2,296.55 466.7,296.42 467.2,296.29 467.7,296.17 468.2,296.04 468.7,295.91 469.2,295.78 469.7,295.65 470.2,295.50 470.7,295.35 471.2,295.19 471.7,295.01 472.2,294.82 472.7,294.61 473.2,294.39 473.7,294.14 474.2,293.88 474.7,293.60 475.2,293.31 475.7,293.00 476.2,292.68 476.7,292.34 477.2,292.00 477.7,291.64 478.2,291.28 478.7,290.88 479.2,290.45 479.7,290.00 480.2,289.53 480.7,289.04 481.2,288.53 481.7,288.00 482.2,287.47 482.7,286.92 483.2,286.37 483.7,285.82 484.2,285.25 484.7,284.62 485.2,283.94 485.7,283.23 486.2,282.51 486.7,281.81 487.2,281.15 487.7,280.55 488.2,280.02 488.7,279.60 489.2,279.24 489.7,278.87 490.2,278.52 490.7,278.18 491.2,277.85 491.7,277.56 492.2,277.29 492.7,277.06 493.2,276.86 493.7,276.72 494.2,276.63 494.7,276.60 495.2,276.64 495.7,276.76 496.2,276.95 496.7,277.19 497.2,277.48 497.7,277.79 498.2,278.13 498.7,278.47 499.2,278.81 499.7,279.13 500.2,279.52 500.7,279.96 501.2,280.44 501.7,280.94 502.2,281.45 502.7,281.94 503.2,282.40 503.7,282.81 504.2,283.14 504.7,283.42 505.2,283.67 505.7,283.91 506.2,284.13 506.7,284.34 507.2,284.54 507.7,284.73 508.2,284.91 508.7,285.08 509.2,285.25 509.7,285.41 510.2,285.57 510.7,285.73 511.2,285.90 511.7,286.08 512.2,286.26 512.7,286.43 513.2,286.59 513.7,286.73 514.2,286.84 514.7,286.93 515.2,286.99 515.7,287.00 516.2,286.94 516.7,286.79 517.2,286.58 517.7,286.31 518.2,286.00 518.7,285.66 519.2,285.29 519.7,284.92 520.2,284.54 520.7,284.18 521.2,283.78 521.7,283.34 522.2,282.87 522.7,282.36 523.2,281.82 523.7,281.26 524.2,280.67 524.7,280.05 525.2,279.41 525.7,278.75 526.2,278.08 526.7,277.37 527.2,276.59 527.7,275.75 528.2,274.86 528.7,273.93 529.2,272.97 529.7,272.00 530.2,270.94 530.7,269.76 531.2,268.54 531.7,267.37 532.2,266.33 532.7,265.50 533.2,264.83 533.7,264.21 534.2,263.65 534.7,263.13 535.2,262.68 535.7,262.29 536.2,261.96 536.7,261.67 537.2,261.39 537.7,261.14 538.2,260.92 538.7,260.77 539.2,260.70 539.7,260.75 540.2,260.91 540.7,261.17 541.2,261.47 541.7,261.79 542.2,262.09 542.7,262.33 543.2,262.47 543.7,262.50 544.2,262.50 544.7,262.50 545.2,262.50 545.7,262.50 546.2,262.50 546.7,262.50 547.2,262.50 547.7,262.47 548.2,262.40 548.7,262.30 549.2,262.18 549.7,262.03 550.2,261.87 550.7,261.70 551.2,261.53 551.7,261.36 552.2,261.19 552.7,260.96 553.2,260.69 553.7,260.40 554.2,260.12 554.7,259.87 555.2,259.66 555.7,259.53 556.2,259.50 556.7,259.55 557.2,259.67 557.7,259.85 558.2,260.08 558.7,260.34 559.2,260.62 559.7,260.93 560.2,261.24 560.7,261.58 561.2,262.01 561.7,262.52 562.2,263.07 562.7,263.65 563.2,264.24 563.7,264.89 564.2,265.59 564.7,266.32 565.2,267.08 565.7,267.83 566.2,268.57 566.7,269.28 567.2,270.00 567.7,270.72 568.2,271.43 568.7,272.14 569.2,272.84 569.7,273.50 570.2,274.14 570.7,274.73 571.2,275.31 571.7,275.86 572.2,276.39 572.7,276.91 573.2,277.42 573.7,277.91 574.2,278.39 574.7,278.87 575.2,279.33 575.7,279.78 576.2,280.25 576.7,280.74 577.2,281.22 577.7,281.69 578.2,282.14 578.7,282.56 579.2,282.93 579.7,283.26 580.2,283.52 580.7,283.72 581.2,283.90 581.7,284.09 582.2,284.26 582.7,284.43 583.2,284.59 583.7,284.73 584.2,284.87 584.7,284.98 585.2,285.09 585.7,285.17 586.2,285.23 586.7,285.28 587.2,285.30 587.7,285.29 588.2,285.26 588.7,285.19 589.2,285.09 589.7,284.96 590.2,284.81 590.7,284.64 591.2,284.45 591.7,284.25 592.2,284.03 592.7,283.81 593.2,283.58 593.7,283.34 594.2,283.10 594.7,282.81 595.2,282.47 595.7,282.08 596.2,281.65 596.7,281.18 597.2,280.69 597.7,280.19 598.2,279.67 598.7,279.14 599.2,278.62 599.7,278.10 600.2,277.60 600.7,277.07 601.2,276.51 601.7,275.93 602.2,275.33 602.7,274.73 603.2,274.13 603.7,273.54 604.2,272.96 604.7,272.40 605.2,271.88 605.7,271.38 606.2,270.93 606.7,270.46 607.2,270.00 607.7,269.56 608.2,269.14 608.7,268.77 609.2,268.44 609.7,268.18 610.2,267.99 610.7,267.81 611.2,267.65 611.7,267.50 612.2,267.37 612.7,267.25 613.2,267.14 613.7,267.05 614.2,266.97 614.7,266.90 615.2,266.85 615.7,266.81 616.2,266.77 616.7,266.74 617.2,266.71 617.7,266.67 618.2,266.61 618.7,266.53 619.2,266.40 619.7,266.24 620.2,266.04 620.7,265.82 621.2,265.58 621.7,265.33 622.2,265.09 622.7,264.85 623.2,264.62 623.7,264.42 624.2,264.18 624.7,263.92 625.2,263.66 625.7,263.42 626.2,263.21 626.7,263.07 627.2,263.00 627.7,263.04 628.2,263.19 628.7,263.43 629.2,263.71 629.7,264.02 630.2,264.32 630.7,264.67 631.2,265.07 631.7,265.52 632.2,266.00 632.7,266.51 633.2,267.04 633.7,267.59 634.2,268.14 634.7,268.69 635.2,269.24 635.7,269.82 636.2,270.42 636.7,271.03 637.2,271.67 637.7,272.31 638.2,272.96 638.7,273.62 639.2,274.27 639.7,274.93 640.2,275.60 640.7,276.28 641.2,276.98 641.7,277.68 642.2,278.38 642.7,279.08 643.2,279.78 643.7,280.47 644.2,281.14 644.7,281.80 645.2,282.49 645.7,283.20 646.2,283.92 646.7,284.62 647.2,285.29 647.7,285.92 648.2,286.50 648.7,286.99 649.2,287.40 649.7,287.74 650.2,288.03 650.7,288.30 651.2,288.55 651.7,288.77 652.2,288.99 652.7,289.21 653.2,289.42 653.7,289.65 654.2,289.90 654.7,290.16 655.2,290.43 655.7,290.69 656.2,290.96 656.7,291.23 657.2,291.48 657.7,291.73 658.2,291.95 658.7,292.16 659.2,292.35 659.7,292.52 660.2,292.69 660.7,292.84 661.2,292.99 661.7,293.14 662.2,293.28 662.7,293.43 663.2,293.58 663.7,293.73 664.2,293.89 664.7,294.06 665.2,294.22 665.7,294.39 666.2,294.55 666.7,294.72 667.2,294.87 667.7,295.03 668.2,295.17 668.7,295.32 669.2,295.48 669.7,295.65 670.2,295.81 670.7,295.94 671.2,296.04 671.7,296.09 672.2,296.10 672.7,296.09 673.2,296.06 673.7,296.02 674.2,295.95 674.7,295.85 674.9,295.80" stroke="#3030ff"/>
</g>
<g class="t">
<text transform="translate(24.5,120.1) scale(0.92,1)" class="num">61</text>
<text transform="translate(48,120.1) scale(0.92,1)" class="num">62</text>
<text transform="translate(72.9,120.1) scale(0.92,1)" class="num">63</text>
<text transform="translate(96.4,120.1) scale(0.92,1)" class="num">64</text>
<text transform="translate(121.1,120.1) scale(0.92,1)" class="num">65</text>
<text transform="translate(143,120.1) scale(0.92,1)" class="num">66</text>
<text transform="translate(166.6,120.1) scale(0.92,1)" class="num">67</text>
<text transform="translate(196,120.1) scale(0.92,1)" class="num">68</text>
<text transform="translate(219.4,120.1) scale(0.92,1)" class="num">69</text>
<text transform="translate(241.1,120.1) scale(0.92,1)" class="num">70</text>
<text transform="translate(256.7,120.1) scale(0.92,1)" class="num">71</text>
<text transform="translate(284.4,120.1) scale(0.92,1)" class="num">72</text>
<text transform="translate(306,120.1) scale(0.92,1)" class="num">73</text>
<text transform="translate(331.3,120.1) scale(0.92,1)" class="num">74</text>
<text transform="translate(351.5,120.1) scale(0.92,1)" class="num">75</text>
<text transform="translate(376.3,120.1) scale(0.92,1)" class="num">76</text>
<text transform="translate(402.4,120.1) scale(0.92,1)" class="num">77</text>
<text transform="translate(426,120.1) scale(0.92,1)" class="num">78</text>
<text transform="translate(453.6,120.1) scale(0.92,1)" class="num">79</text>
<text transform="translate(480.3,120.1) scale(0.92,1)" class="num">80</text>
<text transform="translate(503.3,120.1) scale(0.92,1)" class="num">81</text>
<text transform="translate(527.1,120.1) scale(0.92,1)" class="num">82</text>
<text transform="translate(548.8,120.1) scale(0.92,1)" class="num">83</text>
<text transform="translate(570.5,120.1) scale(0.92,1)" class="num">84</text>
<text transform="translate(595.4,120.1) scale(0.92,1)" class="num">85</text>
<text transform="translate(620,120.1) scale(0.92,1)" class="num">86</text>
<text transform="translate(643.7,120.1) scale(0.92,1)" class="num">87</text>
<text transform="translate(24.5,135.7) scale(0.86,1)" class="base" fill="#ff2a2a" stroke="#ff2a2a">T</text>
<text transform="translate(48,135.7) scale(0.86,1)" class="base" fill="#f7f700" stroke="#f7f700">G</text>
<text transform="translate(72.9,135.7) scale(0.86,1)" class="base" fill="#ff2a2a" stroke="#ff2a2a">T</text>
<text transform="translate(96.4,135.7) scale(0.86,1)" class="base" fill="#f7f700" stroke="#f7f700">G</text>
<text transform="translate(121.1,135.7) scale(0.86,1)" class="base" fill="#2a2aff" stroke="#2a2aff">C</text>
<text transform="translate(143,135.7) scale(0.86,1)" class="base" fill="#ff2a2a" stroke="#ff2a2a">T</text>
<text transform="translate(166.6,135.7) scale(0.86,1)" class="base" fill="#f7f700" stroke="#f7f700">G</text>
<text transform="translate(196,135.7) scale(0.86,1)" class="base" fill="#209020" stroke="#209020">A</text>
<text transform="translate(219.4,135.7) scale(0.86,1)" class="base" fill="#209020" stroke="#209020">A</text>
<text transform="translate(241.1,135.7) scale(0.86,1)" class="base" fill="#209020" stroke="#209020">A</text>
<text transform="translate(256.7,135.7) scale(0.86,1)" class="base" fill="#f7f700" stroke="#f7f700">G</text>
<text transform="translate(284.4,135.7) scale(0.86,1)" class="base" fill="#209020" stroke="#209020">A</text>
<text transform="translate(306,135.7) scale(0.86,1)" class="base" fill="#2a2aff" stroke="#2a2aff">C</text>
<text transform="translate(331.3,135.7) scale(0.86,1)" class="base" fill="#209020" stroke="#209020">A</text>
<text transform="translate(351.5,135.7) scale(0.86,1)" class="base" fill="#ff2a2a" stroke="#ff2a2a">T</text>
<text transform="translate(376.3,135.7) scale(0.86,1)" class="base" fill="#ff2a2a" stroke="#ff2a2a">T</text>
<text transform="translate(402.4,135.7) scale(0.86,1)" class="base" fill="#209020" stroke="#209020">A</text>
<text transform="translate(426,135.7) scale(0.86,1)" class="base" fill="#ff2a2a" stroke="#ff2a2a">T</text>
<text transform="translate(453.6,135.7) scale(0.86,1)" class="base" fill="#f7f700" stroke="#f7f700">G</text>
<text transform="translate(480.3,135.7) scale(0.86,1)" class="base" fill="#209020" stroke="#209020">A</text>
<text transform="translate(503.3,135.7) scale(0.86,1)" class="base" fill="#2a2aff" stroke="#2a2aff">C</text>
<text transform="translate(527.1,135.7) scale(0.86,1)" class="base" fill="#209020" stroke="#209020">A</text>
<text transform="translate(548.8,135.7) scale(0.86,1)" class="base" fill="#2a2aff" stroke="#2a2aff">C</text>
<text transform="translate(570.5,135.7) scale(0.86,1)" class="base" fill="#2a2aff" stroke="#2a2aff">C</text>
<text transform="translate(595.4,135.7) scale(0.86,1)" class="base" fill="#f7f700" stroke="#f7f700">G</text>
<text transform="translate(620,135.7) scale(0.86,1)" class="base" fill="#2a2aff" stroke="#2a2aff">C</text>
<text transform="translate(643.7,135.7) scale(0.86,1)" class="base" fill="#2a2aff" stroke="#2a2aff">C</text>
<text transform="translate(666.4,135.7) scale(0.86,1)" class="base" fill="#209020" stroke="#209020">A</text>
<text transform="translate(657.5,120.1) scale(0.92,1)" class="bl">Bases</text>
<text transform="translate(29.2,317.2) scale(0.92,1)" class="num">62</text>
<text transform="translate(55.6,317.2) scale(0.92,1)" class="num">63</text>
<text transform="translate(78.2,317.2) scale(0.92,1)" class="num">64</text>
<text transform="translate(104.1,317.2) scale(0.92,1)" class="num">65</text>
<text transform="translate(121.1,317.2) scale(0.92,1)" class="num">66</text>
<text transform="translate(146.9,317.2) scale(0.92,1)" class="num">67</text>
<text transform="translate(170.2,317.2) scale(0.92,1)" class="num">68</text>
<text transform="translate(194.7,317.2) scale(0.92,1)" class="num">69</text>
<text transform="translate(217.6,317.2) scale(0.92,1)" class="num">70</text>
<text transform="translate(239.3,317.2) scale(0.92,1)" class="num">71</text>
<text transform="translate(258.8,317.2) scale(0.92,1)" class="num">72</text>
<text transform="translate(282.1,317.2) scale(0.92,1)" class="num">73</text>
<text transform="translate(306.6,317.2) scale(0.92,1)" class="num">74</text>
<text transform="translate(328,317.2) scale(0.92,1)" class="num">75</text>
<text transform="translate(351.3,317.2) scale(0.92,1)" class="num">76</text>
<text transform="translate(375.6,317.2) scale(0.92,1)" class="num">77</text>
<text transform="translate(400.3,317.2) scale(0.92,1)" class="num">78</text>
<text transform="translate(424.7,317.2) scale(0.92,1)" class="num">79</text>
<text transform="translate(450.6,317.2) scale(0.92,1)" class="num">80</text>
<text transform="translate(475.4,317.2) scale(0.92,1)" class="num">81</text>
<text transform="translate(495.3,317.2) scale(0.92,1)" class="num">82</text>
<text transform="translate(519.8,317.2) scale(0.92,1)" class="num">83</text>
<text transform="translate(539.8,317.2) scale(0.92,1)" class="num">84</text>
<text transform="translate(560,317.2) scale(0.92,1)" class="num">85</text>
<text transform="translate(589.2,317.2) scale(0.92,1)" class="num">86</text>
<text transform="translate(613.3,317.2) scale(0.92,1)" class="num">87</text>
<text transform="translate(630.5,317.2) scale(0.92,1)" class="num">88</text>
<text transform="translate(29.2,332) scale(0.86,1)" class="base" fill="#ff2a2a" stroke="#ff2a2a">T</text>
<text transform="translate(55.6,332) scale(0.86,1)" class="base" fill="#f7f700" stroke="#f7f700">G</text>
<text transform="translate(78.2,332) scale(0.86,1)" class="base" fill="#ff2a2a" stroke="#ff2a2a">T</text>
<text transform="translate(104.1,332) scale(0.86,1)" class="base" fill="#f7f700" stroke="#f7f700">G</text>
<text transform="translate(121.1,332) scale(0.86,1)" class="base" fill="#2a2aff" stroke="#2a2aff">C</text>
<text transform="translate(146.9,332) scale(0.86,1)" class="base" fill="#ff2a2a" stroke="#ff2a2a">T</text>
<text transform="translate(170.2,332) scale(0.86,1)" class="base" fill="#f7f700" stroke="#f7f700">G</text>
<text transform="translate(194.7,332) scale(0.86,1)" class="base" fill="#209020" stroke="#209020">A</text>
<text transform="translate(217.6,332) scale(0.86,1)" class="base" fill="#209020" stroke="#209020">A</text>
<text transform="translate(239.3,332) scale(0.86,1)" class="base" fill="#209020" stroke="#209020">A</text>
<text transform="translate(258.8,332) scale(0.86,1)" class="base" fill="#f7f700" stroke="#f7f700">G</text>
<text transform="translate(282.1,332) scale(0.86,1)" class="base" fill="#209020" stroke="#209020">A</text>
<text transform="translate(306.6,332) scale(0.86,1)" class="base" fill="#209020" stroke="#209020">A</text>
<text transform="translate(328,332) scale(0.86,1)" class="base" fill="#209020" stroke="#209020">A</text>
<text transform="translate(351.3,332) scale(0.86,1)" class="base" fill="#ff2a2a" stroke="#ff2a2a">T</text>
<text transform="translate(375.6,332) scale(0.86,1)" class="base" fill="#ff2a2a" stroke="#ff2a2a">T</text>
<text transform="translate(400.3,332) scale(0.86,1)" class="base" fill="#209020" stroke="#209020">A</text>
<text transform="translate(424.7,332) scale(0.86,1)" class="base" fill="#ff2a2a" stroke="#ff2a2a">T</text>
<text transform="translate(450.6,332) scale(0.86,1)" class="base" fill="#f7f700" stroke="#f7f700">G</text>
<text transform="translate(475.4,332) scale(0.86,1)" class="base" fill="#209020" stroke="#209020">A</text>
<text transform="translate(495.3,332) scale(0.86,1)" class="base" fill="#222222" stroke="#222222">M</text>
<text transform="translate(519.8,332) scale(0.86,1)" class="base" fill="#209020" stroke="#209020">A</text>
<text transform="translate(539.8,332) scale(0.86,1)" class="base" fill="#2a2aff" stroke="#2a2aff">C</text>
<text transform="translate(560,332) scale(0.86,1)" class="base" fill="#2a2aff" stroke="#2a2aff">C</text>
<text transform="translate(589.2,332) scale(0.86,1)" class="base" fill="#f7f700" stroke="#f7f700">G</text>
<text transform="translate(613.3,332) scale(0.86,1)" class="base" fill="#2a2aff" stroke="#2a2aff">C</text>
<text transform="translate(630.5,332) scale(0.86,1)" class="base" fill="#2a2aff" stroke="#2a2aff">C</text>
<text transform="translate(657.3,332) scale(0.86,1)" class="base" fill="#209020" stroke="#209020">A</text>
<text transform="translate(652,317.2) scale(0.92,1)" class="bl">Bases</text>
</g>
<line x1="307.7" y1="178" x2="307.7" y2="211" stroke="#000" stroke-width="1.7"/>
<path d="M303.6,210.2 L307.7,209 L311.9,210.2 L307.7,218.6 Z" fill="#000"/>
</svg>
</body></html>
